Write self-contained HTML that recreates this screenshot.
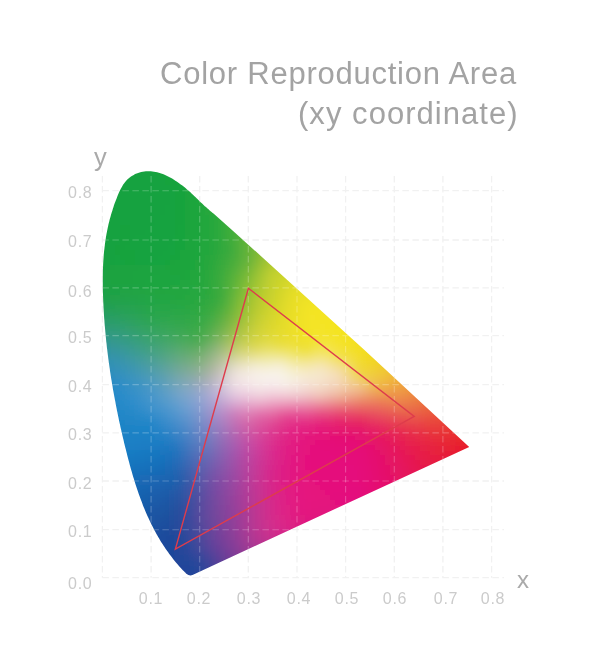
<!DOCTYPE html>
<html><head><meta charset="utf-8"><title>Color Reproduction Area</title>
<style>
html,body{margin:0;padding:0;background:#fff}
body{width:605px;height:657px;position:relative;overflow:hidden;font-family:"Liberation Sans",sans-serif}
svg{position:absolute;left:0;top:0}
.cells rect{height:5px}
.gridbg line{stroke:#f1f1f1;stroke-width:1.3;stroke-dasharray:6.5 3.5}
.gridfg line{stroke:#fff;stroke-opacity:.24;stroke-width:1.15;stroke-dasharray:6.5 3.5}
.title,.t,.ax{will-change:transform}
.title{position:absolute;right:89px;color:#a3a3a3;font-size:31px;white-space:nowrap;line-height:40px;transform-origin:100% 50%}
.t{position:absolute;color:#cbcbcb;font-size:16px;line-height:15px;white-space:nowrap;letter-spacing:.7px}
.yl{left:50px;width:42.4px;text-align:right}
.xl{top:591px;width:40px;text-align:center}
.ax{position:absolute;color:#aaa;font-size:24px;line-height:24px}
</style></head><body>
<div class="title" id="t1" style="top:54px;right:88px;letter-spacing:.76px">Color Reproduction Area</div>
<div class="title" id="t2" style="top:94px;right:86.7px;letter-spacing:1.04px">(xy coordinate)</div>
<svg width="605" height="657" viewBox="0 0 605 657">
<defs>
<clipPath id="locus"><path d="M186.3 573.7C185.9 573.3 184.7 572.1 184.0 571.3C183.2 570.5 182.4 569.7 181.7 568.9C180.9 568.1 180.2 567.3 179.4 566.5C178.7 565.6 178.0 564.8 177.3 564.0C176.5 563.2 175.8 562.3 175.1 561.5C174.4 560.6 173.8 559.8 173.1 558.9C172.4 558.1 171.7 557.2 171.1 556.3C170.4 555.5 169.8 554.6 169.1 553.7C168.5 552.9 167.9 552.0 167.2 551.1C166.6 550.2 166.0 549.3 165.4 548.4C164.8 547.5 164.2 546.6 163.6 545.7C163.0 544.8 162.4 543.9 161.8 543.0C161.3 542.1 160.7 541.2 160.1 540.2C159.6 539.3 159.0 538.4 158.5 537.5C157.9 536.5 157.4 535.6 156.9 534.7C156.3 533.7 155.8 532.8 155.3 531.8C154.8 530.9 154.3 529.9 153.8 529.0C153.3 528.0 152.8 527.1 152.3 526.1C151.8 525.1 151.3 524.2 150.9 523.2C150.4 522.2 149.9 521.2 149.5 520.3C149.0 519.3 148.6 518.3 148.1 517.3C147.7 516.3 147.2 515.4 146.8 514.4C146.4 513.4 145.9 512.4 145.5 511.4C145.1 510.4 144.7 509.4 144.3 508.4C143.8 507.4 143.4 506.4 143.0 505.4C142.6 504.4 142.2 503.4 141.9 502.3C141.5 501.3 141.1 500.3 140.7 499.3C140.3 498.3 140.0 497.3 139.6 496.2C139.2 495.2 138.9 494.2 138.5 493.2C138.1 492.1 137.8 491.1 137.4 490.1C137.1 489.0 136.7 488.0 136.4 487.0C136.1 485.9 135.7 484.9 135.4 483.9C135.1 482.8 134.7 481.8 134.4 480.7C134.1 479.7 133.8 478.6 133.4 477.6C133.1 476.6 132.8 475.5 132.5 474.5C132.2 473.4 131.9 472.4 131.6 471.3C131.3 470.3 131.0 469.2 130.7 468.2C130.4 467.1 130.1 466.0 129.8 465.0C129.5 463.9 129.2 462.9 129.0 461.8C128.7 460.8 128.4 459.7 128.1 458.6C127.8 457.6 127.6 456.5 127.3 455.5C127.0 454.4 126.8 453.3 126.5 452.3C126.2 451.2 126.0 450.2 125.7 449.1C125.4 448.0 125.2 447.0 124.9 445.9C124.6 444.8 124.4 443.8 124.1 442.7C123.9 441.6 123.6 440.6 123.4 439.5C123.1 438.5 122.9 437.4 122.6 436.3C122.4 435.3 122.1 434.2 121.9 433.1C121.6 432.1 121.4 431.0 121.2 429.9C120.9 428.9 120.7 427.8 120.4 426.7C120.2 425.7 120.0 424.6 119.7 423.6C119.5 422.5 119.3 421.4 119.0 420.4C118.8 419.3 118.6 418.2 118.4 417.2C118.1 416.1 117.9 415.0 117.7 414.0C117.5 412.9 117.3 411.8 117.0 410.8C116.8 409.7 116.6 408.6 116.4 407.6C116.2 406.5 116.0 405.4 115.8 404.4C115.6 403.3 115.4 402.2 115.2 401.1C115.0 400.1 114.8 399.0 114.6 397.9C114.4 396.9 114.2 395.8 114.0 394.7C113.8 393.7 113.6 392.6 113.4 391.5C113.2 390.5 113.0 389.4 112.8 388.3C112.7 387.2 112.5 386.2 112.3 385.1C112.1 384.0 111.9 383.0 111.8 381.9C111.6 380.8 111.4 379.7 111.2 378.7C111.1 377.6 110.9 376.5 110.7 375.4C110.6 374.4 110.4 373.3 110.2 372.2C110.1 371.2 109.9 370.1 109.8 369.0C109.6 367.9 109.4 366.9 109.3 365.8C109.1 364.7 109.0 363.6 108.8 362.6C108.7 361.5 108.6 360.4 108.4 359.3C108.3 358.3 108.1 357.2 108.0 356.1C107.9 355.0 107.7 353.9 107.6 352.9C107.5 351.8 107.3 350.7 107.2 349.6C107.1 348.6 106.9 347.5 106.8 346.4C106.7 345.3 106.6 344.2 106.5 343.2C106.3 342.1 106.2 341.0 106.1 339.9C106.0 338.8 105.9 337.8 105.8 336.7C105.7 335.6 105.6 334.5 105.5 333.4C105.4 332.4 105.3 331.3 105.2 330.2C105.1 329.1 105.0 328.0 104.9 327.0C104.8 325.9 104.7 324.8 104.6 323.7C104.5 322.6 104.5 321.5 104.4 320.4C104.3 319.4 104.2 318.3 104.1 317.2C104.1 316.1 104.0 315.0 103.9 313.9C103.9 312.9 103.8 311.8 103.7 310.7C103.7 309.6 103.6 308.5 103.5 307.4C103.5 306.3 103.4 305.2 103.4 304.2C103.3 303.1 103.3 302.0 103.2 300.9C103.2 299.8 103.1 298.7 103.1 297.6C103.1 296.5 103.0 295.4 103.0 294.3C102.9 293.3 102.9 292.2 102.9 291.1C102.9 290.0 102.8 288.9 102.8 287.8C102.8 286.7 102.8 285.6 102.8 284.5C102.8 283.4 102.8 282.3 102.8 281.2C102.8 280.2 102.8 279.1 102.8 278.0C102.8 276.9 102.8 275.8 102.8 274.7C102.8 273.6 102.8 272.5 102.9 271.4C102.9 270.3 102.9 269.3 103.0 268.2C103.0 267.1 103.1 266.0 103.1 264.9C103.2 263.8 103.2 262.7 103.3 261.6C103.3 260.6 103.4 259.5 103.5 258.4C103.6 257.3 103.7 256.2 103.7 255.1C103.8 254.1 103.9 253.0 104.0 251.9C104.1 250.8 104.3 249.7 104.4 248.7C104.5 247.6 104.6 246.5 104.8 245.4C104.9 244.3 105.0 243.3 105.2 242.2C105.3 241.1 105.5 240.0 105.7 239.0C105.8 237.9 106.0 236.8 106.2 235.8C106.4 234.7 106.6 233.6 106.8 232.6C107.0 231.5 107.2 230.4 107.4 229.4C107.6 228.3 107.9 227.2 108.1 226.2C108.3 225.1 108.6 224.1 108.8 223.0C109.1 222.0 109.4 220.9 109.6 219.8C109.9 218.8 110.2 217.7 110.5 216.7C110.8 215.6 111.1 214.6 111.4 213.5C111.7 212.5 112.0 211.4 112.4 210.4C112.7 209.3 113.0 208.3 113.4 207.3C113.7 206.2 114.1 205.2 114.4 204.1C114.8 203.1 115.2 202.0 115.6 201.0C116.0 200.0 116.4 198.9 116.8 197.9C117.2 196.9 117.6 195.8 118.0 194.8C118.4 193.8 118.9 192.7 119.3 191.7C119.8 190.7 120.3 189.7 120.8 188.8C121.3 187.8 121.8 186.8 122.4 185.9C122.9 185.0 123.5 184.1 124.2 183.2C124.8 182.4 125.5 181.5 126.2 180.8C126.9 180.0 127.7 179.2 128.5 178.5C129.3 177.8 130.1 177.2 131.0 176.6C131.8 176.0 132.8 175.4 133.7 174.9C134.6 174.4 135.6 174.0 136.6 173.6C137.6 173.1 138.6 172.8 139.6 172.5C140.6 172.2 141.7 171.9 142.7 171.7C143.8 171.5 144.9 171.4 145.9 171.3C147.0 171.2 148.1 171.2 149.2 171.2C150.2 171.2 151.3 171.3 152.4 171.4C153.5 171.5 154.5 171.7 155.6 171.9C156.7 172.1 157.7 172.4 158.8 172.7C159.9 173.0 160.9 173.4 162.0 173.7C163.0 174.1 164.0 174.5 165.1 175.0C166.1 175.4 167.1 175.9 168.1 176.4C169.1 176.9 170.1 177.4 171.1 178.0C172.1 178.5 173.0 179.1 174.0 179.7C174.9 180.3 175.8 180.9 176.7 181.5C177.7 182.1 178.5 182.7 179.4 183.4C180.3 184.0 181.2 184.6 182.0 185.3C182.9 186.0 183.7 186.7 184.6 187.3C185.4 188.0 186.2 188.7 187.0 189.4C187.9 190.1 188.7 190.9 189.5 191.6C190.3 192.3 191.1 193.0 191.8 193.8C192.6 194.5 193.4 195.2 194.2 196.0C195.0 196.7 195.8 197.4 196.6 198.2C197.3 198.9 198.1 199.7 198.9 200.4C199.7 201.2 200.5 201.9 201.2 202.7C202.0 203.4 202.8 204.2 203.6 204.9C204.4 205.7 205.2 206.4 206.0 207.1C206.8 207.9 207.6 208.6 208.5 209.3C209.3 210.1 210.1 210.8 210.9 211.5C211.8 212.2 213.1 213.2 213.5 213.6Q342.7 328.8 469.2 446.9L192.5 574.9Q189.6 576.3 186.3 573.7Z"/></clipPath>
<filter id="bl" x="-5%" y="-5%" width="110%" height="110%"><feGaussianBlur stdDeviation="4"/></filter>
</defs>
<g class="gridbg">
<line x1="102.4" y1="176" x2="102.4" y2="577.7"/>
<line x1="102.4" y1="577.7" x2="504" y2="577.7"/>
<line x1="151.1" y1="176" x2="151.1" y2="577.7"/>
<line x1="102.4" y1="529.7" x2="504" y2="529.7"/>
<line x1="199.7" y1="176" x2="199.7" y2="577.7"/>
<line x1="102.4" y1="481.0" x2="504" y2="481.0"/>
<line x1="248.3" y1="176" x2="248.3" y2="577.7"/>
<line x1="102.4" y1="432.8" x2="504" y2="432.8"/>
<line x1="297.0" y1="176" x2="297.0" y2="577.7"/>
<line x1="102.4" y1="384.6" x2="504" y2="384.6"/>
<line x1="345.6" y1="176" x2="345.6" y2="577.7"/>
<line x1="102.4" y1="335.6" x2="504" y2="335.6"/>
<line x1="394.3" y1="176" x2="394.3" y2="577.7"/>
<line x1="102.4" y1="287.9" x2="504" y2="287.9"/>
<line x1="442.9" y1="176" x2="442.9" y2="577.7"/>
<line x1="102.4" y1="240.0" x2="504" y2="240.0"/>
<line x1="491.6" y1="176" x2="491.6" y2="577.7"/>
<line x1="102.4" y1="190.7" x2="504" y2="190.7"/>
</g>
<g clip-path="url(#locus)">
<rect x="90" y="160" width="400" height="440" fill="#fff"/>
<g class="cells" filter="url(#bl)" shape-rendering="crispEdges">
<g transform="translate(0,160)"><rect x="90" width="5" fill="#13a240"/><rect x="95" width="5" fill="#14a240"/><rect x="100" width="5" fill="#15a240"/><rect x="105" width="5" fill="#15a23f"/><rect x="110" width="10" fill="#16a23f"/><rect x="120" width="5" fill="#16a33e"/><rect x="125" width="10" fill="#17a33e"/><rect x="135" width="15" fill="#18a33e"/><rect x="150" width="5" fill="#19a33e"/><rect x="155" width="5" fill="#1aa33d"/><rect x="160" width="5" fill="#1ba43d"/><rect x="165" width="5" fill="#1ca43c"/><rect x="170" width="5" fill="#1da43c"/><rect x="175" width="5" fill="#1ea53b"/><rect x="180" width="5" fill="#20a63a"/><rect x="185" width="5" fill="#23a639"/><rect x="190" width="5" fill="#25a739"/><rect x="195" width="5" fill="#28a838"/><rect x="200" width="5" fill="#2ba937"/><rect x="205" width="5" fill="#2eaa36"/><rect x="210" width="5" fill="#32aa35"/><rect x="215" width="5" fill="#36ab34"/><rect x="220" width="5" fill="#3aad33"/><rect x="225" width="5" fill="#3eae32"/><rect x="230" width="5" fill="#42af31"/><rect x="235" width="5" fill="#46b02f"/><rect x="240" width="5" fill="#4bb12e"/><rect x="245" width="5" fill="#4fb22d"/><rect x="250" width="5" fill="#54b32c"/><rect x="255" width="5" fill="#59b42a"/><rect x="260" width="5" fill="#5db529"/><rect x="265" width="5" fill="#62b628"/><rect x="270" width="5" fill="#66b826"/><rect x="275" width="5" fill="#6bb925"/><rect x="280" width="5" fill="#6fba24"/><rect x="285" width="5" fill="#74bb22"/><rect x="290" width="5" fill="#78bc21"/><rect x="295" width="5" fill="#7cbc20"/><rect x="300" width="5" fill="#80bd1e"/><rect x="305" width="5" fill="#84be1d"/><rect x="310" width="5" fill="#88bf1c"/><rect x="315" width="5" fill="#8bbf1b"/><rect x="320" width="5" fill="#8fc019"/><rect x="325" width="5" fill="#92c018"/><rect x="330" width="5" fill="#95c117"/><rect x="335" width="5" fill="#98c116"/><rect x="340" width="5" fill="#9bc114"/><rect x="345" width="5" fill="#9ec213"/><rect x="350" width="5" fill="#a0c212"/><rect x="355" width="5" fill="#a3c211"/><rect x="360" width="5" fill="#a5c210"/><rect x="365" width="5" fill="#a7c20f"/><rect x="370" width="5" fill="#a9c10e"/><rect x="375" width="5" fill="#abc10d"/><rect x="380" width="5" fill="#adc10c"/><rect x="385" width="5" fill="#afc10c"/><rect x="390" width="5" fill="#b1c00b"/><rect x="395" width="5" fill="#b3c00a"/><rect x="400" width="5" fill="#b4bf09"/><rect x="405" width="5" fill="#b6be08"/><rect x="410" width="5" fill="#b7be08"/><rect x="415" width="5" fill="#b9bd07"/><rect x="420" width="5" fill="#babc07"/><rect x="425" width="5" fill="#bbbb06"/><rect x="430" width="5" fill="#bcbb05"/><rect x="435" width="5" fill="#bdba05"/><rect x="440" width="5" fill="#bfb904"/><rect x="445" width="5" fill="#c0b804"/><rect x="450" width="5" fill="#c1b703"/><rect x="455" width="5" fill="#c2b603"/><rect x="460" width="5" fill="#c2b503"/><rect x="465" width="5" fill="#c3b402"/><rect x="470" width="5" fill="#c4b302"/><rect x="475" width="5" fill="#c5b102"/><rect x="480" width="5" fill="#c6b001"/></g>
<g transform="translate(0,165)"><rect x="90" width="5" fill="#13a241"/><rect x="95" width="10" fill="#14a240"/><rect x="105" width="5" fill="#15a23f"/><rect x="110" width="15" fill="#16a23f"/><rect x="125" width="20" fill="#17a23f"/><rect x="145" width="5" fill="#18a23e"/><rect x="150" width="5" fill="#18a33e"/><rect x="155" width="5" fill="#19a33e"/><rect x="160" width="5" fill="#19a33d"/><rect x="165" width="5" fill="#1aa43d"/><rect x="170" width="5" fill="#1ca43c"/><rect x="175" width="5" fill="#1da43c"/><rect x="180" width="5" fill="#1fa53b"/><rect x="185" width="5" fill="#21a63a"/><rect x="190" width="5" fill="#24a739"/><rect x="195" width="5" fill="#27a738"/><rect x="200" width="5" fill="#2aa838"/><rect x="205" width="5" fill="#2da937"/><rect x="210" width="5" fill="#31aa36"/><rect x="215" width="5" fill="#35ab35"/><rect x="220" width="5" fill="#39ac33"/><rect x="225" width="5" fill="#3dad32"/><rect x="230" width="5" fill="#42af31"/><rect x="235" width="5" fill="#46b030"/><rect x="240" width="5" fill="#4bb12f"/><rect x="245" width="5" fill="#50b22e"/><rect x="250" width="5" fill="#55b32c"/><rect x="255" width="5" fill="#59b42b"/><rect x="260" width="5" fill="#5eb62a"/><rect x="265" width="5" fill="#63b728"/><rect x="270" width="5" fill="#68b827"/><rect x="275" width="5" fill="#6cb926"/><rect x="280" width="5" fill="#71ba24"/><rect x="285" width="5" fill="#75bb23"/><rect x="290" width="5" fill="#7abc21"/><rect x="295" width="5" fill="#7ebd20"/><rect x="300" width="5" fill="#82be1f"/><rect x="305" width="5" fill="#86bf1d"/><rect x="310" width="5" fill="#8abf1c"/><rect x="315" width="5" fill="#8dc01b"/><rect x="320" width="5" fill="#91c119"/><rect x="325" width="5" fill="#94c118"/><rect x="330" width="5" fill="#97c217"/><rect x="335" width="5" fill="#9ac216"/><rect x="340" width="5" fill="#9dc214"/><rect x="345" width="5" fill="#a0c213"/><rect x="350" width="5" fill="#a2c212"/><rect x="355" width="5" fill="#a5c211"/><rect x="360" width="5" fill="#a7c210"/><rect x="365" width="5" fill="#aac20f"/><rect x="370" width="5" fill="#acc20e"/><rect x="375" width="5" fill="#aec20d"/><rect x="380" width="5" fill="#b0c20c"/><rect x="385" width="5" fill="#b1c10b"/><rect x="390" width="5" fill="#b3c10b"/><rect x="395" width="5" fill="#b5c00a"/><rect x="400" width="5" fill="#b6c009"/><rect x="405" width="5" fill="#b8bf08"/><rect x="410" width="5" fill="#b9be08"/><rect x="415" width="5" fill="#bbbd07"/><rect x="420" width="5" fill="#bcbd06"/><rect x="425" width="5" fill="#bdbc06"/><rect x="430" width="5" fill="#bebb05"/><rect x="435" width="5" fill="#bfba05"/><rect x="440" width="5" fill="#c0b904"/><rect x="445" width="5" fill="#c1b804"/><rect x="450" width="5" fill="#c2b703"/><rect x="455" width="5" fill="#c3b603"/><rect x="460" width="5" fill="#c4b503"/><rect x="465" width="5" fill="#c5b402"/><rect x="470" width="5" fill="#c6b302"/><rect x="475" width="5" fill="#c6b102"/><rect x="480" width="5" fill="#c7b001"/></g>
<g transform="translate(0,170)"><rect x="90" width="5" fill="#13a241"/><rect x="95" width="10" fill="#14a240"/><rect x="105" width="5" fill="#15a240"/><rect x="110" width="15" fill="#16a23f"/><rect x="125" width="30" fill="#17a23f"/><rect x="155" width="5" fill="#18a33e"/><rect x="160" width="5" fill="#19a33e"/><rect x="165" width="5" fill="#19a33d"/><rect x="170" width="5" fill="#1aa43d"/><rect x="175" width="5" fill="#1ca43c"/><rect x="180" width="5" fill="#1da53c"/><rect x="185" width="5" fill="#20a53b"/><rect x="190" width="5" fill="#22a63a"/><rect x="195" width="5" fill="#25a739"/><rect x="200" width="5" fill="#29a838"/><rect x="205" width="5" fill="#2ca937"/><rect x="210" width="5" fill="#30aa36"/><rect x="215" width="5" fill="#34ab35"/><rect x="220" width="5" fill="#38ac34"/><rect x="225" width="5" fill="#3dad33"/><rect x="230" width="5" fill="#41ae32"/><rect x="235" width="5" fill="#46b031"/><rect x="240" width="5" fill="#4bb12f"/><rect x="245" width="5" fill="#50b22e"/><rect x="250" width="5" fill="#55b32d"/><rect x="255" width="5" fill="#5ab52b"/><rect x="260" width="5" fill="#5fb62a"/><rect x="265" width="5" fill="#64b729"/><rect x="270" width="5" fill="#69b827"/><rect x="275" width="5" fill="#6eb926"/><rect x="280" width="5" fill="#73ba25"/><rect x="285" width="5" fill="#77bc23"/><rect x="290" width="5" fill="#7cbd22"/><rect x="295" width="5" fill="#80be20"/><rect x="300" width="5" fill="#84be1f"/><rect x="305" width="5" fill="#88bf1e"/><rect x="310" width="5" fill="#8cc01c"/><rect x="315" width="5" fill="#90c11b"/><rect x="320" width="5" fill="#93c11a"/><rect x="325" width="5" fill="#96c218"/><rect x="330" width="5" fill="#9ac217"/><rect x="335" width="5" fill="#9dc316"/><rect x="340" width="5" fill="#a0c315"/><rect x="345" width="5" fill="#a2c313"/><rect x="350" width="5" fill="#a5c312"/><rect x="355" width="5" fill="#a7c311"/><rect x="360" width="5" fill="#aac310"/><rect x="365" width="5" fill="#acc30f"/><rect x="370" width="5" fill="#aec30e"/><rect x="375" width="5" fill="#b0c30d"/><rect x="380" width="5" fill="#b2c20c"/><rect x="385" width="5" fill="#b4c20b"/><rect x="390" width="5" fill="#b5c10a"/><rect x="395" width="5" fill="#b7c10a"/><rect x="400" width="5" fill="#b8c009"/><rect x="405" width="5" fill="#babf08"/><rect x="410" width="5" fill="#bbbf08"/><rect x="415" width="5" fill="#bcbe07"/><rect x="420" width="5" fill="#bebd06"/><rect x="425" width="5" fill="#bfbc06"/><rect x="430" width="5" fill="#c0bb05"/><rect x="435" width="5" fill="#c1ba05"/><rect x="440" width="5" fill="#c2b904"/><rect x="445" width="5" fill="#c3b804"/><rect x="450" width="5" fill="#c4b703"/><rect x="455" width="5" fill="#c5b603"/><rect x="460" width="5" fill="#c6b503"/><rect x="465" width="5" fill="#c6b402"/><rect x="470" width="5" fill="#c7b302"/><rect x="475" width="5" fill="#c8b102"/><rect x="480" width="5" fill="#c9b001"/></g>
<g transform="translate(0,175)"><rect x="90" width="5" fill="#13a241"/><rect x="95" width="5" fill="#14a241"/><rect x="100" width="10" fill="#15a240"/><rect x="110" width="15" fill="#16a23f"/><rect x="125" width="35" fill="#17a23f"/><rect x="160" width="10" fill="#18a33e"/><rect x="170" width="5" fill="#19a33e"/><rect x="175" width="5" fill="#1aa43d"/><rect x="180" width="5" fill="#1ca43c"/><rect x="185" width="5" fill="#1ea53c"/><rect x="190" width="5" fill="#21a63b"/><rect x="195" width="5" fill="#24a73a"/><rect x="200" width="5" fill="#27a839"/><rect x="205" width="5" fill="#2ba938"/><rect x="210" width="5" fill="#2faa37"/><rect x="215" width="5" fill="#33ab36"/><rect x="220" width="5" fill="#38ac35"/><rect x="225" width="5" fill="#3cad34"/><rect x="230" width="5" fill="#41ae32"/><rect x="235" width="5" fill="#46b031"/><rect x="240" width="5" fill="#4bb130"/><rect x="245" width="5" fill="#51b22f"/><rect x="250" width="5" fill="#56b32d"/><rect x="255" width="5" fill="#5bb52c"/><rect x="260" width="5" fill="#60b62b"/><rect x="265" width="5" fill="#65b729"/><rect x="270" width="5" fill="#6bb928"/><rect x="275" width="5" fill="#70ba26"/><rect x="280" width="5" fill="#74bb25"/><rect x="285" width="5" fill="#79bc24"/><rect x="290" width="5" fill="#7ebd22"/><rect x="295" width="5" fill="#82be21"/><rect x="300" width="5" fill="#86bf1f"/><rect x="305" width="5" fill="#8bc01e"/><rect x="310" width="5" fill="#8ec11c"/><rect x="315" width="5" fill="#92c11b"/><rect x="320" width="5" fill="#96c21a"/><rect x="325" width="5" fill="#99c318"/><rect x="330" width="5" fill="#9cc317"/><rect x="335" width="5" fill="#9fc316"/><rect x="340" width="5" fill="#a2c415"/><rect x="345" width="5" fill="#a5c413"/><rect x="350" width="5" fill="#a7c412"/><rect x="355" width="5" fill="#aac411"/><rect x="360" width="5" fill="#acc410"/><rect x="365" width="5" fill="#aec40f"/><rect x="370" width="5" fill="#b0c40e"/><rect x="375" width="5" fill="#b2c30d"/><rect x="380" width="5" fill="#b4c30c"/><rect x="385" width="5" fill="#b6c20b"/><rect x="390" width="5" fill="#b7c20a"/><rect x="395" width="5" fill="#b9c10a"/><rect x="400" width="5" fill="#bac109"/><rect x="405" width="5" fill="#bcc008"/><rect x="410" width="5" fill="#bdbf07"/><rect x="415" width="5" fill="#bebe07"/><rect x="420" width="5" fill="#c0bd06"/><rect x="425" width="5" fill="#c1bd06"/><rect x="430" width="5" fill="#c2bc05"/><rect x="435" width="5" fill="#c3bb05"/><rect x="440" width="5" fill="#c4ba04"/><rect x="445" width="5" fill="#c5b804"/><rect x="450" width="5" fill="#c6b703"/><rect x="455" width="5" fill="#c6b603"/><rect x="460" width="5" fill="#c7b503"/><rect x="465" width="5" fill="#c8b402"/><rect x="470" width="5" fill="#c9b302"/><rect x="475" width="5" fill="#c9b102"/><rect x="480" width="5" fill="#cab001"/></g>
<g transform="translate(0,180)"><rect x="90" width="5" fill="#13a241"/><rect x="95" width="5" fill="#14a241"/><rect x="100" width="10" fill="#15a240"/><rect x="110" width="10" fill="#16a23f"/><rect x="120" width="45" fill="#17a23f"/><rect x="165" width="5" fill="#17a33e"/><rect x="170" width="5" fill="#18a33e"/><rect x="175" width="5" fill="#19a33e"/><rect x="180" width="5" fill="#1aa43d"/><rect x="185" width="5" fill="#1da43c"/><rect x="190" width="5" fill="#20a53b"/><rect x="195" width="5" fill="#23a63a"/><rect x="200" width="5" fill="#26a73a"/><rect x="205" width="5" fill="#2aa839"/><rect x="210" width="5" fill="#2ea938"/><rect x="215" width="5" fill="#32ab37"/><rect x="220" width="5" fill="#37ac35"/><rect x="225" width="5" fill="#3cad34"/><rect x="230" width="5" fill="#41ae33"/><rect x="235" width="5" fill="#46b032"/><rect x="240" width="5" fill="#4cb131"/><rect x="245" width="5" fill="#51b22f"/><rect x="250" width="5" fill="#57b42e"/><rect x="255" width="5" fill="#5cb52d"/><rect x="260" width="5" fill="#62b62b"/><rect x="265" width="5" fill="#67b82a"/><rect x="270" width="5" fill="#6cb928"/><rect x="275" width="5" fill="#71ba27"/><rect x="280" width="5" fill="#76bc25"/><rect x="285" width="5" fill="#7bbd24"/><rect x="290" width="5" fill="#80be22"/><rect x="295" width="5" fill="#85bf21"/><rect x="300" width="5" fill="#89c01f"/><rect x="305" width="5" fill="#8dc11e"/><rect x="310" width="5" fill="#91c21d"/><rect x="315" width="5" fill="#95c21b"/><rect x="320" width="5" fill="#98c31a"/><rect x="325" width="5" fill="#9cc418"/><rect x="330" width="5" fill="#9fc417"/><rect x="335" width="5" fill="#a2c416"/><rect x="340" width="5" fill="#a5c515"/><rect x="345" width="5" fill="#a7c513"/><rect x="350" width="5" fill="#aac512"/><rect x="355" width="5" fill="#acc511"/><rect x="360" width="5" fill="#afc510"/><rect x="365" width="5" fill="#b1c50f"/><rect x="370" width="5" fill="#b3c40e"/><rect x="375" width="5" fill="#b5c40d"/><rect x="380" width="5" fill="#b6c40c"/><rect x="385" width="5" fill="#b8c30b"/><rect x="390" width="5" fill="#bac30a"/><rect x="395" width="5" fill="#bbc209"/><rect x="400" width="5" fill="#bdc109"/><rect x="405" width="5" fill="#bec108"/><rect x="410" width="5" fill="#bfc007"/><rect x="415" width="5" fill="#c0bf07"/><rect x="420" width="5" fill="#c2be06"/><rect x="425" width="5" fill="#c3bd06"/><rect x="430" width="5" fill="#c4bc05"/><rect x="435" width="5" fill="#c5bb05"/><rect x="440" width="5" fill="#c6ba04"/><rect x="445" width="5" fill="#c6b904"/><rect x="450" width="5" fill="#c7b703"/><rect x="455" width="5" fill="#c8b603"/><rect x="460" width="5" fill="#c9b502"/><rect x="465" width="5" fill="#cab402"/><rect x="470" width="5" fill="#cab302"/><rect x="475" width="5" fill="#cbb102"/><rect x="480" width="5" fill="#cbb001"/></g>
<g transform="translate(0,185)"><rect x="90" width="5" fill="#14a141"/><rect x="95" width="5" fill="#14a241"/><rect x="100" width="10" fill="#15a240"/><rect x="110" width="10" fill="#16a23f"/><rect x="120" width="50" fill="#17a23f"/><rect x="170" width="5" fill="#17a33e"/><rect x="175" width="5" fill="#18a33e"/><rect x="180" width="5" fill="#19a33e"/><rect x="185" width="5" fill="#1ca43d"/><rect x="190" width="5" fill="#1fa53c"/><rect x="195" width="5" fill="#22a63b"/><rect x="200" width="5" fill="#25a73a"/><rect x="205" width="5" fill="#29a839"/><rect x="210" width="5" fill="#2da938"/><rect x="215" width="5" fill="#32aa37"/><rect x="220" width="5" fill="#37ac36"/><rect x="225" width="5" fill="#3cad35"/><rect x="230" width="5" fill="#41ae34"/><rect x="235" width="5" fill="#46af33"/><rect x="240" width="5" fill="#4cb131"/><rect x="245" width="5" fill="#52b230"/><rect x="250" width="5" fill="#57b42f"/><rect x="255" width="5" fill="#5db52d"/><rect x="260" width="5" fill="#63b72c"/><rect x="265" width="5" fill="#68b82a"/><rect x="270" width="5" fill="#6eb929"/><rect x="275" width="5" fill="#73bb27"/><rect x="280" width="5" fill="#79bc26"/><rect x="285" width="5" fill="#7ebd24"/><rect x="290" width="5" fill="#82be23"/><rect x="295" width="5" fill="#87c021"/><rect x="300" width="5" fill="#8cc120"/><rect x="305" width="5" fill="#90c21e"/><rect x="310" width="5" fill="#94c21d"/><rect x="315" width="5" fill="#97c31b"/><rect x="320" width="5" fill="#9bc41a"/><rect x="325" width="5" fill="#9ec418"/><rect x="330" width="5" fill="#a2c517"/><rect x="335" width="5" fill="#a5c516"/><rect x="340" width="5" fill="#a7c615"/><rect x="345" width="5" fill="#aac613"/><rect x="350" width="5" fill="#adc612"/><rect x="355" width="5" fill="#afc611"/><rect x="360" width="5" fill="#b1c610"/><rect x="365" width="5" fill="#b3c50f"/><rect x="370" width="5" fill="#b5c50e"/><rect x="375" width="5" fill="#b7c50d"/><rect x="380" width="5" fill="#b9c40c"/><rect x="385" width="5" fill="#bac40b"/><rect x="390" width="5" fill="#bcc30a"/><rect x="395" width="5" fill="#bdc309"/><rect x="400" width="5" fill="#bfc209"/><rect x="405" width="5" fill="#c0c108"/><rect x="410" width="5" fill="#c1c007"/><rect x="415" width="5" fill="#c2bf07"/><rect x="420" width="5" fill="#c4be06"/><rect x="425" width="5" fill="#c5bd05"/><rect x="430" width="5" fill="#c6bc05"/><rect x="435" width="5" fill="#c6bb04"/><rect x="440" width="5" fill="#c7ba04"/><rect x="445" width="5" fill="#c8b904"/><rect x="450" width="5" fill="#c9b803"/><rect x="455" width="5" fill="#cab603"/><rect x="460" width="5" fill="#cab502"/><rect x="465" width="5" fill="#cbb402"/><rect x="470" width="5" fill="#ccb202"/><rect x="475" width="5" fill="#ccb102"/><rect x="480" width="5" fill="#cdb001"/></g>
<g transform="translate(0,190)"><rect x="90" width="5" fill="#14a141"/><rect x="95" width="5" fill="#14a241"/><rect x="100" width="5" fill="#15a240"/><rect x="105" width="5" fill="#16a240"/><rect x="110" width="10" fill="#16a23f"/><rect x="120" width="40" fill="#17a23f"/><rect x="160" width="5" fill="#16a23f"/><rect x="165" width="5" fill="#17a23f"/><rect x="170" width="5" fill="#17a33f"/><rect x="175" width="5" fill="#17a33e"/><rect x="180" width="5" fill="#19a33e"/><rect x="185" width="5" fill="#1ba43d"/><rect x="190" width="5" fill="#1ea53c"/><rect x="195" width="5" fill="#21a63b"/><rect x="200" width="5" fill="#24a73b"/><rect x="205" width="5" fill="#28a83a"/><rect x="210" width="5" fill="#2ca939"/><rect x="215" width="5" fill="#31aa38"/><rect x="220" width="5" fill="#36ab37"/><rect x="225" width="5" fill="#3bad36"/><rect x="230" width="5" fill="#41ae34"/><rect x="235" width="5" fill="#47af33"/><rect x="240" width="5" fill="#4cb132"/><rect x="245" width="5" fill="#52b231"/><rect x="250" width="5" fill="#58b42f"/><rect x="255" width="5" fill="#5eb52e"/><rect x="260" width="5" fill="#64b72c"/><rect x="265" width="5" fill="#6ab82b"/><rect x="270" width="5" fill="#70ba29"/><rect x="275" width="5" fill="#76bb28"/><rect x="280" width="5" fill="#7bbd26"/><rect x="285" width="5" fill="#80be25"/><rect x="290" width="5" fill="#85bf23"/><rect x="295" width="5" fill="#8ac021"/><rect x="300" width="5" fill="#8ec120"/><rect x="305" width="5" fill="#93c21e"/><rect x="310" width="5" fill="#97c31d"/><rect x="315" width="5" fill="#9ac41b"/><rect x="320" width="5" fill="#9ec51a"/><rect x="325" width="5" fill="#a1c519"/><rect x="330" width="5" fill="#a5c617"/><rect x="335" width="5" fill="#a8c616"/><rect x="340" width="5" fill="#aac614"/><rect x="345" width="5" fill="#adc713"/><rect x="350" width="5" fill="#afc712"/><rect x="355" width="5" fill="#b2c711"/><rect x="360" width="5" fill="#b4c710"/><rect x="365" width="5" fill="#b6c60f"/><rect x="370" width="5" fill="#b8c60e"/><rect x="375" width="5" fill="#bac60d"/><rect x="380" width="5" fill="#bbc50c"/><rect x="385" width="5" fill="#bdc50b"/><rect x="390" width="5" fill="#bec40a"/><rect x="395" width="5" fill="#c0c309"/><rect x="400" width="5" fill="#c1c208"/><rect x="405" width="5" fill="#c2c208"/><rect x="410" width="5" fill="#c3c107"/><rect x="415" width="5" fill="#c4c007"/><rect x="420" width="5" fill="#c5bf06"/><rect x="425" width="5" fill="#c6be05"/><rect x="430" width="5" fill="#c7bd05"/><rect x="435" width="5" fill="#c8bb04"/><rect x="440" width="5" fill="#c9ba04"/><rect x="445" width="5" fill="#cab904"/><rect x="450" width="5" fill="#cbb803"/><rect x="455" width="5" fill="#cbb603"/><rect x="460" width="5" fill="#ccb502"/><rect x="465" width="5" fill="#cdb402"/><rect x="470" width="5" fill="#cdb202"/><rect x="475" width="5" fill="#ceb102"/><rect x="480" width="5" fill="#ceb001"/></g>
<g transform="translate(0,195)"><rect x="90" width="5" fill="#14a141"/><rect x="95" width="5" fill="#15a141"/><rect x="100" width="5" fill="#15a240"/><rect x="105" width="5" fill="#16a240"/><rect x="110" width="10" fill="#16a23f"/><rect x="120" width="35" fill="#17a23f"/><rect x="155" width="15" fill="#16a23f"/><rect x="170" width="5" fill="#17a33f"/><rect x="175" width="5" fill="#17a33e"/><rect x="180" width="5" fill="#19a33e"/><rect x="185" width="5" fill="#1ba43d"/><rect x="190" width="5" fill="#1da53d"/><rect x="195" width="5" fill="#20a63c"/><rect x="200" width="5" fill="#23a73b"/><rect x="205" width="5" fill="#27a83a"/><rect x="210" width="5" fill="#2ba939"/><rect x="215" width="5" fill="#30aa38"/><rect x="220" width="5" fill="#35ab37"/><rect x="225" width="5" fill="#3bac36"/><rect x="230" width="5" fill="#41ae35"/><rect x="235" width="5" fill="#47af34"/><rect x="240" width="5" fill="#4db133"/><rect x="245" width="5" fill="#53b231"/><rect x="250" width="5" fill="#5ab430"/><rect x="255" width="5" fill="#60b62e"/><rect x="260" width="5" fill="#66b72d"/><rect x="265" width="5" fill="#6cb92b"/><rect x="270" width="5" fill="#72ba2a"/><rect x="275" width="5" fill="#78bc28"/><rect x="280" width="5" fill="#7dbd27"/><rect x="285" width="5" fill="#83bf25"/><rect x="290" width="5" fill="#88c023"/><rect x="295" width="5" fill="#8dc122"/><rect x="300" width="5" fill="#91c220"/><rect x="305" width="5" fill="#96c31f"/><rect x="310" width="5" fill="#9ac41d"/><rect x="315" width="5" fill="#9ec51c"/><rect x="320" width="5" fill="#a1c61a"/><rect x="325" width="5" fill="#a4c619"/><rect x="330" width="5" fill="#a8c717"/><rect x="335" width="5" fill="#abc716"/><rect x="340" width="5" fill="#adc714"/><rect x="345" width="5" fill="#b0c813"/><rect x="350" width="5" fill="#b2c812"/><rect x="355" width="5" fill="#b4c811"/><rect x="360" width="5" fill="#b7c710"/><rect x="365" width="5" fill="#b9c70f"/><rect x="370" width="5" fill="#bac70e"/><rect x="375" width="5" fill="#bcc60d"/><rect x="380" width="5" fill="#bec60c"/><rect x="385" width="5" fill="#bfc50b"/><rect x="390" width="5" fill="#c1c50a"/><rect x="395" width="5" fill="#c2c409"/><rect x="400" width="5" fill="#c3c308"/><rect x="405" width="5" fill="#c4c208"/><rect x="410" width="5" fill="#c5c107"/><rect x="415" width="5" fill="#c6c006"/><rect x="420" width="5" fill="#c7bf06"/><rect x="425" width="5" fill="#c8be05"/><rect x="430" width="5" fill="#c9bd05"/><rect x="435" width="5" fill="#cabc04"/><rect x="440" width="5" fill="#cbba04"/><rect x="445" width="5" fill="#ccb904"/><rect x="450" width="5" fill="#ccb803"/><rect x="455" width="5" fill="#cdb603"/><rect x="460" width="5" fill="#ceb502"/><rect x="465" width="5" fill="#ceb402"/><rect x="470" width="5" fill="#cfb202"/><rect x="475" width="5" fill="#cfb102"/><rect x="480" width="5" fill="#d0af01"/></g>
<g transform="translate(0,200)"><rect x="90" width="5" fill="#14a141"/><rect x="95" width="5" fill="#15a141"/><rect x="100" width="5" fill="#15a240"/><rect x="105" width="5" fill="#16a240"/><rect x="110" width="5" fill="#16a23f"/><rect x="115" width="40" fill="#17a23f"/><rect x="155" width="15" fill="#16a23f"/><rect x="170" width="5" fill="#17a33f"/><rect x="175" width="5" fill="#17a33e"/><rect x="180" width="5" fill="#19a43e"/><rect x="185" width="5" fill="#1aa43d"/><rect x="190" width="5" fill="#1ca53d"/><rect x="195" width="5" fill="#1fa63c"/><rect x="200" width="5" fill="#22a63b"/><rect x="205" width="5" fill="#26a73b"/><rect x="210" width="5" fill="#2ba83a"/><rect x="215" width="5" fill="#30aa39"/><rect x="220" width="5" fill="#35ab38"/><rect x="225" width="5" fill="#3bac37"/><rect x="230" width="5" fill="#41ae36"/><rect x="235" width="5" fill="#47af35"/><rect x="240" width="5" fill="#4eb133"/><rect x="245" width="5" fill="#54b332"/><rect x="250" width="5" fill="#5bb431"/><rect x="255" width="5" fill="#61b62f"/><rect x="260" width="5" fill="#68b82d"/><rect x="265" width="5" fill="#6eb92c"/><rect x="270" width="5" fill="#75bb2a"/><rect x="275" width="5" fill="#7bbc29"/><rect x="280" width="5" fill="#80be27"/><rect x="285" width="5" fill="#86bf25"/><rect x="290" width="5" fill="#8bc124"/><rect x="295" width="5" fill="#90c222"/><rect x="300" width="5" fill="#95c320"/><rect x="305" width="5" fill="#99c41f"/><rect x="310" width="5" fill="#9dc51d"/><rect x="315" width="5" fill="#a1c61c"/><rect x="320" width="5" fill="#a4c71a"/><rect x="325" width="5" fill="#a8c719"/><rect x="330" width="5" fill="#abc817"/><rect x="335" width="5" fill="#aec816"/><rect x="340" width="5" fill="#b0c814"/><rect x="345" width="5" fill="#b3c913"/><rect x="350" width="5" fill="#b5c912"/><rect x="355" width="5" fill="#b7c911"/><rect x="360" width="5" fill="#b9c810"/><rect x="365" width="5" fill="#bbc80e"/><rect x="370" width="5" fill="#bdc80d"/><rect x="375" width="5" fill="#bfc70c"/><rect x="380" width="5" fill="#c0c70b"/><rect x="385" width="5" fill="#c2c60b"/><rect x="390" width="5" fill="#c3c50a"/><rect x="395" width="5" fill="#c4c509"/><rect x="400" width="5" fill="#c5c408"/><rect x="405" width="5" fill="#c7c308"/><rect x="410" width="5" fill="#c8c207"/><rect x="415" width="5" fill="#c9c106"/><rect x="420" width="5" fill="#c9c006"/><rect x="425" width="5" fill="#cabe05"/><rect x="430" width="5" fill="#cbbd05"/><rect x="435" width="5" fill="#ccbc04"/><rect x="440" width="5" fill="#cdbb04"/><rect x="445" width="5" fill="#cdb903"/><rect x="450" width="5" fill="#ceb803"/><rect x="455" width="5" fill="#cfb603"/><rect x="460" width="5" fill="#cfb502"/><rect x="465" width="5" fill="#d0b402"/><rect x="470" width="5" fill="#d0b202"/><rect x="475" width="5" fill="#d1b102"/><rect x="480" width="5" fill="#d1af01"/></g>
<g transform="translate(0,205)"><rect x="90" width="5" fill="#14a142"/><rect x="95" width="5" fill="#15a141"/><rect x="100" width="10" fill="#16a240"/><rect x="110" width="40" fill="#17a23f"/><rect x="150" width="15" fill="#16a23f"/><rect x="165" width="5" fill="#16a33f"/><rect x="170" width="5" fill="#17a33f"/><rect x="175" width="5" fill="#17a33e"/><rect x="180" width="5" fill="#18a43e"/><rect x="185" width="5" fill="#1aa43e"/><rect x="190" width="5" fill="#1ca53d"/><rect x="195" width="5" fill="#1ea63d"/><rect x="200" width="5" fill="#22a63c"/><rect x="205" width="5" fill="#25a73b"/><rect x="210" width="5" fill="#2aa83b"/><rect x="215" width="5" fill="#2fa93a"/><rect x="220" width="5" fill="#34ab39"/><rect x="225" width="5" fill="#3aac38"/><rect x="230" width="5" fill="#41ae37"/><rect x="235" width="5" fill="#47af35"/><rect x="240" width="5" fill="#4eb134"/><rect x="245" width="5" fill="#55b333"/><rect x="250" width="5" fill="#5cb431"/><rect x="255" width="5" fill="#63b630"/><rect x="260" width="5" fill="#6ab82e"/><rect x="265" width="5" fill="#71ba2c"/><rect x="270" width="5" fill="#77bb2b"/><rect x="275" width="5" fill="#7dbd29"/><rect x="280" width="5" fill="#83bf27"/><rect x="285" width="5" fill="#89c026"/><rect x="290" width="5" fill="#8ec224"/><rect x="295" width="5" fill="#93c322"/><rect x="300" width="5" fill="#98c421"/><rect x="305" width="5" fill="#9cc51f"/><rect x="310" width="5" fill="#a0c61d"/><rect x="315" width="5" fill="#a4c71c"/><rect x="320" width="5" fill="#a8c81a"/><rect x="325" width="5" fill="#abc919"/><rect x="330" width="5" fill="#aec917"/><rect x="335" width="5" fill="#b1c916"/><rect x="340" width="5" fill="#b4ca14"/><rect x="345" width="5" fill="#b6ca13"/><rect x="350" width="5" fill="#b8ca12"/><rect x="355" width="5" fill="#baca11"/><rect x="360" width="5" fill="#bcc90f"/><rect x="365" width="5" fill="#bec90e"/><rect x="370" width="5" fill="#c0c90d"/><rect x="375" width="5" fill="#c1c80c"/><rect x="380" width="5" fill="#c3c80b"/><rect x="385" width="5" fill="#c4c70a"/><rect x="390" width="5" fill="#c5c60a"/><rect x="395" width="5" fill="#c7c509"/><rect x="400" width="5" fill="#c8c408"/><rect x="405" width="5" fill="#c9c307"/><rect x="410" width="5" fill="#cac207"/><rect x="415" width="5" fill="#cbc106"/><rect x="420" width="5" fill="#cbc006"/><rect x="425" width="5" fill="#ccbf05"/><rect x="430" width="5" fill="#cdbd05"/><rect x="435" width="5" fill="#cebc04"/><rect x="440" width="5" fill="#cebb04"/><rect x="445" width="5" fill="#cfb903"/><rect x="450" width="5" fill="#d0b803"/><rect x="455" width="5" fill="#d0b603"/><rect x="460" width="5" fill="#d1b502"/><rect x="465" width="5" fill="#d1b302"/><rect x="470" width="5" fill="#d2b202"/><rect x="475" width="5" fill="#d2b002"/><rect x="480" width="5" fill="#d3af01"/></g>
<g transform="translate(0,210)"><rect x="90" width="5" fill="#14a142"/><rect x="95" width="5" fill="#15a141"/><rect x="100" width="5" fill="#16a240"/><rect x="105" width="35" fill="#17a23f"/><rect x="140" width="25" fill="#16a23f"/><rect x="165" width="5" fill="#16a33f"/><rect x="170" width="5" fill="#17a33f"/><rect x="175" width="5" fill="#17a33e"/><rect x="180" width="5" fill="#18a43e"/><rect x="185" width="5" fill="#1aa43e"/><rect x="190" width="5" fill="#1ca53d"/><rect x="195" width="5" fill="#1ea53d"/><rect x="200" width="5" fill="#21a63c"/><rect x="205" width="5" fill="#25a73c"/><rect x="210" width="5" fill="#29a83b"/><rect x="215" width="5" fill="#2ea93b"/><rect x="220" width="5" fill="#34ab3a"/><rect x="225" width="5" fill="#3aac38"/><rect x="230" width="5" fill="#41ae37"/><rect x="235" width="5" fill="#48af36"/><rect x="240" width="5" fill="#4fb135"/><rect x="245" width="5" fill="#56b333"/><rect x="250" width="5" fill="#5eb532"/><rect x="255" width="5" fill="#65b730"/><rect x="260" width="5" fill="#6cb82f"/><rect x="265" width="5" fill="#73ba2d"/><rect x="270" width="5" fill="#7abc2b"/><rect x="275" width="5" fill="#81be2a"/><rect x="280" width="5" fill="#87c028"/><rect x="285" width="5" fill="#8cc126"/><rect x="290" width="5" fill="#92c324"/><rect x="295" width="5" fill="#97c423"/><rect x="300" width="5" fill="#9cc521"/><rect x="305" width="5" fill="#a0c61f"/><rect x="310" width="5" fill="#a4c71e"/><rect x="315" width="5" fill="#a8c81c"/><rect x="320" width="5" fill="#abc91a"/><rect x="325" width="5" fill="#afca19"/><rect x="330" width="5" fill="#b1ca17"/><rect x="335" width="5" fill="#b4ca16"/><rect x="340" width="5" fill="#b7cb14"/><rect x="345" width="5" fill="#b9cb13"/><rect x="350" width="5" fill="#bbcb12"/><rect x="355" width="5" fill="#bdcb10"/><rect x="360" width="5" fill="#bfca0f"/><rect x="365" width="5" fill="#c1ca0e"/><rect x="370" width="5" fill="#c2ca0d"/><rect x="375" width="5" fill="#c4c90c"/><rect x="380" width="5" fill="#c5c80b"/><rect x="385" width="5" fill="#c7c80a"/><rect x="390" width="5" fill="#c8c709"/><rect x="395" width="5" fill="#c9c609"/><rect x="400" width="5" fill="#cac508"/><rect x="405" width="5" fill="#cbc407"/><rect x="410" width="5" fill="#ccc307"/><rect x="415" width="5" fill="#cdc206"/><rect x="420" width="5" fill="#cdc006"/><rect x="425" width="5" fill="#cebf05"/><rect x="430" width="5" fill="#cfbe05"/><rect x="435" width="5" fill="#d0bc04"/><rect x="440" width="5" fill="#d0bb04"/><rect x="445" width="5" fill="#d1b903"/><rect x="450" width="5" fill="#d1b803"/><rect x="455" width="5" fill="#d2b603"/><rect x="460" width="5" fill="#d2b503"/><rect x="465" width="5" fill="#d3b302"/><rect x="470" width="5" fill="#d3b202"/><rect x="475" width="5" fill="#d4b002"/><rect x="480" width="5" fill="#d4af02"/></g>
<g transform="translate(0,215)"><rect x="90" width="5" fill="#15a142"/><rect x="95" width="5" fill="#15a141"/><rect x="100" width="5" fill="#16a240"/><rect x="105" width="30" fill="#17a23f"/><rect x="135" width="25" fill="#16a23f"/><rect x="160" width="10" fill="#16a33f"/><rect x="170" width="5" fill="#17a33f"/><rect x="175" width="5" fill="#17a33e"/><rect x="180" width="5" fill="#18a43e"/><rect x="185" width="5" fill="#1aa43e"/><rect x="190" width="5" fill="#1ca53e"/><rect x="195" width="5" fill="#1ea53d"/><rect x="200" width="5" fill="#21a63d"/><rect x="205" width="5" fill="#24a73c"/><rect x="210" width="5" fill="#28a83c"/><rect x="215" width="5" fill="#2da93b"/><rect x="220" width="5" fill="#33aa3a"/><rect x="225" width="5" fill="#3aac39"/><rect x="230" width="5" fill="#41ae38"/><rect x="235" width="5" fill="#48af37"/><rect x="240" width="5" fill="#50b135"/><rect x="245" width="5" fill="#58b334"/><rect x="250" width="5" fill="#60b533"/><rect x="255" width="5" fill="#67b731"/><rect x="260" width="5" fill="#6fb92f"/><rect x="265" width="5" fill="#76bb2e"/><rect x="270" width="5" fill="#7dbd2c"/><rect x="275" width="5" fill="#84bf2a"/><rect x="280" width="5" fill="#8ac028"/><rect x="285" width="5" fill="#90c226"/><rect x="290" width="5" fill="#96c425"/><rect x="295" width="5" fill="#9bc523"/><rect x="300" width="5" fill="#9fc621"/><rect x="305" width="5" fill="#a4c81f"/><rect x="310" width="5" fill="#a8c91e"/><rect x="315" width="5" fill="#acca1c"/><rect x="320" width="5" fill="#afca1a"/><rect x="325" width="5" fill="#b2cb19"/><rect x="330" width="5" fill="#b5cb17"/><rect x="335" width="5" fill="#b8cc16"/><rect x="340" width="5" fill="#bacc14"/><rect x="345" width="5" fill="#bccc13"/><rect x="350" width="5" fill="#becc12"/><rect x="355" width="5" fill="#c0cc10"/><rect x="360" width="5" fill="#c2cb0f"/><rect x="365" width="5" fill="#c4cb0e"/><rect x="370" width="5" fill="#c5cb0d"/><rect x="375" width="5" fill="#c7ca0c"/><rect x="380" width="5" fill="#c8c90b"/><rect x="385" width="5" fill="#c9c80a"/><rect x="390" width="5" fill="#cac809"/><rect x="395" width="5" fill="#cbc709"/><rect x="400" width="5" fill="#ccc608"/><rect x="405" width="5" fill="#cdc407"/><rect x="410" width="5" fill="#cec307"/><rect x="415" width="5" fill="#cfc206"/><rect x="420" width="5" fill="#cfc106"/><rect x="425" width="5" fill="#d0bf05"/><rect x="430" width="5" fill="#d1be05"/><rect x="435" width="5" fill="#d1bc04"/><rect x="440" width="5" fill="#d2bb04"/><rect x="445" width="5" fill="#d2b903"/><rect x="450" width="5" fill="#d3b803"/><rect x="455" width="5" fill="#d3b603"/><rect x="460" width="5" fill="#d4b503"/><rect x="465" width="5" fill="#d4b302"/><rect x="470" width="5" fill="#d5b102"/><rect x="475" width="5" fill="#d5b002"/><rect x="480" width="5" fill="#d5ae02"/></g>
<g transform="translate(0,220)"><rect x="90" width="5" fill="#15a142"/><rect x="95" width="5" fill="#15a141"/><rect x="100" width="5" fill="#16a240"/><rect x="105" width="5" fill="#16a23f"/><rect x="110" width="25" fill="#17a23f"/><rect x="135" width="20" fill="#16a23f"/><rect x="155" width="15" fill="#16a33f"/><rect x="170" width="5" fill="#17a33f"/><rect x="175" width="5" fill="#17a33e"/><rect x="180" width="5" fill="#18a43e"/><rect x="185" width="5" fill="#1aa43e"/><rect x="190" width="5" fill="#1ba53e"/><rect x="195" width="5" fill="#1ea53d"/><rect x="200" width="5" fill="#20a63d"/><rect x="205" width="5" fill="#24a73d"/><rect x="210" width="5" fill="#28a83c"/><rect x="215" width="5" fill="#2ca93c"/><rect x="220" width="5" fill="#33aa3b"/><rect x="225" width="5" fill="#3aac3a"/><rect x="230" width="5" fill="#41ae39"/><rect x="235" width="5" fill="#49af37"/><rect x="240" width="5" fill="#51b136"/><rect x="245" width="5" fill="#5ab335"/><rect x="250" width="5" fill="#62b533"/><rect x="255" width="5" fill="#6ab732"/><rect x="260" width="5" fill="#72b930"/><rect x="265" width="5" fill="#79bb2e"/><rect x="270" width="5" fill="#81be2c"/><rect x="275" width="5" fill="#88c02b"/><rect x="280" width="5" fill="#8ec129"/><rect x="285" width="5" fill="#94c327"/><rect x="290" width="5" fill="#9ac525"/><rect x="295" width="5" fill="#9fc623"/><rect x="300" width="5" fill="#a4c821"/><rect x="305" width="5" fill="#a8c920"/><rect x="310" width="5" fill="#acca1e"/><rect x="315" width="5" fill="#b0cb1c"/><rect x="320" width="5" fill="#b3cc1a"/><rect x="325" width="5" fill="#b6cc19"/><rect x="330" width="5" fill="#b9cd17"/><rect x="335" width="5" fill="#bbcd16"/><rect x="340" width="5" fill="#becd14"/><rect x="345" width="5" fill="#c0cd13"/><rect x="350" width="5" fill="#c2cd11"/><rect x="355" width="5" fill="#c3cd10"/><rect x="360" width="5" fill="#c5cc0f"/><rect x="365" width="5" fill="#c7cc0e"/><rect x="370" width="5" fill="#c8cb0d"/><rect x="375" width="5" fill="#c9cb0c"/><rect x="380" width="5" fill="#caca0b"/><rect x="385" width="5" fill="#ccc90a"/><rect x="390" width="5" fill="#cdc809"/><rect x="395" width="5" fill="#cec708"/><rect x="400" width="5" fill="#cec608"/><rect x="405" width="5" fill="#cfc507"/><rect x="410" width="5" fill="#d0c407"/><rect x="415" width="5" fill="#d1c206"/><rect x="420" width="5" fill="#d1c105"/><rect x="425" width="5" fill="#d2c005"/><rect x="430" width="5" fill="#d3be05"/><rect x="435" width="5" fill="#d3bd04"/><rect x="440" width="5" fill="#d4bb04"/><rect x="445" width="5" fill="#d4b904"/><rect x="450" width="5" fill="#d5b803"/><rect x="455" width="5" fill="#d5b603"/><rect x="460" width="5" fill="#d5b403"/><rect x="465" width="5" fill="#d6b302"/><rect x="470" width="5" fill="#d6b102"/><rect x="475" width="5" fill="#d6af02"/><rect x="480" width="5" fill="#d7ae02"/></g>
<g transform="translate(0,225)"><rect x="90" width="5" fill="#15a142"/><rect x="95" width="5" fill="#15a141"/><rect x="100" width="5" fill="#16a240"/><rect x="105" width="5" fill="#16a23f"/><rect x="110" width="10" fill="#17a23f"/><rect x="120" width="10" fill="#17a23e"/><rect x="130" width="5" fill="#17a23f"/><rect x="135" width="15" fill="#16a23f"/><rect x="150" width="20" fill="#16a33f"/><rect x="170" width="5" fill="#17a33f"/><rect x="175" width="5" fill="#17a43e"/><rect x="180" width="5" fill="#18a43e"/><rect x="185" width="5" fill="#1aa43e"/><rect x="190" width="5" fill="#1ba53e"/><rect x="195" width="5" fill="#1da53e"/><rect x="200" width="5" fill="#20a63d"/><rect x="205" width="5" fill="#23a73d"/><rect x="210" width="5" fill="#27a83d"/><rect x="215" width="5" fill="#2ca93c"/><rect x="220" width="5" fill="#32aa3b"/><rect x="225" width="5" fill="#39ac3a"/><rect x="230" width="5" fill="#41ad39"/><rect x="235" width="5" fill="#4aaf38"/><rect x="240" width="5" fill="#53b137"/><rect x="245" width="5" fill="#5bb335"/><rect x="250" width="5" fill="#64b534"/><rect x="255" width="5" fill="#6db832"/><rect x="260" width="5" fill="#75ba31"/><rect x="265" width="5" fill="#7dbc2f"/><rect x="270" width="5" fill="#85be2d"/><rect x="275" width="5" fill="#8cc02b"/><rect x="280" width="5" fill="#92c229"/><rect x="285" width="5" fill="#99c427"/><rect x="290" width="5" fill="#9ec625"/><rect x="295" width="5" fill="#a3c823"/><rect x="300" width="5" fill="#a8c922"/><rect x="305" width="5" fill="#acca20"/><rect x="310" width="5" fill="#b0cb1e"/><rect x="315" width="5" fill="#b4cc1c"/><rect x="320" width="5" fill="#b7cd1a"/><rect x="325" width="5" fill="#bacd19"/><rect x="330" width="5" fill="#bcce17"/><rect x="335" width="5" fill="#bfce16"/><rect x="340" width="5" fill="#c1ce14"/><rect x="345" width="5" fill="#c3ce13"/><rect x="350" width="5" fill="#c5ce11"/><rect x="355" width="5" fill="#c7ce10"/><rect x="360" width="5" fill="#c8ce0f"/><rect x="365" width="5" fill="#cacd0e"/><rect x="370" width="5" fill="#cbcc0d"/><rect x="375" width="5" fill="#cccc0c"/><rect x="380" width="5" fill="#cdcb0b"/><rect x="385" width="5" fill="#ceca0a"/><rect x="390" width="5" fill="#cfc909"/><rect x="395" width="5" fill="#d0c808"/><rect x="400" width="5" fill="#d1c708"/><rect x="405" width="5" fill="#d1c507"/><rect x="410" width="5" fill="#d2c406"/><rect x="415" width="5" fill="#d3c306"/><rect x="420" width="5" fill="#d3c105"/><rect x="425" width="5" fill="#d4c005"/><rect x="430" width="5" fill="#d4be05"/><rect x="435" width="5" fill="#d5bd04"/><rect x="440" width="5" fill="#d5bb04"/><rect x="445" width="5" fill="#d6b904"/><rect x="450" width="5" fill="#d6b803"/><rect x="455" width="5" fill="#d7b603"/><rect x="460" width="5" fill="#d7b403"/><rect x="465" width="5" fill="#d7b303"/><rect x="470" width="5" fill="#d8b102"/><rect x="475" width="5" fill="#d8af02"/><rect x="480" width="5" fill="#d8ad02"/></g>
<g transform="translate(0,230)"><rect x="90" width="5" fill="#15a142"/><rect x="95" width="5" fill="#15a141"/><rect x="100" width="5" fill="#16a240"/><rect x="105" width="10" fill="#16a23f"/><rect x="115" width="5" fill="#17a23f"/><rect x="120" width="10" fill="#17a23e"/><rect x="130" width="15" fill="#17a23f"/><rect x="145" width="20" fill="#16a33f"/><rect x="165" width="10" fill="#17a33f"/><rect x="175" width="5" fill="#17a43e"/><rect x="180" width="5" fill="#18a43e"/><rect x="185" width="5" fill="#1aa43e"/><rect x="190" width="5" fill="#1ba53e"/><rect x="195" width="5" fill="#1da53e"/><rect x="200" width="5" fill="#20a63e"/><rect x="205" width="5" fill="#23a73d"/><rect x="210" width="5" fill="#27a83d"/><rect x="215" width="5" fill="#2ba93c"/><rect x="220" width="5" fill="#31aa3c"/><rect x="225" width="5" fill="#39ac3b"/><rect x="230" width="5" fill="#42ad3a"/><rect x="235" width="5" fill="#4baf39"/><rect x="240" width="5" fill="#54b138"/><rect x="245" width="5" fill="#5eb336"/><rect x="250" width="5" fill="#67b635"/><rect x="255" width="5" fill="#70b833"/><rect x="260" width="5" fill="#78ba31"/><rect x="265" width="5" fill="#81bd2f"/><rect x="270" width="5" fill="#89bf2d"/><rect x="275" width="5" fill="#90c22b"/><rect x="280" width="5" fill="#97c42a"/><rect x="285" width="5" fill="#9dc628"/><rect x="290" width="5" fill="#a3c726"/><rect x="295" width="5" fill="#a8c924"/><rect x="300" width="5" fill="#adca22"/><rect x="305" width="5" fill="#b1cc20"/><rect x="310" width="5" fill="#b5cd1e"/><rect x="315" width="5" fill="#b8ce1c"/><rect x="320" width="5" fill="#bbce1a"/><rect x="325" width="5" fill="#becf19"/><rect x="330" width="5" fill="#c0cf17"/><rect x="335" width="5" fill="#c3d016"/><rect x="340" width="5" fill="#c5d014"/><rect x="345" width="5" fill="#c7d013"/><rect x="350" width="5" fill="#c8cf11"/><rect x="355" width="5" fill="#cacf10"/><rect x="360" width="5" fill="#cbcf0f"/><rect x="365" width="5" fill="#ccce0e"/><rect x="370" width="5" fill="#cecd0d"/><rect x="375" width="5" fill="#cfcd0c"/><rect x="380" width="5" fill="#d0cc0b"/><rect x="385" width="5" fill="#d1cb0a"/><rect x="390" width="5" fill="#d1ca09"/><rect x="395" width="5" fill="#d2c908"/><rect x="400" width="5" fill="#d3c708"/><rect x="405" width="5" fill="#d4c607"/><rect x="410" width="5" fill="#d4c506"/><rect x="415" width="5" fill="#d5c306"/><rect x="420" width="5" fill="#d5c205"/><rect x="425" width="5" fill="#d6c005"/><rect x="430" width="5" fill="#d6be05"/><rect x="435" width="5" fill="#d7bd04"/><rect x="440" width="5" fill="#d7bb04"/><rect x="445" width="5" fill="#d7b904"/><rect x="450" width="5" fill="#d8b803"/><rect x="455" width="5" fill="#d8b603"/><rect x="460" width="5" fill="#d8b403"/><rect x="465" width="5" fill="#d9b203"/><rect x="470" width="5" fill="#d9b003"/><rect x="475" width="5" fill="#d9af02"/><rect x="480" width="5" fill="#d9ad02"/></g>
<g transform="translate(0,235)"><rect x="90" width="5" fill="#15a142"/><rect x="95" width="5" fill="#16a141"/><rect x="100" width="5" fill="#16a240"/><rect x="105" width="5" fill="#16a23f"/><rect x="110" width="10" fill="#17a23f"/><rect x="120" width="10" fill="#17a23e"/><rect x="130" width="5" fill="#17a23f"/><rect x="135" width="35" fill="#17a33f"/><rect x="170" width="5" fill="#17a43f"/><rect x="175" width="5" fill="#18a43f"/><rect x="180" width="5" fill="#18a43e"/><rect x="185" width="5" fill="#1aa53e"/><rect x="190" width="5" fill="#1ba53e"/><rect x="195" width="5" fill="#1da63e"/><rect x="200" width="5" fill="#20a63e"/><rect x="205" width="5" fill="#23a73d"/><rect x="210" width="5" fill="#27a83d"/><rect x="215" width="5" fill="#2ba93d"/><rect x="220" width="5" fill="#31aa3c"/><rect x="225" width="5" fill="#39ab3b"/><rect x="230" width="5" fill="#42ad3a"/><rect x="235" width="5" fill="#4caf3a"/><rect x="240" width="5" fill="#56b138"/><rect x="245" width="5" fill="#60b337"/><rect x="250" width="5" fill="#69b635"/><rect x="255" width="5" fill="#73b834"/><rect x="260" width="5" fill="#7cbb32"/><rect x="265" width="5" fill="#85be30"/><rect x="270" width="5" fill="#8ec02e"/><rect x="275" width="5" fill="#95c32c"/><rect x="280" width="5" fill="#9cc52a"/><rect x="285" width="5" fill="#a2c728"/><rect x="290" width="5" fill="#a8c926"/><rect x="295" width="5" fill="#adcb24"/><rect x="300" width="5" fill="#b1cc22"/><rect x="305" width="5" fill="#b6cd20"/><rect x="310" width="5" fill="#b9ce1e"/><rect x="315" width="5" fill="#bccf1c"/><rect x="320" width="5" fill="#bfd01b"/><rect x="325" width="5" fill="#c2d019"/><rect x="330" width="5" fill="#c4d117"/><rect x="335" width="5" fill="#c6d116"/><rect x="340" width="5" fill="#c8d114"/><rect x="345" width="5" fill="#cad113"/><rect x="350" width="5" fill="#ccd111"/><rect x="355" width="5" fill="#cdd010"/><rect x="360" width="5" fill="#ced00f"/><rect x="365" width="5" fill="#cfcf0d"/><rect x="370" width="5" fill="#d0ce0c"/><rect x="375" width="5" fill="#d1ce0b"/><rect x="380" width="5" fill="#d2cd0a"/><rect x="385" width="5" fill="#d3cc0a"/><rect x="390" width="5" fill="#d4ca09"/><rect x="395" width="5" fill="#d4c908"/><rect x="400" width="5" fill="#d5c808"/><rect x="405" width="5" fill="#d6c607"/><rect x="410" width="5" fill="#d6c506"/><rect x="415" width="5" fill="#d7c306"/><rect x="420" width="5" fill="#d7c205"/><rect x="425" width="5" fill="#d8c005"/><rect x="430" width="5" fill="#d8bf05"/><rect x="435" width="5" fill="#d8bd04"/><rect x="440" width="5" fill="#d9bb04"/><rect x="445" width="5" fill="#d9b904"/><rect x="450" width="5" fill="#d9b704"/><rect x="455" width="5" fill="#dab603"/><rect x="460" width="5" fill="#dab403"/><rect x="465" width="5" fill="#dab203"/><rect x="470" width="5" fill="#dab003"/><rect x="475" width="5" fill="#daae03"/><rect x="480" width="5" fill="#dbac02"/></g>
<g transform="translate(0,240)"><rect x="90" width="5" fill="#15a143"/><rect x="95" width="5" fill="#16a141"/><rect x="100" width="5" fill="#16a240"/><rect x="105" width="5" fill="#16a23f"/><rect x="110" width="10" fill="#17a23f"/><rect x="120" width="10" fill="#17a23e"/><rect x="130" width="40" fill="#17a33f"/><rect x="170" width="5" fill="#17a43f"/><rect x="175" width="5" fill="#18a43e"/><rect x="180" width="5" fill="#19a43e"/><rect x="185" width="5" fill="#1aa53e"/><rect x="190" width="5" fill="#1ba53e"/><rect x="195" width="5" fill="#1da63e"/><rect x="200" width="5" fill="#20a63e"/><rect x="205" width="5" fill="#23a73d"/><rect x="210" width="5" fill="#27a83d"/><rect x="215" width="5" fill="#2ba83d"/><rect x="220" width="5" fill="#31a93c"/><rect x="225" width="5" fill="#38ab3c"/><rect x="230" width="5" fill="#42ac3b"/><rect x="235" width="5" fill="#4eaf3a"/><rect x="240" width="5" fill="#59b139"/><rect x="245" width="5" fill="#62b338"/><rect x="250" width="5" fill="#6cb636"/><rect x="255" width="5" fill="#76b934"/><rect x="260" width="5" fill="#80bc33"/><rect x="265" width="5" fill="#8abf31"/><rect x="270" width="5" fill="#93c12e"/><rect x="275" width="5" fill="#9bc42c"/><rect x="280" width="5" fill="#a2c62a"/><rect x="285" width="5" fill="#a8c928"/><rect x="290" width="5" fill="#adca26"/><rect x="295" width="5" fill="#b2cc24"/><rect x="300" width="5" fill="#b7ce22"/><rect x="305" width="5" fill="#bacf20"/><rect x="310" width="5" fill="#bed01e"/><rect x="315" width="5" fill="#c1d11c"/><rect x="320" width="5" fill="#c4d11b"/><rect x="325" width="5" fill="#c6d219"/><rect x="330" width="5" fill="#c8d217"/><rect x="335" width="5" fill="#cad215"/><rect x="340" width="5" fill="#ccd214"/><rect x="345" width="5" fill="#cdd212"/><rect x="350" width="5" fill="#cfd211"/><rect x="355" width="5" fill="#d0d110"/><rect x="360" width="5" fill="#d1d10e"/><rect x="365" width="5" fill="#d2d00d"/><rect x="370" width="5" fill="#d3cf0c"/><rect x="375" width="5" fill="#d4cf0b"/><rect x="380" width="5" fill="#d5ce0a"/><rect x="385" width="5" fill="#d5cc0a"/><rect x="390" width="5" fill="#d6cb09"/><rect x="395" width="5" fill="#d7ca08"/><rect x="400" width="5" fill="#d7c807"/><rect x="405" width="5" fill="#d8c707"/><rect x="410" width="5" fill="#d8c506"/><rect x="415" width="5" fill="#d9c406"/><rect x="420" width="5" fill="#d9c206"/><rect x="425" width="5" fill="#d9c005"/><rect x="430" width="5" fill="#dabf05"/><rect x="435" width="5" fill="#dabd04"/><rect x="440" width="5" fill="#dabb04"/><rect x="445" width="5" fill="#dbb904"/><rect x="450" width="5" fill="#dbb704"/><rect x="455" width="5" fill="#dbb504"/><rect x="460" width="5" fill="#dbb303"/><rect x="465" width="5" fill="#dbb103"/><rect x="470" width="5" fill="#dcaf03"/><rect x="475" width="5" fill="#dcae03"/><rect x="480" width="5" fill="#dcac03"/></g>
<g transform="translate(0,245)"><rect x="90" width="5" fill="#16a143"/><rect x="95" width="5" fill="#16a142"/><rect x="100" width="5" fill="#16a240"/><rect x="105" width="10" fill="#17a23f"/><rect x="115" width="10" fill="#17a23e"/><rect x="125" width="5" fill="#17a33e"/><rect x="130" width="5" fill="#17a33f"/><rect x="135" width="10" fill="#18a33f"/><rect x="145" width="10" fill="#18a340"/><rect x="155" width="10" fill="#17a33f"/><rect x="165" width="10" fill="#18a43f"/><rect x="175" width="5" fill="#18a43e"/><rect x="180" width="5" fill="#19a43e"/><rect x="185" width="5" fill="#1aa53e"/><rect x="190" width="5" fill="#1ca53e"/><rect x="195" width="5" fill="#1ea63e"/><rect x="200" width="5" fill="#20a63e"/><rect x="205" width="5" fill="#23a73e"/><rect x="210" width="5" fill="#27a73d"/><rect x="215" width="5" fill="#2ca83d"/><rect x="220" width="5" fill="#31a93c"/><rect x="225" width="5" fill="#37aa3c"/><rect x="230" width="5" fill="#41ac3b"/><rect x="235" width="5" fill="#4eae3b"/><rect x="240" width="5" fill="#59b13a"/><rect x="245" width="5" fill="#63b339"/><rect x="250" width="5" fill="#6eb637"/><rect x="255" width="5" fill="#7ab935"/><rect x="260" width="5" fill="#85bc33"/><rect x="265" width="5" fill="#8fc031"/><rect x="270" width="5" fill="#99c32f"/><rect x="275" width="5" fill="#a1c62d"/><rect x="280" width="5" fill="#a8c82b"/><rect x="285" width="5" fill="#aeca28"/><rect x="290" width="5" fill="#b3cc26"/><rect x="295" width="5" fill="#b8ce24"/><rect x="300" width="5" fill="#bccf22"/><rect x="305" width="5" fill="#bfd020"/><rect x="310" width="5" fill="#c3d11e"/><rect x="315" width="5" fill="#c6d21c"/><rect x="320" width="5" fill="#c8d31b"/><rect x="325" width="5" fill="#cad319"/><rect x="330" width="5" fill="#ccd417"/><rect x="335" width="5" fill="#ced415"/><rect x="340" width="5" fill="#d0d414"/><rect x="345" width="5" fill="#d1d312"/><rect x="350" width="5" fill="#d2d311"/><rect x="355" width="5" fill="#d3d310"/><rect x="360" width="5" fill="#d4d20e"/><rect x="365" width="5" fill="#d5d10d"/><rect x="370" width="5" fill="#d6d00c"/><rect x="375" width="5" fill="#d7cf0b"/><rect x="380" width="5" fill="#d7ce0a"/><rect x="385" width="5" fill="#d8cd09"/><rect x="390" width="5" fill="#d8cc09"/><rect x="395" width="5" fill="#d9ca08"/><rect x="400" width="5" fill="#d9c907"/><rect x="405" width="5" fill="#dac707"/><rect x="410" width="5" fill="#dac606"/><rect x="415" width="5" fill="#dac406"/><rect x="420" width="5" fill="#dbc206"/><rect x="425" width="5" fill="#dbc105"/><rect x="430" width="5" fill="#dbbf05"/><rect x="435" width="5" fill="#dcbd05"/><rect x="440" width="5" fill="#dcbb04"/><rect x="445" width="5" fill="#dcb904"/><rect x="450" width="5" fill="#dcb704"/><rect x="455" width="5" fill="#dcb504"/><rect x="460" width="5" fill="#ddb304"/><rect x="465" width="5" fill="#ddb103"/><rect x="470" width="5" fill="#ddaf03"/><rect x="475" width="5" fill="#ddad03"/><rect x="480" width="5" fill="#ddab03"/></g>
<g transform="translate(0,250)"><rect x="90" width="5" fill="#16a143"/><rect x="95" width="5" fill="#16a142"/><rect x="100" width="5" fill="#17a241"/><rect x="105" width="5" fill="#17a240"/><rect x="110" width="5" fill="#17a23f"/><rect x="115" width="5" fill="#18a23e"/><rect x="120" width="15" fill="#18a33e"/><rect x="135" width="10" fill="#18a33f"/><rect x="145" width="10" fill="#18a340"/><rect x="155" width="5" fill="#18a33f"/><rect x="160" width="15" fill="#18a43f"/><rect x="175" width="5" fill="#19a43e"/><rect x="180" width="5" fill="#1aa53e"/><rect x="185" width="5" fill="#1ba53e"/><rect x="190" width="5" fill="#1ca53e"/><rect x="195" width="5" fill="#1ea63e"/><rect x="200" width="5" fill="#21a63e"/><rect x="205" width="5" fill="#24a73e"/><rect x="210" width="5" fill="#28a73d"/><rect x="215" width="5" fill="#2da83d"/><rect x="220" width="5" fill="#32a93d"/><rect x="225" width="5" fill="#38aa3c"/><rect x="230" width="5" fill="#41ab3c"/><rect x="235" width="5" fill="#4dae3b"/><rect x="240" width="5" fill="#59b03a"/><rect x="245" width="5" fill="#64b339"/><rect x="250" width="5" fill="#70b638"/><rect x="255" width="5" fill="#7dba36"/><rect x="260" width="5" fill="#8bbd34"/><rect x="265" width="5" fill="#96c131"/><rect x="270" width="5" fill="#9fc42f"/><rect x="275" width="5" fill="#a7c72d"/><rect x="280" width="5" fill="#aeca2b"/><rect x="285" width="5" fill="#b4cc29"/><rect x="290" width="5" fill="#b9ce27"/><rect x="295" width="5" fill="#bdd024"/><rect x="300" width="5" fill="#c1d122"/><rect x="305" width="5" fill="#c5d220"/><rect x="310" width="5" fill="#c8d31e"/><rect x="315" width="5" fill="#cad41d"/><rect x="320" width="5" fill="#ccd41b"/><rect x="325" width="5" fill="#ced519"/><rect x="330" width="5" fill="#d0d517"/><rect x="335" width="5" fill="#d2d515"/><rect x="340" width="5" fill="#d3d514"/><rect x="345" width="5" fill="#d4d512"/><rect x="350" width="5" fill="#d5d411"/><rect x="355" width="5" fill="#d6d40f"/><rect x="360" width="5" fill="#d7d30e"/><rect x="365" width="5" fill="#d8d20d"/><rect x="370" width="5" fill="#d9d10c"/><rect x="375" width="5" fill="#d9d00b"/><rect x="380" width="5" fill="#dacf0a"/><rect x="385" width="5" fill="#dace09"/><rect x="390" width="5" fill="#dbcd09"/><rect x="395" width="5" fill="#dbcb08"/><rect x="400" width="5" fill="#dbc907"/><rect x="405" width="5" fill="#dcc807"/><rect x="410" width="5" fill="#dcc606"/><rect x="415" width="5" fill="#dcc406"/><rect x="420" width="5" fill="#ddc206"/><rect x="425" width="5" fill="#ddc105"/><rect x="430" width="5" fill="#ddbf05"/><rect x="435" width="5" fill="#ddbd05"/><rect x="440" width="5" fill="#ddbb05"/><rect x="445" width="5" fill="#ddb904"/><rect x="450" width="5" fill="#deb704"/><rect x="455" width="5" fill="#deb404"/><rect x="460" width="5" fill="#deb204"/><rect x="465" width="5" fill="#deb004"/><rect x="470" width="5" fill="#deae04"/><rect x="475" width="5" fill="#deac03"/><rect x="480" width="5" fill="#deaa03"/></g>
<g transform="translate(0,255)"><rect x="90" width="5" fill="#17a144"/><rect x="95" width="5" fill="#17a142"/><rect x="100" width="5" fill="#17a241"/><rect x="105" width="5" fill="#18a240"/><rect x="110" width="5" fill="#18a23f"/><rect x="115" width="5" fill="#18a33f"/><rect x="120" width="15" fill="#18a33e"/><rect x="135" width="20" fill="#19a33f"/><rect x="155" width="10" fill="#18a43f"/><rect x="165" width="5" fill="#19a43f"/><rect x="170" width="10" fill="#19a43e"/><rect x="180" width="5" fill="#1aa53e"/><rect x="185" width="5" fill="#1ba53e"/><rect x="190" width="5" fill="#1da53e"/><rect x="195" width="5" fill="#1fa63e"/><rect x="200" width="5" fill="#22a63e"/><rect x="205" width="5" fill="#25a73d"/><rect x="210" width="5" fill="#29a83d"/><rect x="215" width="5" fill="#2ea83d"/><rect x="220" width="5" fill="#34a93c"/><rect x="225" width="5" fill="#3bab3c"/><rect x="230" width="5" fill="#45ac3c"/><rect x="235" width="5" fill="#4fae3b"/><rect x="240" width="5" fill="#5ab13b"/><rect x="245" width="5" fill="#64b33a"/><rect x="250" width="5" fill="#72b639"/><rect x="255" width="5" fill="#82ba36"/><rect x="260" width="5" fill="#91bf34"/><rect x="265" width="5" fill="#9dc332"/><rect x="270" width="5" fill="#a7c62f"/><rect x="275" width="5" fill="#aec92d"/><rect x="280" width="5" fill="#b5cc2b"/><rect x="285" width="5" fill="#bace29"/><rect x="290" width="5" fill="#bfd027"/><rect x="295" width="5" fill="#c3d125"/><rect x="300" width="5" fill="#c7d323"/><rect x="305" width="5" fill="#cad421"/><rect x="310" width="5" fill="#ccd51f"/><rect x="315" width="5" fill="#cfd61d"/><rect x="320" width="5" fill="#d1d61b"/><rect x="325" width="5" fill="#d3d619"/><rect x="330" width="5" fill="#d4d717"/><rect x="335" width="5" fill="#d6d715"/><rect x="340" width="5" fill="#d7d614"/><rect x="345" width="5" fill="#d8d612"/><rect x="350" width="5" fill="#d9d611"/><rect x="355" width="5" fill="#d9d50f"/><rect x="360" width="5" fill="#dad40e"/><rect x="365" width="5" fill="#dbd30d"/><rect x="370" width="5" fill="#dbd20c"/><rect x="375" width="5" fill="#dcd10b"/><rect x="380" width="5" fill="#dcd00a"/><rect x="385" width="5" fill="#ddcf09"/><rect x="390" width="5" fill="#ddcd09"/><rect x="395" width="5" fill="#ddcc08"/><rect x="400" width="5" fill="#ddca07"/><rect x="405" width="5" fill="#dec807"/><rect x="410" width="5" fill="#dec607"/><rect x="415" width="5" fill="#dec506"/><rect x="420" width="5" fill="#dec306"/><rect x="425" width="5" fill="#dec106"/><rect x="430" width="5" fill="#dfbf05"/><rect x="435" width="5" fill="#dfbc05"/><rect x="440" width="5" fill="#dfba05"/><rect x="445" width="5" fill="#dfb805"/><rect x="450" width="5" fill="#dfb604"/><rect x="455" width="5" fill="#dfb404"/><rect x="460" width="5" fill="#dfb204"/><rect x="465" width="5" fill="#dfb004"/><rect x="470" width="5" fill="#dfae04"/><rect x="475" width="5" fill="#dfab04"/><rect x="480" width="5" fill="#dfa904"/></g>
<g transform="translate(0,260)"><rect x="90" width="5" fill="#17a144"/><rect x="95" width="5" fill="#18a143"/><rect x="100" width="5" fill="#18a241"/><rect x="105" width="5" fill="#19a240"/><rect x="110" width="5" fill="#19a23f"/><rect x="115" width="10" fill="#19a33f"/><rect x="125" width="10" fill="#19a33e"/><rect x="135" width="10" fill="#19a33f"/><rect x="145" width="20" fill="#19a43f"/><rect x="165" width="5" fill="#19a43e"/><rect x="170" width="5" fill="#1aa43e"/><rect x="175" width="5" fill="#1aa53e"/><rect x="180" width="5" fill="#1ba53e"/><rect x="185" width="5" fill="#1ca53e"/><rect x="190" width="5" fill="#1ea63e"/><rect x="195" width="5" fill="#20a63e"/><rect x="200" width="5" fill="#23a63e"/><rect x="205" width="5" fill="#27a73d"/><rect x="210" width="5" fill="#2ba83d"/><rect x="215" width="5" fill="#31a93d"/><rect x="220" width="5" fill="#37aa3c"/><rect x="225" width="5" fill="#3fab3c"/><rect x="230" width="5" fill="#48ad3b"/><rect x="235" width="5" fill="#53af3b"/><rect x="240" width="5" fill="#5db23a"/><rect x="245" width="5" fill="#68b43a"/><rect x="250" width="5" fill="#77b838"/><rect x="255" width="5" fill="#89bc36"/><rect x="260" width="5" fill="#9ac134"/><rect x="265" width="5" fill="#a5c532"/><rect x="270" width="5" fill="#aec92f"/><rect x="275" width="5" fill="#b6cc2d"/><rect x="280" width="5" fill="#bbce2b"/><rect x="285" width="5" fill="#c0d029"/><rect x="290" width="5" fill="#c5d227"/><rect x="295" width="5" fill="#c9d325"/><rect x="300" width="5" fill="#ccd523"/><rect x="305" width="5" fill="#cfd621"/><rect x="310" width="5" fill="#d1d71f"/><rect x="315" width="5" fill="#d3d71d"/><rect x="320" width="5" fill="#d5d81b"/><rect x="325" width="5" fill="#d7d819"/><rect x="330" width="5" fill="#d8d817"/><rect x="335" width="5" fill="#d9d815"/><rect x="340" width="5" fill="#dad814"/><rect x="345" width="5" fill="#dbd712"/><rect x="350" width="5" fill="#dcd711"/><rect x="355" width="5" fill="#dcd60f"/><rect x="360" width="5" fill="#ddd50e"/><rect x="365" width="5" fill="#ddd40d"/><rect x="370" width="5" fill="#ded30c"/><rect x="375" width="5" fill="#ded20b"/><rect x="380" width="5" fill="#ded10a"/><rect x="385" width="5" fill="#dfcf09"/><rect x="390" width="5" fill="#dfce09"/><rect x="395" width="5" fill="#dfcc08"/><rect x="400" width="5" fill="#dfca08"/><rect x="405" width="5" fill="#e0c907"/><rect x="410" width="5" fill="#e0c707"/><rect x="415" width="5" fill="#e0c506"/><rect x="420" width="5" fill="#e0c306"/><rect x="425" width="5" fill="#e0c106"/><rect x="430" width="5" fill="#e0be06"/><rect x="435" width="5" fill="#e0bc05"/><rect x="440" width="5" fill="#e0ba05"/><rect x="445" width="5" fill="#e0b805"/><rect x="450" width="5" fill="#e0b605"/><rect x="455" width="5" fill="#e0b305"/><rect x="460" width="5" fill="#e0b105"/><rect x="465" width="5" fill="#e0af04"/><rect x="470" width="5" fill="#e1ad04"/><rect x="475" width="5" fill="#e1ab04"/><rect x="480" width="5" fill="#e1a804"/></g>
<g transform="translate(0,265)"><rect x="90" width="5" fill="#18a145"/><rect x="95" width="5" fill="#19a143"/><rect x="100" width="5" fill="#19a242"/><rect x="105" width="5" fill="#19a241"/><rect x="110" width="5" fill="#1aa240"/><rect x="115" width="20" fill="#1aa33f"/><rect x="135" width="30" fill="#1aa43f"/><rect x="165" width="5" fill="#1aa43e"/><rect x="170" width="10" fill="#1ba53e"/><rect x="180" width="5" fill="#1ca53e"/><rect x="185" width="5" fill="#1da53e"/><rect x="190" width="5" fill="#1fa63e"/><rect x="195" width="5" fill="#21a63e"/><rect x="200" width="5" fill="#24a73d"/><rect x="205" width="5" fill="#28a73d"/><rect x="210" width="5" fill="#2da83d"/><rect x="215" width="5" fill="#33a93c"/><rect x="220" width="5" fill="#3aab3c"/><rect x="225" width="5" fill="#43ac3c"/><rect x="230" width="5" fill="#4cae3b"/><rect x="235" width="5" fill="#57b13a"/><rect x="240" width="5" fill="#63b33a"/><rect x="245" width="5" fill="#70b639"/><rect x="250" width="5" fill="#7fba37"/><rect x="255" width="5" fill="#90bf35"/><rect x="260" width="5" fill="#a0c433"/><rect x="265" width="5" fill="#adc831"/><rect x="270" width="5" fill="#b7cc2f"/><rect x="275" width="5" fill="#bdcf2d"/><rect x="280" width="5" fill="#c2d02b"/><rect x="285" width="5" fill="#c6d229"/><rect x="290" width="5" fill="#cad427"/><rect x="295" width="5" fill="#ced525"/><rect x="300" width="5" fill="#d1d723"/><rect x="305" width="5" fill="#d4d821"/><rect x="310" width="5" fill="#d6d81f"/><rect x="315" width="5" fill="#d8d91d"/><rect x="320" width="5" fill="#dad91b"/><rect x="325" width="5" fill="#dbda19"/><rect x="330" width="5" fill="#dcda17"/><rect x="335" width="5" fill="#ddd915"/><rect x="340" width="5" fill="#ded914"/><rect x="345" width="5" fill="#ded912"/><rect x="350" width="5" fill="#dfd811"/><rect x="355" width="5" fill="#dfd70f"/><rect x="360" width="5" fill="#e0d60e"/><rect x="365" width="5" fill="#e0d50d"/><rect x="370" width="5" fill="#e0d40c"/><rect x="375" width="5" fill="#e0d30b"/><rect x="380" width="5" fill="#e1d20a"/><rect x="385" width="5" fill="#e1d009"/><rect x="390" width="5" fill="#e1ce09"/><rect x="395" width="5" fill="#e1cd08"/><rect x="400" width="5" fill="#e1cb08"/><rect x="405" width="5" fill="#e1c907"/><rect x="410" width="5" fill="#e1c707"/><rect x="415" width="5" fill="#e1c507"/><rect x="420" width="5" fill="#e1c306"/><rect x="425" width="5" fill="#e2c006"/><rect x="430" width="5" fill="#e2be06"/><rect x="435" width="5" fill="#e2bc06"/><rect x="440" width="5" fill="#e2ba05"/><rect x="445" width="5" fill="#e2b705"/><rect x="450" width="5" fill="#e2b505"/><rect x="455" width="5" fill="#e2b305"/><rect x="460" width="5" fill="#e2b005"/><rect x="465" width="5" fill="#e2ae05"/><rect x="470" width="5" fill="#e2ac05"/><rect x="475" width="5" fill="#e2aa05"/><rect x="480" width="5" fill="#e2a705"/></g>
<g transform="translate(0,270)"><rect x="90" width="5" fill="#19a146"/><rect x="95" width="5" fill="#19a144"/><rect x="100" width="5" fill="#1aa242"/><rect x="105" width="5" fill="#1aa241"/><rect x="110" width="5" fill="#1ba340"/><rect x="115" width="15" fill="#1ba33f"/><rect x="130" width="30" fill="#1ba43f"/><rect x="160" width="10" fill="#1ba53f"/><rect x="170" width="10" fill="#1ca53e"/><rect x="180" width="5" fill="#1da53e"/><rect x="185" width="5" fill="#1ea63e"/><rect x="190" width="5" fill="#20a63e"/><rect x="195" width="5" fill="#22a63e"/><rect x="200" width="5" fill="#25a73d"/><rect x="205" width="5" fill="#29a83d"/><rect x="210" width="5" fill="#2ea83d"/><rect x="215" width="5" fill="#35aa3c"/><rect x="220" width="5" fill="#3dab3c"/><rect x="225" width="5" fill="#46ad3b"/><rect x="230" width="5" fill="#51b03b"/><rect x="235" width="5" fill="#5db23a"/><rect x="240" width="5" fill="#6ab539"/><rect x="245" width="5" fill="#78b938"/><rect x="250" width="5" fill="#87bd36"/><rect x="255" width="5" fill="#97c235"/><rect x="260" width="5" fill="#a7c733"/><rect x="265" width="5" fill="#b5cc31"/><rect x="270" width="5" fill="#bfcf2f"/><rect x="275" width="5" fill="#c3d12d"/><rect x="280" width="5" fill="#c8d22b"/><rect x="285" width="5" fill="#ccd429"/><rect x="290" width="5" fill="#d0d627"/><rect x="295" width="5" fill="#d3d725"/><rect x="300" width="5" fill="#d6d823"/><rect x="305" width="5" fill="#d9d921"/><rect x="310" width="5" fill="#dbda1f"/><rect x="315" width="5" fill="#dcdb1d"/><rect x="320" width="5" fill="#dedb1b"/><rect x="325" width="5" fill="#dfdb19"/><rect x="330" width="5" fill="#e0db17"/><rect x="335" width="5" fill="#e0db15"/><rect x="340" width="5" fill="#e1da14"/><rect x="345" width="5" fill="#e1da12"/><rect x="350" width="5" fill="#e2d911"/><rect x="355" width="5" fill="#e2d80f"/><rect x="360" width="5" fill="#e2d80e"/><rect x="365" width="5" fill="#e2d60d"/><rect x="370" width="5" fill="#e3d50c"/><rect x="375" width="5" fill="#e3d40b"/><rect x="380" width="5" fill="#e3d20a"/><rect x="385" width="5" fill="#e3d109"/><rect x="390" width="5" fill="#e3cf09"/><rect x="395" width="5" fill="#e3cd08"/><rect x="400" width="5" fill="#e3cb08"/><rect x="405" width="5" fill="#e3c907"/><rect x="410" width="5" fill="#e3c707"/><rect x="415" width="5" fill="#e3c507"/><rect x="420" width="5" fill="#e3c307"/><rect x="425" width="5" fill="#e3c006"/><rect x="430" width="5" fill="#e3be06"/><rect x="435" width="5" fill="#e3bc06"/><rect x="440" width="5" fill="#e3b906"/><rect x="445" width="5" fill="#e3b706"/><rect x="450" width="5" fill="#e3b406"/><rect x="455" width="5" fill="#e3b206"/><rect x="460" width="5" fill="#e3b005"/><rect x="465" width="5" fill="#e3ad05"/><rect x="470" width="5" fill="#e3ab05"/><rect x="475" width="5" fill="#e3a905"/><rect x="480" width="5" fill="#e3a605"/></g>
<g transform="translate(0,275)"><rect x="90" width="5" fill="#1aa047"/><rect x="95" width="5" fill="#1aa145"/><rect x="100" width="5" fill="#1ba243"/><rect x="105" width="5" fill="#1ba241"/><rect x="110" width="5" fill="#1ca341"/><rect x="115" width="15" fill="#1ca340"/><rect x="130" width="5" fill="#1ca440"/><rect x="135" width="15" fill="#1ca43f"/><rect x="150" width="20" fill="#1ca53f"/><rect x="170" width="10" fill="#1da53f"/><rect x="180" width="5" fill="#1ea53e"/><rect x="185" width="5" fill="#1fa63e"/><rect x="190" width="5" fill="#21a63e"/><rect x="195" width="5" fill="#23a63e"/><rect x="200" width="5" fill="#26a73d"/><rect x="205" width="5" fill="#2aa83d"/><rect x="210" width="5" fill="#2fa93d"/><rect x="215" width="5" fill="#36aa3c"/><rect x="220" width="5" fill="#3fac3c"/><rect x="225" width="5" fill="#49ae3b"/><rect x="230" width="5" fill="#55b13a"/><rect x="235" width="5" fill="#62b439"/><rect x="240" width="5" fill="#70b738"/><rect x="245" width="5" fill="#7ebb37"/><rect x="250" width="5" fill="#8ebf35"/><rect x="255" width="5" fill="#9dc434"/><rect x="260" width="5" fill="#acc932"/><rect x="265" width="5" fill="#bace30"/><rect x="270" width="5" fill="#c4d12f"/><rect x="275" width="5" fill="#c8d32d"/><rect x="280" width="5" fill="#ccd42b"/><rect x="285" width="5" fill="#d0d629"/><rect x="290" width="5" fill="#d5d827"/><rect x="295" width="5" fill="#d9d925"/><rect x="300" width="5" fill="#dbda23"/><rect x="305" width="5" fill="#dedb22"/><rect x="310" width="5" fill="#dfdc20"/><rect x="315" width="5" fill="#e1dc1d"/><rect x="320" width="5" fill="#e2dc1b"/><rect x="325" width="5" fill="#e2dd19"/><rect x="330" width="5" fill="#e3dc17"/><rect x="335" width="5" fill="#e4dc16"/><rect x="340" width="5" fill="#e4dc14"/><rect x="345" width="5" fill="#e4db12"/><rect x="350" width="5" fill="#e4da11"/><rect x="355" width="5" fill="#e5da0f"/><rect x="360" width="5" fill="#e5d90e"/><rect x="365" width="5" fill="#e5d70d"/><rect x="370" width="5" fill="#e5d60c"/><rect x="375" width="5" fill="#e5d50b"/><rect x="380" width="5" fill="#e5d30a"/><rect x="385" width="5" fill="#e5d109"/><rect x="390" width="5" fill="#e5cf09"/><rect x="395" width="5" fill="#e5cd08"/><rect x="400" width="5" fill="#e5cb08"/><rect x="405" width="5" fill="#e5c908"/><rect x="410" width="5" fill="#e5c707"/><rect x="415" width="5" fill="#e4c507"/><rect x="420" width="5" fill="#e4c207"/><rect x="425" width="5" fill="#e4c007"/><rect x="430" width="5" fill="#e4be07"/><rect x="435" width="5" fill="#e4bb07"/><rect x="440" width="5" fill="#e4b906"/><rect x="445" width="5" fill="#e4b606"/><rect x="450" width="5" fill="#e4b406"/><rect x="455" width="5" fill="#e4b106"/><rect x="460" width="5" fill="#e4af06"/><rect x="465" width="5" fill="#e4ac06"/><rect x="470" width="5" fill="#e4aa06"/><rect x="475" width="5" fill="#e4a706"/><rect x="480" width="5" fill="#e4a506"/></g>
<g transform="translate(0,280)"><rect x="90" width="5" fill="#1ba049"/><rect x="95" width="5" fill="#1ca146"/><rect x="100" width="5" fill="#1ca244"/><rect x="105" width="5" fill="#1da242"/><rect x="110" width="20" fill="#1da341"/><rect x="130" width="5" fill="#1da441"/><rect x="135" width="10" fill="#1da440"/><rect x="145" width="5" fill="#1da540"/><rect x="150" width="15" fill="#1da53f"/><rect x="165" width="10" fill="#1ea53f"/><rect x="175" width="5" fill="#1fa63f"/><rect x="180" width="5" fill="#20a63f"/><rect x="185" width="5" fill="#21a63f"/><rect x="190" width="5" fill="#22a63e"/><rect x="195" width="5" fill="#24a73e"/><rect x="200" width="5" fill="#27a73e"/><rect x="205" width="5" fill="#2ba83d"/><rect x="210" width="5" fill="#30a93d"/><rect x="215" width="5" fill="#37aa3c"/><rect x="220" width="5" fill="#40ac3c"/><rect x="225" width="5" fill="#4caf3b"/><rect x="230" width="5" fill="#58b23a"/><rect x="235" width="5" fill="#66b539"/><rect x="240" width="5" fill="#75b937"/><rect x="245" width="5" fill="#84bd36"/><rect x="250" width="5" fill="#94c134"/><rect x="255" width="5" fill="#a2c633"/><rect x="260" width="5" fill="#b0ca31"/><rect x="265" width="5" fill="#bcce30"/><rect x="270" width="5" fill="#c5d12e"/><rect x="275" width="5" fill="#cad32c"/><rect x="280" width="5" fill="#cfd52b"/><rect x="285" width="5" fill="#d4d729"/><rect x="290" width="5" fill="#dad927"/><rect x="295" width="5" fill="#dedb26"/><rect x="300" width="5" fill="#e0dc24"/><rect x="305" width="5" fill="#e2dd22"/><rect x="310" width="5" fill="#e4dd20"/><rect x="315" width="5" fill="#e5de1e"/><rect x="320" width="5" fill="#e5de1c"/><rect x="325" width="5" fill="#e6de1a"/><rect x="330" width="5" fill="#e6de18"/><rect x="335" width="5" fill="#e7dd16"/><rect x="340" width="5" fill="#e7dd14"/><rect x="345" width="5" fill="#e7dc12"/><rect x="350" width="5" fill="#e7dc11"/><rect x="355" width="5" fill="#e7db0f"/><rect x="360" width="5" fill="#e7d90e"/><rect x="365" width="5" fill="#e7d80d"/><rect x="370" width="5" fill="#e7d70c"/><rect x="375" width="5" fill="#e7d50b"/><rect x="380" width="5" fill="#e7d40a"/><rect x="385" width="5" fill="#e7d20a"/><rect x="390" width="5" fill="#e6d009"/><rect x="395" width="5" fill="#e6ce09"/><rect x="400" width="5" fill="#e6cc08"/><rect x="405" width="5" fill="#e6c908"/><rect x="410" width="5" fill="#e6c708"/><rect x="415" width="5" fill="#e6c508"/><rect x="420" width="5" fill="#e6c207"/><rect x="425" width="5" fill="#e6c007"/><rect x="430" width="5" fill="#e6bd07"/><rect x="435" width="5" fill="#e5bb07"/><rect x="440" width="5" fill="#e5b807"/><rect x="445" width="5" fill="#e5b507"/><rect x="450" width="5" fill="#e5b307"/><rect x="455" width="5" fill="#e5b007"/><rect x="460" width="5" fill="#e5ae07"/><rect x="465" width="5" fill="#e5ab06"/><rect x="470" width="5" fill="#e5a906"/><rect x="475" width="5" fill="#e5a606"/><rect x="480" width="5" fill="#e5a406"/></g>
<g transform="translate(0,285)"><rect x="90" width="5" fill="#1ca04b"/><rect x="95" width="5" fill="#1da148"/><rect x="100" width="5" fill="#1ea245"/><rect x="105" width="10" fill="#1ea243"/><rect x="115" width="10" fill="#1ea343"/><rect x="125" width="5" fill="#1ea342"/><rect x="130" width="10" fill="#1ea442"/><rect x="140" width="5" fill="#1ea441"/><rect x="145" width="5" fill="#1ea541"/><rect x="150" width="10" fill="#1ea540"/><rect x="160" width="10" fill="#1fa540"/><rect x="170" width="5" fill="#20a640"/><rect x="175" width="5" fill="#21a640"/><rect x="180" width="5" fill="#21a63f"/><rect x="185" width="5" fill="#22a63f"/><rect x="190" width="5" fill="#23a73f"/><rect x="195" width="5" fill="#25a73e"/><rect x="200" width="5" fill="#28a73e"/><rect x="205" width="5" fill="#2ba83e"/><rect x="210" width="5" fill="#30a93d"/><rect x="215" width="5" fill="#38aa3d"/><rect x="220" width="5" fill="#41ac3c"/><rect x="225" width="5" fill="#4eaf3b"/><rect x="230" width="5" fill="#5cb33a"/><rect x="235" width="5" fill="#6bb738"/><rect x="240" width="5" fill="#7bbb37"/><rect x="245" width="5" fill="#8abf35"/><rect x="250" width="5" fill="#99c333"/><rect x="255" width="5" fill="#a7c732"/><rect x="260" width="5" fill="#b4cb30"/><rect x="265" width="5" fill="#becf2f"/><rect x="270" width="5" fill="#c7d22d"/><rect x="275" width="5" fill="#cdd42c"/><rect x="280" width="5" fill="#d3d62b"/><rect x="285" width="5" fill="#dad929"/><rect x="290" width="5" fill="#e0dc27"/><rect x="295" width="5" fill="#e3dd26"/><rect x="300" width="5" fill="#e5de24"/><rect x="305" width="5" fill="#e6de23"/><rect x="310" width="5" fill="#e7df20"/><rect x="315" width="5" fill="#e8df1e"/><rect x="320" width="5" fill="#e9df1c"/><rect x="325" width="5" fill="#e9df1a"/><rect x="330" width="5" fill="#e9df18"/><rect x="335" width="5" fill="#e9df16"/><rect x="340" width="5" fill="#e9de14"/><rect x="345" width="5" fill="#e9dd12"/><rect x="350" width="5" fill="#e9dd11"/><rect x="355" width="5" fill="#e9dc0f"/><rect x="360" width="5" fill="#e9da0e"/><rect x="365" width="5" fill="#e9d90d"/><rect x="370" width="5" fill="#e9d80c"/><rect x="375" width="5" fill="#e9d60b"/><rect x="380" width="5" fill="#e8d40a"/><rect x="385" width="5" fill="#e8d20a"/><rect x="390" width="5" fill="#e8d009"/><rect x="395" width="5" fill="#e8ce09"/><rect x="400" width="5" fill="#e8cc09"/><rect x="405" width="5" fill="#e8c908"/><rect x="410" width="5" fill="#e7c708"/><rect x="415" width="5" fill="#e7c408"/><rect x="420" width="5" fill="#e7c208"/><rect x="425" width="5" fill="#e7bf08"/><rect x="430" width="5" fill="#e7bd08"/><rect x="435" width="5" fill="#e7ba08"/><rect x="440" width="5" fill="#e6b708"/><rect x="445" width="5" fill="#e6b408"/><rect x="450" width="5" fill="#e6b207"/><rect x="455" width="5" fill="#e6af07"/><rect x="460" width="5" fill="#e6ac07"/><rect x="465" width="5" fill="#e6aa07"/><rect x="470" width="5" fill="#e6a707"/><rect x="475" width="5" fill="#e6a507"/><rect x="480" width="5" fill="#e5a207"/></g>
<g transform="translate(0,290)"><rect x="90" width="5" fill="#1d9f4d"/><rect x="95" width="5" fill="#1da04a"/><rect x="100" width="5" fill="#1ea147"/><rect x="105" width="15" fill="#1fa245"/><rect x="120" width="10" fill="#20a345"/><rect x="130" width="10" fill="#20a444"/><rect x="140" width="5" fill="#20a443"/><rect x="145" width="10" fill="#20a542"/><rect x="155" width="10" fill="#20a541"/><rect x="165" width="10" fill="#21a641"/><rect x="175" width="5" fill="#22a640"/><rect x="180" width="10" fill="#23a640"/><rect x="190" width="5" fill="#25a73f"/><rect x="195" width="5" fill="#26a73f"/><rect x="200" width="5" fill="#29a83f"/><rect x="205" width="5" fill="#2ca83e"/><rect x="210" width="5" fill="#31a93e"/><rect x="215" width="5" fill="#37aa3d"/><rect x="220" width="5" fill="#42ac3c"/><rect x="225" width="5" fill="#50b03b"/><rect x="230" width="5" fill="#5fb43a"/><rect x="235" width="5" fill="#70b838"/><rect x="240" width="5" fill="#80bc36"/><rect x="245" width="5" fill="#90c034"/><rect x="250" width="5" fill="#9fc432"/><rect x="255" width="5" fill="#adc831"/><rect x="260" width="5" fill="#b8cc2f"/><rect x="265" width="5" fill="#c1cf2e"/><rect x="270" width="5" fill="#c9d22d"/><rect x="275" width="5" fill="#d0d52c"/><rect x="280" width="5" fill="#d7d82a"/><rect x="285" width="5" fill="#dfdb29"/><rect x="290" width="5" fill="#e4dd28"/><rect x="295" width="5" fill="#e7de27"/><rect x="300" width="5" fill="#e8df25"/><rect x="305" width="5" fill="#eae023"/><rect x="310" width="5" fill="#ebe021"/><rect x="315" width="5" fill="#ece11f"/><rect x="320" width="5" fill="#ece11d"/><rect x="325" width="5" fill="#ece11b"/><rect x="330" width="5" fill="#ece018"/><rect x="335" width="5" fill="#ece016"/><rect x="340" width="5" fill="#ecdf14"/><rect x="345" width="5" fill="#ecde13"/><rect x="350" width="5" fill="#ebde11"/><rect x="355" width="5" fill="#ebdc0f"/><rect x="360" width="5" fill="#ebdb0e"/><rect x="365" width="5" fill="#ebda0d"/><rect x="370" width="5" fill="#ead80c"/><rect x="375" width="5" fill="#ead70b"/><rect x="380" width="5" fill="#ead50b"/><rect x="385" width="5" fill="#ead30a"/><rect x="390" width="5" fill="#e9d10a"/><rect x="395" width="5" fill="#e9ce09"/><rect x="400" width="5" fill="#e9cc09"/><rect x="405" width="5" fill="#e9c909"/><rect x="410" width="5" fill="#e9c709"/><rect x="415" width="5" fill="#e8c409"/><rect x="420" width="5" fill="#e8c109"/><rect x="425" width="5" fill="#e8bf09"/><rect x="430" width="5" fill="#e8bc08"/><rect x="435" width="5" fill="#e8b908"/><rect x="440" width="5" fill="#e7b608"/><rect x="445" width="5" fill="#e7b308"/><rect x="450" width="5" fill="#e7b108"/><rect x="455" width="5" fill="#e7ae08"/><rect x="460" width="5" fill="#e7ab08"/><rect x="465" width="5" fill="#e7a908"/><rect x="470" width="5" fill="#e7a608"/><rect x="475" width="5" fill="#e6a308"/><rect x="480" width="5" fill="#e6a108"/></g>
<g transform="translate(0,295)"><rect x="90" width="5" fill="#1d9f51"/><rect x="95" width="5" fill="#1e9f4e"/><rect x="100" width="5" fill="#1fa04a"/><rect x="105" width="5" fill="#1fa148"/><rect x="110" width="5" fill="#20a148"/><rect x="115" width="10" fill="#21a248"/><rect x="125" width="5" fill="#21a348"/><rect x="130" width="5" fill="#21a347"/><rect x="135" width="5" fill="#21a446"/><rect x="140" width="5" fill="#21a445"/><rect x="145" width="10" fill="#21a544"/><rect x="155" width="5" fill="#22a543"/><rect x="160" width="5" fill="#22a643"/><rect x="165" width="5" fill="#22a642"/><rect x="170" width="5" fill="#23a642"/><rect x="175" width="5" fill="#23a641"/><rect x="180" width="5" fill="#24a641"/><rect x="185" width="5" fill="#25a741"/><rect x="190" width="5" fill="#26a740"/><rect x="195" width="5" fill="#28a840"/><rect x="200" width="5" fill="#2aa83f"/><rect x="205" width="5" fill="#2da83f"/><rect x="210" width="5" fill="#31a93e"/><rect x="215" width="5" fill="#37aa3e"/><rect x="220" width="5" fill="#42ac3d"/><rect x="225" width="5" fill="#52b03c"/><rect x="230" width="5" fill="#63b43a"/><rect x="235" width="5" fill="#75b939"/><rect x="240" width="5" fill="#86bd37"/><rect x="245" width="5" fill="#96c134"/><rect x="250" width="5" fill="#a6c532"/><rect x="255" width="5" fill="#b2c930"/><rect x="260" width="5" fill="#bccd2f"/><rect x="265" width="5" fill="#c4d02d"/><rect x="270" width="5" fill="#cbd22d"/><rect x="275" width="5" fill="#d2d52b"/><rect x="280" width="5" fill="#d9d82a"/><rect x="285" width="5" fill="#e0db29"/><rect x="290" width="5" fill="#e6dd28"/><rect x="295" width="5" fill="#e9df28"/><rect x="300" width="5" fill="#ebe026"/><rect x="305" width="5" fill="#ede124"/><rect x="310" width="5" fill="#eee222"/><rect x="315" width="5" fill="#eee220"/><rect x="320" width="5" fill="#efe21d"/><rect x="325" width="5" fill="#eee21b"/><rect x="330" width="5" fill="#eee119"/><rect x="335" width="5" fill="#eee117"/><rect x="340" width="5" fill="#eee015"/><rect x="345" width="5" fill="#eddf13"/><rect x="350" width="5" fill="#edde11"/><rect x="355" width="5" fill="#eddd10"/><rect x="360" width="5" fill="#eddc0e"/><rect x="365" width="5" fill="#ecdb0d"/><rect x="370" width="5" fill="#ecd90c"/><rect x="375" width="5" fill="#ecd70c"/><rect x="380" width="5" fill="#ebd50b"/><rect x="385" width="5" fill="#ebd30a"/><rect x="390" width="5" fill="#ebd10a"/><rect x="395" width="5" fill="#ebce0a"/><rect x="400" width="5" fill="#eacc0a"/><rect x="405" width="5" fill="#eac90a"/><rect x="410" width="5" fill="#eac709"/><rect x="415" width="5" fill="#eac409"/><rect x="420" width="5" fill="#e9c109"/><rect x="425" width="5" fill="#e9be09"/><rect x="430" width="5" fill="#e9bb09"/><rect x="435" width="5" fill="#e9b809"/><rect x="440" width="5" fill="#e8b509"/><rect x="445" width="5" fill="#e8b209"/><rect x="450" width="5" fill="#e8af09"/><rect x="455" width="5" fill="#e8ad09"/><rect x="460" width="5" fill="#e8aa09"/><rect x="465" width="5" fill="#e8a709"/><rect x="470" width="5" fill="#e7a409"/><rect x="475" width="5" fill="#e7a208"/><rect x="480" width="5" fill="#e79f08"/></g>
<g transform="translate(0,300)"><rect x="90" width="5" fill="#1f9e56"/><rect x="95" width="5" fill="#1f9f53"/><rect x="100" width="5" fill="#209f4f"/><rect x="105" width="5" fill="#21a04d"/><rect x="110" width="5" fill="#22a14d"/><rect x="115" width="5" fill="#23a14d"/><rect x="120" width="10" fill="#23a24c"/><rect x="130" width="5" fill="#23a34b"/><rect x="135" width="5" fill="#23a44a"/><rect x="140" width="5" fill="#23a448"/><rect x="145" width="5" fill="#23a547"/><rect x="150" width="5" fill="#23a546"/><rect x="155" width="5" fill="#23a545"/><rect x="160" width="10" fill="#24a644"/><rect x="170" width="10" fill="#25a643"/><rect x="180" width="5" fill="#26a742"/><rect x="185" width="5" fill="#27a742"/><rect x="190" width="5" fill="#28a741"/><rect x="195" width="5" fill="#2aa841"/><rect x="200" width="5" fill="#2da840"/><rect x="205" width="5" fill="#30a940"/><rect x="210" width="5" fill="#35a93f"/><rect x="215" width="5" fill="#3aaa3f"/><rect x="220" width="5" fill="#46ad3e"/><rect x="225" width="5" fill="#56b13c"/><rect x="230" width="5" fill="#68b53b"/><rect x="235" width="5" fill="#7aba39"/><rect x="240" width="5" fill="#8bbe37"/><rect x="245" width="5" fill="#9bc234"/><rect x="250" width="5" fill="#aac631"/><rect x="255" width="5" fill="#b6ca30"/><rect x="260" width="5" fill="#bfcd2e"/><rect x="265" width="5" fill="#c7d02d"/><rect x="270" width="5" fill="#ced32c"/><rect x="275" width="5" fill="#d4d62b"/><rect x="280" width="5" fill="#dcd92a"/><rect x="285" width="5" fill="#e2dc29"/><rect x="290" width="5" fill="#e7de28"/><rect x="295" width="5" fill="#ebe028"/><rect x="300" width="5" fill="#ede127"/><rect x="305" width="5" fill="#f0e225"/><rect x="310" width="5" fill="#f1e322"/><rect x="315" width="5" fill="#f1e320"/><rect x="320" width="5" fill="#f1e31e"/><rect x="325" width="5" fill="#f1e31c"/><rect x="330" width="5" fill="#f0e21a"/><rect x="335" width="5" fill="#f0e217"/><rect x="340" width="5" fill="#f0e115"/><rect x="345" width="5" fill="#efe013"/><rect x="350" width="5" fill="#efdf12"/><rect x="355" width="5" fill="#eede10"/><rect x="360" width="5" fill="#eedd0f"/><rect x="365" width="5" fill="#eedb0e"/><rect x="370" width="5" fill="#edd90d"/><rect x="375" width="5" fill="#edd80c"/><rect x="380" width="5" fill="#edd60b"/><rect x="385" width="5" fill="#ecd30b"/><rect x="390" width="5" fill="#ecd10b"/><rect x="395" width="5" fill="#ecce0b"/><rect x="400" width="5" fill="#ebcc0a"/><rect x="405" width="5" fill="#ebc90a"/><rect x="410" width="5" fill="#ebc60a"/><rect x="415" width="5" fill="#ebc30a"/><rect x="420" width="5" fill="#eac00a"/><rect x="425" width="5" fill="#eabd0a"/><rect x="430" width="5" fill="#eaba0a"/><rect x="435" width="5" fill="#eab70a"/><rect x="440" width="5" fill="#e9b40a"/><rect x="445" width="5" fill="#e9b10a"/><rect x="450" width="5" fill="#e9ae0a"/><rect x="455" width="5" fill="#e9ab0a"/><rect x="460" width="5" fill="#e8a80a"/><rect x="465" width="5" fill="#e8a50a"/><rect x="470" width="5" fill="#e8a309"/><rect x="475" width="5" fill="#e8a009"/><rect x="480" width="5" fill="#e89d09"/></g>
<g transform="translate(0,305)"><rect x="90" width="5" fill="#209d5c"/><rect x="95" width="5" fill="#219e59"/><rect x="100" width="5" fill="#229e56"/><rect x="105" width="5" fill="#239f54"/><rect x="110" width="5" fill="#24a053"/><rect x="115" width="5" fill="#25a153"/><rect x="120" width="5" fill="#25a152"/><rect x="125" width="5" fill="#26a251"/><rect x="130" width="5" fill="#26a34f"/><rect x="135" width="5" fill="#26a34d"/><rect x="140" width="5" fill="#26a44c"/><rect x="145" width="5" fill="#25a54a"/><rect x="150" width="5" fill="#25a549"/><rect x="155" width="5" fill="#26a648"/><rect x="160" width="5" fill="#26a647"/><rect x="165" width="5" fill="#26a646"/><rect x="170" width="5" fill="#27a645"/><rect x="175" width="5" fill="#27a644"/><rect x="180" width="5" fill="#28a744"/><rect x="185" width="5" fill="#29a743"/><rect x="190" width="5" fill="#2aa842"/><rect x="195" width="5" fill="#2ca842"/><rect x="200" width="5" fill="#30a941"/><rect x="205" width="5" fill="#34a941"/><rect x="210" width="5" fill="#3aaa40"/><rect x="215" width="5" fill="#42ab3f"/><rect x="220" width="5" fill="#4eae3e"/><rect x="225" width="5" fill="#5db23d"/><rect x="230" width="5" fill="#6eb63b"/><rect x="235" width="5" fill="#7fbb39"/><rect x="240" width="5" fill="#90bf37"/><rect x="245" width="5" fill="#9fc335"/><rect x="250" width="5" fill="#adc732"/><rect x="255" width="5" fill="#b9cb30"/><rect x="260" width="5" fill="#c2ce2f"/><rect x="265" width="5" fill="#cad12d"/><rect x="270" width="5" fill="#d1d42c"/><rect x="275" width="5" fill="#d7d72b"/><rect x="280" width="5" fill="#deda2a"/><rect x="285" width="5" fill="#e3dc29"/><rect x="290" width="5" fill="#e8de28"/><rect x="295" width="5" fill="#ece027"/><rect x="300" width="5" fill="#efe226"/><rect x="305" width="5" fill="#f2e325"/><rect x="310" width="5" fill="#f3e423"/><rect x="315" width="5" fill="#f3e421"/><rect x="320" width="5" fill="#f3e31f"/><rect x="325" width="5" fill="#f2e31d"/><rect x="330" width="5" fill="#f2e31b"/><rect x="335" width="5" fill="#f1e218"/><rect x="340" width="5" fill="#f1e216"/><rect x="345" width="5" fill="#f1e114"/><rect x="350" width="5" fill="#f0e012"/><rect x="355" width="5" fill="#f0df10"/><rect x="360" width="5" fill="#efdd0f"/><rect x="365" width="5" fill="#efdc0e"/><rect x="370" width="5" fill="#efda0d"/><rect x="375" width="5" fill="#eed80d"/><rect x="380" width="5" fill="#eed60c"/><rect x="385" width="5" fill="#edd30c"/><rect x="390" width="5" fill="#edd10b"/><rect x="395" width="5" fill="#edce0b"/><rect x="400" width="5" fill="#eccc0b"/><rect x="405" width="5" fill="#ecc90b"/><rect x="410" width="5" fill="#ecc60b"/><rect x="415" width="5" fill="#ebc30b"/><rect x="420" width="5" fill="#ebbf0b"/><rect x="425" width="5" fill="#ebbc0b"/><rect x="430" width="5" fill="#ebb90b"/><rect x="435" width="5" fill="#eab60b"/><rect x="440" width="5" fill="#eab30b"/><rect x="445" width="5" fill="#eab00b"/><rect x="450" width="5" fill="#eaad0b"/><rect x="455" width="5" fill="#e9aa0b"/><rect x="460" width="5" fill="#e9a70b"/><rect x="465" width="5" fill="#e9a40b"/><rect x="470" width="5" fill="#e9a10a"/><rect x="475" width="5" fill="#e99e0a"/><rect x="480" width="5" fill="#e89b0a"/></g>
<g transform="translate(0,310)"><rect x="90" width="5" fill="#229c63"/><rect x="95" width="5" fill="#239d60"/><rect x="100" width="5" fill="#259e5e"/><rect x="105" width="5" fill="#269e5c"/><rect x="110" width="5" fill="#279f5b"/><rect x="115" width="5" fill="#27a059"/><rect x="120" width="5" fill="#28a158"/><rect x="125" width="5" fill="#28a156"/><rect x="130" width="5" fill="#28a254"/><rect x="135" width="5" fill="#28a352"/><rect x="140" width="5" fill="#28a450"/><rect x="145" width="5" fill="#28a54e"/><rect x="150" width="5" fill="#28a54c"/><rect x="155" width="5" fill="#29a64b"/><rect x="160" width="5" fill="#29a64a"/><rect x="165" width="5" fill="#29a649"/><rect x="170" width="5" fill="#29a648"/><rect x="175" width="5" fill="#2aa747"/><rect x="180" width="5" fill="#2aa745"/><rect x="185" width="5" fill="#2ba744"/><rect x="190" width="5" fill="#2da844"/><rect x="195" width="5" fill="#2fa843"/><rect x="200" width="5" fill="#33a942"/><rect x="205" width="5" fill="#39aa42"/><rect x="210" width="5" fill="#40ab41"/><rect x="215" width="5" fill="#4aad41"/><rect x="220" width="5" fill="#56af40"/><rect x="225" width="5" fill="#65b33e"/><rect x="230" width="5" fill="#75b73d"/><rect x="235" width="5" fill="#85bb3b"/><rect x="240" width="5" fill="#95c038"/><rect x="245" width="5" fill="#a4c436"/><rect x="250" width="5" fill="#b1c833"/><rect x="255" width="5" fill="#bdcc31"/><rect x="260" width="5" fill="#c6d02f"/><rect x="265" width="5" fill="#ced32e"/><rect x="270" width="5" fill="#d4d52c"/><rect x="275" width="5" fill="#dad82b"/><rect x="280" width="5" fill="#e0da2a"/><rect x="285" width="5" fill="#e5dc29"/><rect x="290" width="5" fill="#e9df28"/><rect x="295" width="5" fill="#ede027"/><rect x="300" width="5" fill="#f0e226"/><rect x="305" width="5" fill="#f3e325"/><rect x="310" width="5" fill="#f4e424"/><rect x="315" width="5" fill="#f4e422"/><rect x="320" width="5" fill="#f4e421"/><rect x="325" width="5" fill="#f3e41e"/><rect x="330" width="5" fill="#f3e31c"/><rect x="335" width="5" fill="#f2e319"/><rect x="340" width="5" fill="#f2e217"/><rect x="345" width="5" fill="#f2e115"/><rect x="350" width="5" fill="#f1e013"/><rect x="355" width="5" fill="#f1df11"/><rect x="360" width="5" fill="#f0de10"/><rect x="365" width="5" fill="#f0dc0f"/><rect x="370" width="5" fill="#f0da0e"/><rect x="375" width="5" fill="#efd80d"/><rect x="380" width="5" fill="#efd60d"/><rect x="385" width="5" fill="#eed30d"/><rect x="390" width="5" fill="#eed10c"/><rect x="395" width="5" fill="#eece0c"/><rect x="400" width="5" fill="#edcb0c"/><rect x="405" width="5" fill="#edc80c"/><rect x="410" width="5" fill="#edc50c"/><rect x="415" width="5" fill="#ecc20c"/><rect x="420" width="5" fill="#ecbf0c"/><rect x="425" width="5" fill="#ecbb0c"/><rect x="430" width="5" fill="#ebb80c"/><rect x="435" width="5" fill="#ebb50c"/><rect x="440" width="5" fill="#ebb10c"/><rect x="445" width="5" fill="#ebae0c"/><rect x="450" width="5" fill="#eaab0c"/><rect x="455" width="5" fill="#eaa80c"/><rect x="460" width="5" fill="#eaa50c"/><rect x="465" width="5" fill="#eaa20c"/><rect x="470" width="5" fill="#e99f0b"/><rect x="475" width="5" fill="#e99c0b"/><rect x="480" width="5" fill="#e9990b"/></g>
<g transform="translate(0,315)"><rect x="90" width="5" fill="#249b6a"/><rect x="95" width="5" fill="#259c68"/><rect x="100" width="5" fill="#279d66"/><rect x="105" width="5" fill="#289d64"/><rect x="110" width="5" fill="#299e62"/><rect x="115" width="5" fill="#2a9f61"/><rect x="120" width="5" fill="#2aa05f"/><rect x="125" width="5" fill="#2aa15d"/><rect x="130" width="5" fill="#2ba25a"/><rect x="135" width="5" fill="#2ba358"/><rect x="140" width="5" fill="#2ba455"/><rect x="145" width="5" fill="#2ba551"/><rect x="150" width="5" fill="#2ca54f"/><rect x="155" width="5" fill="#2ca64e"/><rect x="160" width="5" fill="#2ca64d"/><rect x="165" width="5" fill="#2ca64c"/><rect x="170" width="5" fill="#2da74b"/><rect x="175" width="5" fill="#2da749"/><rect x="180" width="5" fill="#2da748"/><rect x="185" width="5" fill="#2ea847"/><rect x="190" width="5" fill="#30a845"/><rect x="195" width="5" fill="#33a945"/><rect x="200" width="5" fill="#37aa44"/><rect x="205" width="5" fill="#3eaa44"/><rect x="210" width="5" fill="#46ac44"/><rect x="215" width="5" fill="#51ae43"/><rect x="220" width="5" fill="#5eb042"/><rect x="225" width="5" fill="#6db441"/><rect x="230" width="5" fill="#7db83f"/><rect x="235" width="5" fill="#8dbc3d"/><rect x="240" width="5" fill="#9cc13a"/><rect x="245" width="5" fill="#aac537"/><rect x="250" width="5" fill="#b6ca35"/><rect x="255" width="5" fill="#c1ce33"/><rect x="260" width="5" fill="#cad130"/><rect x="265" width="5" fill="#d1d42e"/><rect x="270" width="5" fill="#d7d62d"/><rect x="275" width="5" fill="#ddd82b"/><rect x="280" width="5" fill="#e2db2a"/><rect x="285" width="5" fill="#e6dd29"/><rect x="290" width="5" fill="#eadf28"/><rect x="295" width="5" fill="#eee127"/><rect x="300" width="5" fill="#f1e226"/><rect x="305" width="5" fill="#f3e325"/><rect x="310" width="5" fill="#f4e425"/><rect x="315" width="5" fill="#f4e424"/><rect x="320" width="5" fill="#f4e423"/><rect x="325" width="5" fill="#f4e420"/><rect x="330" width="5" fill="#f4e41d"/><rect x="335" width="5" fill="#f3e31a"/><rect x="340" width="5" fill="#f3e318"/><rect x="345" width="5" fill="#f3e216"/><rect x="350" width="5" fill="#f2e114"/><rect x="355" width="5" fill="#f2e012"/><rect x="360" width="5" fill="#f1de11"/><rect x="365" width="5" fill="#f1dc0f"/><rect x="370" width="5" fill="#f0db0f"/><rect x="375" width="5" fill="#f0d80e"/><rect x="380" width="5" fill="#f0d60e"/><rect x="385" width="5" fill="#efd30e"/><rect x="390" width="5" fill="#efd10d"/><rect x="395" width="5" fill="#eece0d"/><rect x="400" width="5" fill="#eecb0d"/><rect x="405" width="5" fill="#eec70e"/><rect x="410" width="5" fill="#edc40e"/><rect x="415" width="5" fill="#edc10e"/><rect x="420" width="5" fill="#edbd0e"/><rect x="425" width="5" fill="#ecba0e"/><rect x="430" width="5" fill="#ecb60e"/><rect x="435" width="5" fill="#ecb30e"/><rect x="440" width="5" fill="#ebb00e"/><rect x="445" width="5" fill="#ebac0d"/><rect x="450" width="5" fill="#eba90d"/><rect x="455" width="5" fill="#eba60d"/><rect x="460" width="5" fill="#eaa30d"/><rect x="465" width="5" fill="#eaa00d"/><rect x="470" width="5" fill="#ea9d0d"/><rect x="475" width="5" fill="#ea9a0c"/><rect x="480" width="5" fill="#ea970c"/></g>
<g transform="translate(0,320)"><rect x="90" width="5" fill="#259a71"/><rect x="95" width="5" fill="#279b70"/><rect x="100" width="5" fill="#299b6e"/><rect x="105" width="5" fill="#2b9c6c"/><rect x="110" width="5" fill="#2c9d6b"/><rect x="115" width="5" fill="#2c9e69"/><rect x="120" width="5" fill="#2d9f67"/><rect x="125" width="5" fill="#2da064"/><rect x="130" width="5" fill="#2da161"/><rect x="135" width="5" fill="#2ea25e"/><rect x="140" width="5" fill="#2ea35a"/><rect x="145" width="5" fill="#2ea457"/><rect x="150" width="5" fill="#2fa555"/><rect x="155" width="5" fill="#2fa653"/><rect x="160" width="5" fill="#30a652"/><rect x="165" width="5" fill="#30a650"/><rect x="170" width="5" fill="#31a74f"/><rect x="175" width="5" fill="#31a74d"/><rect x="180" width="5" fill="#31a74b"/><rect x="185" width="5" fill="#32a849"/><rect x="190" width="5" fill="#34a848"/><rect x="195" width="5" fill="#36a947"/><rect x="200" width="5" fill="#3baa47"/><rect x="205" width="5" fill="#43ab47"/><rect x="210" width="5" fill="#4dad47"/><rect x="215" width="5" fill="#58ae46"/><rect x="220" width="5" fill="#66b145"/><rect x="225" width="5" fill="#75b544"/><rect x="230" width="5" fill="#85b942"/><rect x="235" width="5" fill="#94bd40"/><rect x="240" width="5" fill="#a3c23d"/><rect x="245" width="5" fill="#b0c73a"/><rect x="250" width="5" fill="#bbcb37"/><rect x="255" width="5" fill="#c6cf35"/><rect x="260" width="5" fill="#ced232"/><rect x="265" width="5" fill="#d5d530"/><rect x="270" width="5" fill="#dad72e"/><rect x="275" width="5" fill="#dfd92c"/><rect x="280" width="5" fill="#e3db2b"/><rect x="285" width="5" fill="#e7dd2a"/><rect x="290" width="5" fill="#ebdf28"/><rect x="295" width="5" fill="#efe127"/><rect x="300" width="5" fill="#f1e226"/><rect x="305" width="5" fill="#f3e326"/><rect x="310" width="10" fill="#f4e426"/><rect x="320" width="5" fill="#f4e424"/><rect x="325" width="5" fill="#f4e422"/><rect x="330" width="5" fill="#f4e41f"/><rect x="335" width="5" fill="#f4e41c"/><rect x="340" width="5" fill="#f3e319"/><rect x="345" width="5" fill="#f3e217"/><rect x="350" width="5" fill="#f3e115"/><rect x="355" width="5" fill="#f2e013"/><rect x="360" width="5" fill="#f2de12"/><rect x="365" width="5" fill="#f2dd11"/><rect x="370" width="5" fill="#f1db10"/><rect x="375" width="5" fill="#f1d80f"/><rect x="380" width="5" fill="#f0d60f"/><rect x="385" width="5" fill="#f0d30f"/><rect x="390" width="5" fill="#f0d00f"/><rect x="395" width="5" fill="#efcd0f"/><rect x="400" width="5" fill="#efca0f"/><rect x="405" width="5" fill="#eec70f"/><rect x="410" width="5" fill="#eec30f"/><rect x="415" width="5" fill="#eec00f"/><rect x="420" width="5" fill="#edbc0f"/><rect x="425" width="5" fill="#edb80f"/><rect x="430" width="5" fill="#edb50f"/><rect x="435" width="5" fill="#ecb10f"/><rect x="440" width="5" fill="#ecae0f"/><rect x="445" width="5" fill="#ecaa0f"/><rect x="450" width="5" fill="#eba70f"/><rect x="455" width="5" fill="#eba40e"/><rect x="460" width="5" fill="#eba00e"/><rect x="465" width="5" fill="#eb9d0e"/><rect x="470" width="5" fill="#eb9a0e"/><rect x="475" width="5" fill="#ea970d"/><rect x="480" width="5" fill="#ea940d"/></g>
<g transform="translate(0,325)"><rect x="90" width="5" fill="#279979"/><rect x="95" width="5" fill="#299978"/><rect x="100" width="5" fill="#2b9a77"/><rect x="105" width="5" fill="#2d9b75"/><rect x="110" width="5" fill="#2e9c73"/><rect x="115" width="5" fill="#2f9d71"/><rect x="120" width="5" fill="#2f9e6f"/><rect x="125" width="5" fill="#309f6c"/><rect x="130" width="5" fill="#30a069"/><rect x="135" width="5" fill="#31a165"/><rect x="140" width="5" fill="#31a362"/><rect x="145" width="5" fill="#32a45e"/><rect x="150" width="5" fill="#32a55b"/><rect x="155" width="5" fill="#33a559"/><rect x="160" width="5" fill="#34a657"/><rect x="165" width="5" fill="#35a656"/><rect x="170" width="5" fill="#36a753"/><rect x="175" width="5" fill="#36a751"/><rect x="180" width="5" fill="#36a84f"/><rect x="185" width="5" fill="#37a84c"/><rect x="190" width="5" fill="#38a94a"/><rect x="195" width="5" fill="#3baa49"/><rect x="200" width="5" fill="#41ab49"/><rect x="205" width="5" fill="#4aac4a"/><rect x="210" width="5" fill="#55ad4b"/><rect x="215" width="5" fill="#61b04b"/><rect x="220" width="5" fill="#6fb34a"/><rect x="225" width="5" fill="#7eb749"/><rect x="230" width="5" fill="#8ebb47"/><rect x="235" width="5" fill="#9dbf44"/><rect x="240" width="5" fill="#aac440"/><rect x="245" width="5" fill="#b6c83d"/><rect x="250" width="5" fill="#c1cd3a"/><rect x="255" width="5" fill="#cbd137"/><rect x="260" width="5" fill="#d2d435"/><rect x="265" width="5" fill="#d8d632"/><rect x="270" width="5" fill="#ddd82f"/><rect x="275" width="5" fill="#e1da2d"/><rect x="280" width="5" fill="#e5dc2c"/><rect x="285" width="5" fill="#e8dd2b"/><rect x="290" width="5" fill="#ecdf29"/><rect x="295" width="5" fill="#efe127"/><rect x="300" width="5" fill="#f2e227"/><rect x="305" width="5" fill="#f3e327"/><rect x="310" width="10" fill="#f4e427"/><rect x="320" width="5" fill="#f4e426"/><rect x="325" width="5" fill="#f4e424"/><rect x="330" width="5" fill="#f4e421"/><rect x="335" width="5" fill="#f4e41e"/><rect x="340" width="5" fill="#f4e31b"/><rect x="345" width="5" fill="#f4e219"/><rect x="350" width="5" fill="#f3e116"/><rect x="355" width="5" fill="#f3e015"/><rect x="360" width="5" fill="#f2df13"/><rect x="365" width="5" fill="#f2dd12"/><rect x="370" width="5" fill="#f2db11"/><rect x="375" width="5" fill="#f1d811"/><rect x="380" width="5" fill="#f1d610"/><rect x="385" width="5" fill="#f0d310"/><rect x="390" width="5" fill="#f0d010"/><rect x="395" width="5" fill="#f0cd10"/><rect x="400" width="5" fill="#efc911"/><rect x="405" width="5" fill="#efc611"/><rect x="410" width="5" fill="#efc211"/><rect x="415" width="5" fill="#eebe11"/><rect x="420" width="5" fill="#eebb11"/><rect x="425" width="5" fill="#edb711"/><rect x="430" width="5" fill="#edb311"/><rect x="435" width="5" fill="#edaf11"/><rect x="440" width="5" fill="#edac11"/><rect x="445" width="5" fill="#eca810"/><rect x="450" width="5" fill="#eca510"/><rect x="455" width="5" fill="#eca110"/><rect x="460" width="5" fill="#eb9e10"/><rect x="465" width="5" fill="#eb9b0f"/><rect x="470" width="5" fill="#eb980f"/><rect x="475" width="5" fill="#eb950f"/><rect x="480" width="5" fill="#eb920e"/></g>
<g transform="translate(0,330)"><rect x="90" width="5" fill="#289781"/><rect x="95" width="5" fill="#2a9880"/><rect x="100" width="5" fill="#2d997f"/><rect x="105" width="5" fill="#2f9a7e"/><rect x="110" width="5" fill="#309b7d"/><rect x="115" width="5" fill="#319c7a"/><rect x="120" width="5" fill="#329d78"/><rect x="125" width="5" fill="#329e74"/><rect x="130" width="5" fill="#339f71"/><rect x="135" width="5" fill="#33a16d"/><rect x="140" width="5" fill="#34a269"/><rect x="145" width="5" fill="#35a366"/><rect x="150" width="5" fill="#36a463"/><rect x="155" width="5" fill="#37a560"/><rect x="160" width="5" fill="#39a65e"/><rect x="165" width="5" fill="#3aa65c"/><rect x="170" width="5" fill="#3ba759"/><rect x="175" width="5" fill="#3ca856"/><rect x="180" width="5" fill="#3ca853"/><rect x="185" width="5" fill="#3da950"/><rect x="190" width="5" fill="#3ea94d"/><rect x="195" width="5" fill="#40aa4c"/><rect x="200" width="5" fill="#47ab4c"/><rect x="205" width="5" fill="#51ac4e"/><rect x="210" width="5" fill="#5eaf51"/><rect x="215" width="5" fill="#6cb152"/><rect x="220" width="5" fill="#7ab552"/><rect x="225" width="5" fill="#89b950"/><rect x="230" width="5" fill="#98be4d"/><rect x="235" width="5" fill="#a6c249"/><rect x="240" width="5" fill="#b2c645"/><rect x="245" width="5" fill="#bdcb41"/><rect x="250" width="5" fill="#c7cf3d"/><rect x="255" width="5" fill="#cfd23a"/><rect x="260" width="5" fill="#d6d538"/><rect x="265" width="5" fill="#dbd835"/><rect x="270" width="5" fill="#dfd932"/><rect x="275" width="5" fill="#e3db2f"/><rect x="280" width="5" fill="#e6dc2d"/><rect x="285" width="5" fill="#e9de2b"/><rect x="290" width="5" fill="#ecdf2a"/><rect x="295" width="5" fill="#efe128"/><rect x="300" width="5" fill="#f1e228"/><rect x="305" width="5" fill="#f3e328"/><rect x="310" width="5" fill="#f4e329"/><rect x="315" width="10" fill="#f4e42a"/><rect x="325" width="5" fill="#f4e428"/><rect x="330" width="5" fill="#f4e425"/><rect x="335" width="5" fill="#f4e421"/><rect x="340" width="5" fill="#f4e31e"/><rect x="345" width="5" fill="#f4e21b"/><rect x="350" width="5" fill="#f3e119"/><rect x="355" width="5" fill="#f3e017"/><rect x="360" width="5" fill="#f3de15"/><rect x="365" width="5" fill="#f2dd14"/><rect x="370" width="5" fill="#f2db13"/><rect x="375" width="5" fill="#f2d812"/><rect x="380" width="5" fill="#f1d512"/><rect x="385" width="5" fill="#f1d212"/><rect x="390" width="5" fill="#f0cf12"/><rect x="395" width="5" fill="#f0cc12"/><rect x="400" width="5" fill="#f0c813"/><rect x="405" width="5" fill="#efc413"/><rect x="410" width="5" fill="#efc113"/><rect x="415" width="5" fill="#efbd13"/><rect x="420" width="5" fill="#eeb913"/><rect x="425" width="5" fill="#eeb513"/><rect x="430" width="5" fill="#eeb113"/><rect x="435" width="5" fill="#edad13"/><rect x="440" width="5" fill="#eda912"/><rect x="445" width="5" fill="#eda612"/><rect x="450" width="5" fill="#eca212"/><rect x="455" width="5" fill="#ec9f11"/><rect x="460" width="5" fill="#ec9b11"/><rect x="465" width="5" fill="#ec9811"/><rect x="470" width="5" fill="#eb9510"/><rect x="475" width="5" fill="#eb9210"/><rect x="480" width="5" fill="#eb8f0f"/></g>
<g transform="translate(0,335)"><rect x="90" width="5" fill="#299689"/><rect x="95" width="5" fill="#2b9789"/><rect x="100" width="5" fill="#2e9788"/><rect x="105" width="5" fill="#319888"/><rect x="110" width="5" fill="#329986"/><rect x="115" width="5" fill="#339a84"/><rect x="120" width="5" fill="#349c81"/><rect x="125" width="5" fill="#349d7d"/><rect x="130" width="5" fill="#359e7a"/><rect x="135" width="5" fill="#36a076"/><rect x="140" width="5" fill="#37a172"/><rect x="145" width="5" fill="#38a26e"/><rect x="150" width="5" fill="#3aa46a"/><rect x="155" width="5" fill="#3ca568"/><rect x="160" width="5" fill="#3ea665"/><rect x="165" width="5" fill="#40a663"/><rect x="170" width="5" fill="#41a760"/><rect x="175" width="5" fill="#43a85d"/><rect x="180" width="5" fill="#44a959"/><rect x="185" width="5" fill="#44a956"/><rect x="190" width="5" fill="#45a952"/><rect x="195" width="5" fill="#46aa4e"/><rect x="200" width="5" fill="#4dab50"/><rect x="205" width="5" fill="#5aad55"/><rect x="210" width="5" fill="#69b05a"/><rect x="215" width="5" fill="#77b35c"/><rect x="220" width="5" fill="#86b75b"/><rect x="225" width="5" fill="#94bc59"/><rect x="230" width="5" fill="#a2c055"/><rect x="235" width="5" fill="#afc551"/><rect x="240" width="5" fill="#bac94c"/><rect x="245" width="5" fill="#c4cd47"/><rect x="250" width="5" fill="#cdd142"/><rect x="255" width="5" fill="#d4d43f"/><rect x="260" width="5" fill="#dad73e"/><rect x="265" width="5" fill="#ded93c"/><rect x="270" width="5" fill="#e2db38"/><rect x="275" width="5" fill="#e5dc33"/><rect x="280" width="5" fill="#e7dd30"/><rect x="285" width="5" fill="#eade2f"/><rect x="290" width="5" fill="#eddf2d"/><rect x="295" width="5" fill="#efe02b"/><rect x="300" width="5" fill="#f0e129"/><rect x="305" width="5" fill="#f2e22a"/><rect x="310" width="5" fill="#f3e32c"/><rect x="315" width="5" fill="#f3e32f"/><rect x="320" width="5" fill="#f4e430"/><rect x="325" width="5" fill="#f4e42f"/><rect x="330" width="5" fill="#f4e42b"/><rect x="335" width="5" fill="#f4e326"/><rect x="340" width="5" fill="#f4e322"/><rect x="345" width="5" fill="#f4e21f"/><rect x="350" width="5" fill="#f4e11c"/><rect x="355" width="5" fill="#f3e019"/><rect x="360" width="5" fill="#f3de17"/><rect x="365" width="5" fill="#f3dc16"/><rect x="370" width="5" fill="#f2da15"/><rect x="375" width="5" fill="#f2d814"/><rect x="380" width="5" fill="#f2d514"/><rect x="385" width="5" fill="#f1d214"/><rect x="390" width="5" fill="#f1ce15"/><rect x="395" width="5" fill="#f0cb15"/><rect x="400" width="5" fill="#f0c715"/><rect x="405" width="5" fill="#f0c315"/><rect x="410" width="5" fill="#efbf15"/><rect x="415" width="5" fill="#efbb15"/><rect x="420" width="5" fill="#efb715"/><rect x="425" width="5" fill="#eeb315"/><rect x="430" width="5" fill="#eeaf15"/><rect x="435" width="5" fill="#eeab15"/><rect x="440" width="5" fill="#eda714"/><rect x="445" width="5" fill="#eda314"/><rect x="450" width="5" fill="#ed9f13"/><rect x="455" width="5" fill="#ec9c13"/><rect x="460" width="5" fill="#ec9813"/><rect x="465" width="5" fill="#ec9512"/><rect x="470" width="5" fill="#ec9212"/><rect x="475" width="5" fill="#eb8f11"/><rect x="480" width="5" fill="#eb8c11"/></g>
<g transform="translate(0,340)"><rect x="90" width="5" fill="#299590"/><rect x="95" width="5" fill="#2c9591"/><rect x="100" width="5" fill="#2f9691"/><rect x="105" width="5" fill="#329791"/><rect x="110" width="5" fill="#34988f"/><rect x="115" width="5" fill="#35998d"/><rect x="120" width="5" fill="#369a8a"/><rect x="125" width="5" fill="#369c86"/><rect x="130" width="5" fill="#379d83"/><rect x="135" width="5" fill="#399f7e"/><rect x="140" width="5" fill="#3aa07a"/><rect x="145" width="5" fill="#3ba276"/><rect x="150" width="5" fill="#3ea372"/><rect x="155" width="5" fill="#40a470"/><rect x="160" width="5" fill="#43a56d"/><rect x="165" width="5" fill="#46a66a"/><rect x="170" width="5" fill="#48a868"/><rect x="175" width="5" fill="#4ba964"/><rect x="180" width="5" fill="#4ca961"/><rect x="185" width="5" fill="#4daa5d"/><rect x="190" width="5" fill="#4eaa59"/><rect x="195" width="5" fill="#50ab56"/><rect x="200" width="5" fill="#58ac58"/><rect x="205" width="5" fill="#66ae5f"/><rect x="210" width="5" fill="#75b165"/><rect x="215" width="5" fill="#83b568"/><rect x="220" width="5" fill="#92b967"/><rect x="225" width="5" fill="#a0bf64"/><rect x="230" width="5" fill="#aec45f"/><rect x="235" width="5" fill="#b9c95b"/><rect x="240" width="5" fill="#c3cd57"/><rect x="245" width="5" fill="#ccd151"/><rect x="250" width="5" fill="#d3d44a"/><rect x="255" width="5" fill="#d9d747"/><rect x="260" width="5" fill="#deda49"/><rect x="265" width="5" fill="#e2dc48"/><rect x="270" width="5" fill="#e5dd44"/><rect x="275" width="5" fill="#e6dd3b"/><rect x="280" width="5" fill="#e9de37"/><rect x="285" width="5" fill="#ebdf39"/><rect x="290" width="5" fill="#ede036"/><rect x="295" width="5" fill="#eee031"/><rect x="300" width="5" fill="#efe02c"/><rect x="305" width="5" fill="#f0e12d"/><rect x="310" width="5" fill="#f2e233"/><rect x="315" width="5" fill="#f3e339"/><rect x="320" width="5" fill="#f3e43b"/><rect x="325" width="5" fill="#f4e439"/><rect x="330" width="5" fill="#f4e333"/><rect x="335" width="5" fill="#f4e32d"/><rect x="340" width="5" fill="#f4e227"/><rect x="345" width="5" fill="#f4e224"/><rect x="350" width="5" fill="#f4e120"/><rect x="355" width="5" fill="#f3df1d"/><rect x="360" width="5" fill="#f3de1a"/><rect x="365" width="5" fill="#f3dc18"/><rect x="370" width="5" fill="#f2da17"/><rect x="375" width="5" fill="#f2d717"/><rect x="380" width="5" fill="#f2d417"/><rect x="385" width="5" fill="#f1d117"/><rect x="390" width="5" fill="#f1cd17"/><rect x="395" width="5" fill="#f1c917"/><rect x="400" width="5" fill="#f0c518"/><rect x="405" width="5" fill="#f0c118"/><rect x="410" width="5" fill="#f0bd18"/><rect x="415" width="5" fill="#efb918"/><rect x="420" width="5" fill="#efb418"/><rect x="425" width="5" fill="#eeb017"/><rect x="430" width="5" fill="#eeac17"/><rect x="435" width="5" fill="#eea817"/><rect x="440" width="5" fill="#eea416"/><rect x="445" width="5" fill="#eda016"/><rect x="450" width="5" fill="#ed9c15"/><rect x="455" width="5" fill="#ed9915"/><rect x="460" width="5" fill="#ec9514"/><rect x="465" width="5" fill="#ec9214"/><rect x="470" width="5" fill="#ec8f13"/><rect x="475" width="5" fill="#ec8c13"/><rect x="480" width="5" fill="#ec8912"/></g>
<g transform="translate(0,345)"><rect x="90" width="5" fill="#299398"/><rect x="95" width="5" fill="#2c9499"/><rect x="100" width="5" fill="#2f9599"/><rect x="105" width="5" fill="#329599"/><rect x="110" width="5" fill="#349699"/><rect x="115" width="5" fill="#369896"/><rect x="120" width="5" fill="#379993"/><rect x="125" width="5" fill="#389a90"/><rect x="130" width="5" fill="#399c8c"/><rect x="135" width="5" fill="#3b9e88"/><rect x="140" width="5" fill="#3d9f83"/><rect x="145" width="5" fill="#3fa17f"/><rect x="150" width="5" fill="#42a27b"/><rect x="155" width="5" fill="#45a479"/><rect x="160" width="5" fill="#48a576"/><rect x="165" width="5" fill="#4ca673"/><rect x="170" width="5" fill="#50a870"/><rect x="175" width="5" fill="#53a96d"/><rect x="180" width="5" fill="#56aa69"/><rect x="185" width="5" fill="#58ab65"/><rect x="190" width="5" fill="#5aab62"/><rect x="195" width="5" fill="#5fac61"/><rect x="200" width="5" fill="#67ae64"/><rect x="205" width="5" fill="#74b06c"/><rect x="210" width="5" fill="#82b274"/><rect x="215" width="5" fill="#90b677"/><rect x="220" width="5" fill="#9ebc75"/><rect x="225" width="5" fill="#acc271"/><rect x="230" width="5" fill="#b9c76c"/><rect x="235" width="5" fill="#c4cc68"/><rect x="240" width="5" fill="#cdd166"/><rect x="245" width="5" fill="#d4d561"/><rect x="250" width="5" fill="#dad758"/><rect x="255" width="5" fill="#dfda57"/><rect x="260" width="5" fill="#e3dd5c"/><rect x="265" width="5" fill="#e6df5d"/><rect x="270" width="5" fill="#e8e059"/><rect x="275" width="5" fill="#e9e051"/><rect x="280" width="5" fill="#ebe04c"/><rect x="285" width="5" fill="#ede14c"/><rect x="290" width="5" fill="#eee147"/><rect x="295" width="5" fill="#eee13e"/><rect x="300" width="5" fill="#eee032"/><rect x="305" width="5" fill="#efe032"/><rect x="310" width="5" fill="#f1e240"/><rect x="315" width="5" fill="#f2e349"/><rect x="320" width="5" fill="#f3e44c"/><rect x="325" width="5" fill="#f4e447"/><rect x="330" width="5" fill="#f4e33f"/><rect x="335" width="5" fill="#f4e236"/><rect x="340" width="5" fill="#f4e230"/><rect x="345" width="5" fill="#f4e12b"/><rect x="350" width="5" fill="#f3e026"/><rect x="355" width="5" fill="#f3df21"/><rect x="360" width="5" fill="#f3dd1e"/><rect x="365" width="5" fill="#f3db1c"/><rect x="370" width="5" fill="#f2d91b"/><rect x="375" width="5" fill="#f2d61a"/><rect x="380" width="5" fill="#f2d31a"/><rect x="385" width="5" fill="#f1d01a"/><rect x="390" width="5" fill="#f1cc1a"/><rect x="395" width="5" fill="#f1c81b"/><rect x="400" width="5" fill="#f0c41b"/><rect x="405" width="5" fill="#f0bf1b"/><rect x="410" width="5" fill="#f0bb1b"/><rect x="415" width="5" fill="#efb61b"/><rect x="420" width="5" fill="#efb21a"/><rect x="425" width="5" fill="#efad1a"/><rect x="430" width="5" fill="#eea919"/><rect x="435" width="5" fill="#eea519"/><rect x="440" width="5" fill="#eea118"/><rect x="445" width="5" fill="#ed9d18"/><rect x="450" width="5" fill="#ed9917"/><rect x="455" width="5" fill="#ed9516"/><rect x="460" width="5" fill="#ed9216"/><rect x="465" width="5" fill="#ec8e15"/><rect x="470" width="5" fill="#ec8b15"/><rect x="475" width="5" fill="#ec8814"/><rect x="480" width="5" fill="#ec8513"/></g>
<g transform="translate(0,350)"><rect x="90" width="5" fill="#29929f"/><rect x="95" width="5" fill="#2c92a0"/><rect x="100" width="5" fill="#2f93a1"/><rect x="105" width="5" fill="#3294a2"/><rect x="110" width="5" fill="#3495a2"/><rect x="115" width="5" fill="#3696a0"/><rect x="120" width="5" fill="#38979d"/><rect x="125" width="5" fill="#399999"/><rect x="130" width="5" fill="#3b9b95"/><rect x="135" width="5" fill="#3d9c91"/><rect x="140" width="5" fill="#409e8d"/><rect x="145" width="5" fill="#43a089"/><rect x="150" width="5" fill="#46a185"/><rect x="155" width="5" fill="#4aa382"/><rect x="160" width="5" fill="#4ea57f"/><rect x="165" width="5" fill="#52a67c"/><rect x="170" width="5" fill="#57a879"/><rect x="175" width="5" fill="#5ba976"/><rect x="180" width="5" fill="#5faa73"/><rect x="185" width="5" fill="#62ab6f"/><rect x="190" width="5" fill="#66ac6c"/><rect x="195" width="5" fill="#6cae6c"/><rect x="200" width="5" fill="#75af70"/><rect x="205" width="5" fill="#81b177"/><rect x="210" width="5" fill="#8eb480"/><rect x="215" width="5" fill="#9cb885"/><rect x="220" width="5" fill="#aabf84"/><rect x="225" width="5" fill="#b7c582"/><rect x="230" width="5" fill="#c4cb7e"/><rect x="235" width="5" fill="#ced17c"/><rect x="240" width="5" fill="#d5d67c"/><rect x="245" width="5" fill="#dcd97a"/><rect x="250" width="5" fill="#e1dc76"/><rect x="255" width="5" fill="#e5df76"/><rect x="260" width="5" fill="#e8e178"/><rect x="265" width="5" fill="#eae379"/><rect x="270" width="5" fill="#ece478"/><rect x="275" width="5" fill="#ede474"/><rect x="280" width="5" fill="#eee46f"/><rect x="285" width="5" fill="#efe469"/><rect x="290" width="5" fill="#efe461"/><rect x="295" width="5" fill="#efe356"/><rect x="300" width="5" fill="#efe149"/><rect x="305" width="5" fill="#f0e149"/><rect x="310" width="5" fill="#f1e357"/><rect x="315" width="5" fill="#f3e461"/><rect x="320" width="5" fill="#f3e462"/><rect x="325" width="5" fill="#f4e45b"/><rect x="330" width="5" fill="#f4e24f"/><rect x="335" width="5" fill="#f3e141"/><rect x="340" width="5" fill="#f3e03a"/><rect x="345" width="5" fill="#f3e035"/><rect x="350" width="5" fill="#f3df2e"/><rect x="355" width="5" fill="#f3de27"/><rect x="360" width="5" fill="#f3dd22"/><rect x="365" width="5" fill="#f3db1f"/><rect x="370" width="5" fill="#f2d81e"/><rect x="375" width="5" fill="#f2d51e"/><rect x="380" width="5" fill="#f2d21e"/><rect x="385" width="5" fill="#f1ce1e"/><rect x="390" width="5" fill="#f1ca1e"/><rect x="395" width="5" fill="#f1c61e"/><rect x="400" width="5" fill="#f0c11e"/><rect x="405" width="5" fill="#f0bd1e"/><rect x="410" width="5" fill="#f0b81e"/><rect x="415" width="5" fill="#efb31e"/><rect x="420" width="5" fill="#efaf1d"/><rect x="425" width="5" fill="#efaa1d"/><rect x="430" width="5" fill="#eea61c"/><rect x="435" width="5" fill="#eea11b"/><rect x="440" width="5" fill="#ee9d1b"/><rect x="445" width="5" fill="#ee991a"/><rect x="450" width="5" fill="#ed9519"/><rect x="455" width="5" fill="#ed9218"/><rect x="460" width="5" fill="#ed8e18"/><rect x="465" width="5" fill="#ed8b17"/><rect x="470" width="5" fill="#ec8816"/><rect x="475" width="5" fill="#ec8515"/><rect x="480" width="5" fill="#ec8215"/></g>
<g transform="translate(0,355)"><rect x="90" width="5" fill="#2991a5"/><rect x="95" width="5" fill="#2b91a7"/><rect x="100" width="5" fill="#2e92a9"/><rect x="105" width="5" fill="#3292ab"/><rect x="110" width="5" fill="#3493ab"/><rect x="115" width="5" fill="#3694a9"/><rect x="120" width="5" fill="#3896a5"/><rect x="125" width="5" fill="#3a98a2"/><rect x="130" width="5" fill="#3c999e"/><rect x="135" width="5" fill="#3f9b9a"/><rect x="140" width="5" fill="#429d97"/><rect x="145" width="5" fill="#469f93"/><rect x="150" width="5" fill="#4aa090"/><rect x="155" width="5" fill="#4ea28c"/><rect x="160" width="5" fill="#53a489"/><rect x="165" width="5" fill="#57a686"/><rect x="170" width="5" fill="#5da783"/><rect x="175" width="5" fill="#62a980"/><rect x="180" width="5" fill="#66aa7c"/><rect x="185" width="5" fill="#6bac79"/><rect x="190" width="5" fill="#70ad77"/><rect x="195" width="5" fill="#77af75"/><rect x="200" width="5" fill="#80b079"/><rect x="205" width="5" fill="#8cb381"/><rect x="210" width="5" fill="#99b689"/><rect x="215" width="5" fill="#a7bb90"/><rect x="220" width="5" fill="#b4c293"/><rect x="225" width="5" fill="#c1c995"/><rect x="230" width="5" fill="#cdd096"/><rect x="235" width="5" fill="#d6d697"/><rect x="240" width="5" fill="#dedb97"/><rect x="245" width="5" fill="#e3df98"/><rect x="250" width="5" fill="#e7e298"/><rect x="255" width="5" fill="#ebe498"/><rect x="260" width="5" fill="#ede699"/><rect x="265" width="5" fill="#eee89a"/><rect x="270" width="5" fill="#f0e89b"/><rect x="275" width="5" fill="#f0e89a"/><rect x="280" width="5" fill="#f1e895"/><rect x="285" width="5" fill="#f1e88c"/><rect x="290" width="5" fill="#f1e782"/><rect x="295" width="5" fill="#f1e578"/><rect x="300" width="5" fill="#f1e470"/><rect x="305" width="5" fill="#f2e470"/><rect x="310" width="5" fill="#f2e477"/><rect x="315" width="5" fill="#f3e57e"/><rect x="320" width="5" fill="#f4e57e"/><rect x="325" width="5" fill="#f4e475"/><rect x="330" width="5" fill="#f4e266"/><rect x="335" width="5" fill="#f3e054"/><rect x="340" width="5" fill="#f3df4d"/><rect x="345" width="5" fill="#f3df44"/><rect x="350" width="5" fill="#f3de3a"/><rect x="355" width="5" fill="#f3dd2e"/><rect x="360" width="5" fill="#f3db27"/><rect x="365" width="5" fill="#f2d924"/><rect x="370" width="5" fill="#f2d723"/><rect x="375" width="5" fill="#f2d422"/><rect x="380" width="5" fill="#f1d022"/><rect x="385" width="5" fill="#f1cc22"/><rect x="390" width="5" fill="#f1c822"/><rect x="395" width="5" fill="#f1c322"/><rect x="400" width="5" fill="#f0bf22"/><rect x="405" width="5" fill="#f0ba22"/><rect x="410" width="5" fill="#f0b521"/><rect x="415" width="5" fill="#efb021"/><rect x="420" width="5" fill="#efab20"/><rect x="425" width="5" fill="#efa720"/><rect x="430" width="5" fill="#eea21f"/><rect x="435" width="5" fill="#ee9e1e"/><rect x="440" width="5" fill="#ee991d"/><rect x="445" width="5" fill="#ee951c"/><rect x="450" width="5" fill="#ed911b"/><rect x="455" width="5" fill="#ed8e1a"/><rect x="460" width="5" fill="#ed8a19"/><rect x="465" width="5" fill="#ed8718"/><rect x="470" width="5" fill="#ec8418"/><rect x="475" width="5" fill="#ec8117"/><rect x="480" width="5" fill="#ec7e16"/></g>
<g transform="translate(0,360)"><rect x="90" width="5" fill="#288fab"/><rect x="95" width="5" fill="#2a90ad"/><rect x="100" width="5" fill="#2d90af"/><rect x="105" width="5" fill="#3091b1"/><rect x="110" width="5" fill="#3392b2"/><rect x="115" width="5" fill="#3593b0"/><rect x="120" width="5" fill="#3895ad"/><rect x="125" width="5" fill="#3a96aa"/><rect x="130" width="5" fill="#3d98a7"/><rect x="135" width="5" fill="#409aa3"/><rect x="140" width="5" fill="#449ca0"/><rect x="145" width="5" fill="#489e9d"/><rect x="150" width="5" fill="#4d9f9a"/><rect x="155" width="5" fill="#51a196"/><rect x="160" width="5" fill="#57a393"/><rect x="165" width="5" fill="#5ca590"/><rect x="170" width="5" fill="#62a78d"/><rect x="175" width="5" fill="#68a88a"/><rect x="180" width="5" fill="#6eaa87"/><rect x="185" width="5" fill="#73ab84"/><rect x="190" width="5" fill="#79ad82"/><rect x="195" width="5" fill="#80af81"/><rect x="200" width="5" fill="#8ab184"/><rect x="205" width="5" fill="#95b38b"/><rect x="210" width="5" fill="#a3b793"/><rect x="215" width="5" fill="#b0bc9b"/><rect x="220" width="5" fill="#bdc4a2"/><rect x="225" width="5" fill="#cacda9"/><rect x="230" width="5" fill="#d6d5ae"/><rect x="235" width="5" fill="#dfdbb1"/><rect x="240" width="5" fill="#e5e0b3"/><rect x="245" width="5" fill="#eae4b5"/><rect x="250" width="5" fill="#ede7b9"/><rect x="255" width="5" fill="#f0e9ba"/><rect x="260" width="5" fill="#f1ebb9"/><rect x="265" width="5" fill="#f2ecba"/><rect x="270" width="5" fill="#f3ecbc"/><rect x="275" width="5" fill="#f3ecc0"/><rect x="280" width="5" fill="#f4ecbb"/><rect x="285" width="5" fill="#f4ebae"/><rect x="290" width="5" fill="#f3eaa3"/><rect x="295" width="5" fill="#f3e89a"/><rect x="300" width="5" fill="#f3e795"/><rect x="305" width="5" fill="#f3e694"/><rect x="310" width="5" fill="#f4e699"/><rect x="315" width="5" fill="#f4e69f"/><rect x="320" width="5" fill="#f4e59e"/><rect x="325" width="5" fill="#f4e492"/><rect x="330" width="5" fill="#f4e284"/><rect x="335" width="5" fill="#f4e076"/><rect x="340" width="5" fill="#f3de68"/><rect x="345" width="5" fill="#f3dd59"/><rect x="350" width="5" fill="#f3dc48"/><rect x="355" width="5" fill="#f2db39"/><rect x="360" width="5" fill="#f2d92e"/><rect x="365" width="5" fill="#f2d72a"/><rect x="370" width="5" fill="#f2d528"/><rect x="375" width="5" fill="#f1d228"/><rect x="380" width="5" fill="#f1ce28"/><rect x="385" width="5" fill="#f1ca27"/><rect x="390" width="5" fill="#f1c527"/><rect x="395" width="5" fill="#f0c027"/><rect x="400" width="5" fill="#f0bb27"/><rect x="405" width="5" fill="#f0b626"/><rect x="410" width="5" fill="#f0b125"/><rect x="415" width="5" fill="#efac25"/><rect x="420" width="5" fill="#efa724"/><rect x="425" width="5" fill="#efa323"/><rect x="430" width="5" fill="#ee9e22"/><rect x="435" width="5" fill="#ee9921"/><rect x="440" width="5" fill="#ee951f"/><rect x="445" width="5" fill="#ee911e"/><rect x="450" width="5" fill="#ed8d1d"/><rect x="455" width="5" fill="#ed891c"/><rect x="460" width="5" fill="#ed861b"/><rect x="465" width="5" fill="#ed831a"/><rect x="470" width="5" fill="#ec7f19"/><rect x="475" width="5" fill="#ec7c18"/><rect x="480" width="5" fill="#ec7a17"/></g>
<g transform="translate(0,365)"><rect x="90" width="5" fill="#268eb0"/><rect x="95" width="5" fill="#298eb2"/><rect x="100" width="5" fill="#2c8fb5"/><rect x="105" width="5" fill="#2f90b7"/><rect x="110" width="5" fill="#3190b7"/><rect x="115" width="5" fill="#3492b6"/><rect x="120" width="5" fill="#3793b4"/><rect x="125" width="5" fill="#3995b2"/><rect x="130" width="5" fill="#3d97af"/><rect x="135" width="5" fill="#4198ac"/><rect x="140" width="5" fill="#459aa9"/><rect x="145" width="5" fill="#4a9ca6"/><rect x="150" width="5" fill="#4f9ea3"/><rect x="155" width="5" fill="#54a0a1"/><rect x="160" width="5" fill="#5aa29d"/><rect x="165" width="5" fill="#60a49a"/><rect x="170" width="5" fill="#67a697"/><rect x="175" width="5" fill="#6ea894"/><rect x="180" width="5" fill="#74a992"/><rect x="185" width="5" fill="#7aab90"/><rect x="190" width="5" fill="#80ad8e"/><rect x="195" width="5" fill="#88af8e"/><rect x="200" width="5" fill="#91b191"/><rect x="205" width="5" fill="#9eb397"/><rect x="210" width="5" fill="#abb69e"/><rect x="215" width="5" fill="#b8bda7"/><rect x="220" width="5" fill="#c5c6b1"/><rect x="225" width="5" fill="#d3d0bb"/><rect x="230" width="5" fill="#dfd9c5"/><rect x="235" width="5" fill="#e7e0ca"/><rect x="240" width="5" fill="#ece4cb"/><rect x="245" width="5" fill="#efe8ce"/><rect x="250" width="5" fill="#f2ead5"/><rect x="255" width="5" fill="#f4edd7"/><rect x="260" width="5" fill="#f5eed3"/><rect x="265" width="5" fill="#f5efd3"/><rect x="270" width="5" fill="#f6f0d6"/><rect x="275" width="5" fill="#f6f0da"/><rect x="280" width="5" fill="#f6efd5"/><rect x="285" width="5" fill="#f5eec8"/><rect x="290" width="5" fill="#f5edbe"/><rect x="295" width="5" fill="#f5ebb7"/><rect x="300" width="5" fill="#f5e9b3"/><rect x="305" width="5" fill="#f5e8b1"/><rect x="310" width="5" fill="#f5e8b5"/><rect x="315" width="5" fill="#f5e7bd"/><rect x="320" width="5" fill="#f5e5ba"/><rect x="325" width="5" fill="#f5e4ad"/><rect x="330" width="5" fill="#f4e1a1"/><rect x="335" width="5" fill="#f4df97"/><rect x="340" width="5" fill="#f3dd87"/><rect x="345" width="5" fill="#f3db6f"/><rect x="350" width="5" fill="#f2da57"/><rect x="355" width="5" fill="#f2d842"/><rect x="360" width="5" fill="#f1d735"/><rect x="365" width="5" fill="#f1d531"/><rect x="370" width="5" fill="#f1d230"/><rect x="375" width="5" fill="#f1cf2f"/><rect x="380" width="5" fill="#f1cb2e"/><rect x="385" width="5" fill="#f1c72d"/><rect x="390" width="5" fill="#f0c22d"/><rect x="395" width="5" fill="#f0bd2c"/><rect x="400" width="5" fill="#f0b72b"/><rect x="405" width="5" fill="#f0b22a"/><rect x="410" width="5" fill="#efad29"/><rect x="415" width="5" fill="#efa828"/><rect x="420" width="5" fill="#efa327"/><rect x="425" width="5" fill="#ef9e26"/><rect x="430" width="5" fill="#ee9925"/><rect x="435" width="5" fill="#ee9523"/><rect x="440" width="5" fill="#ee9022"/><rect x="445" width="5" fill="#ed8c21"/><rect x="450" width="5" fill="#ed881f"/><rect x="455" width="5" fill="#ed851e"/><rect x="460" width="5" fill="#ed811d"/><rect x="465" width="5" fill="#ed7e1c"/><rect x="470" width="5" fill="#ec7b1b"/><rect x="475" width="5" fill="#ec781a"/><rect x="480" width="5" fill="#ec7519"/></g>
<g transform="translate(0,370)"><rect x="90" width="5" fill="#258db4"/><rect x="95" width="5" fill="#278db7"/><rect x="100" width="5" fill="#2a8eb9"/><rect x="105" width="5" fill="#2d8ebb"/><rect x="110" width="5" fill="#2f8fbc"/><rect x="115" width="5" fill="#3290bc"/><rect x="120" width="5" fill="#3592ba"/><rect x="125" width="5" fill="#3893b8"/><rect x="130" width="5" fill="#3c95b6"/><rect x="135" width="5" fill="#4097b4"/><rect x="140" width="5" fill="#4599b2"/><rect x="145" width="5" fill="#4a9bb0"/><rect x="150" width="5" fill="#4f9dad"/><rect x="155" width="5" fill="#559faa"/><rect x="160" width="5" fill="#5ca1a8"/><rect x="165" width="5" fill="#63a3a5"/><rect x="170" width="5" fill="#6aa5a2"/><rect x="175" width="5" fill="#72a79f"/><rect x="180" width="5" fill="#79a99d"/><rect x="185" width="5" fill="#7faa9c"/><rect x="190" width="5" fill="#86ac9b"/><rect x="195" width="5" fill="#8eae9b"/><rect x="200" width="5" fill="#98b09d"/><rect x="205" width="5" fill="#a4b2a3"/><rect x="210" width="5" fill="#b1b6ab"/><rect x="215" width="5" fill="#bfbdb4"/><rect x="220" width="5" fill="#ccc7bf"/><rect x="225" width="5" fill="#d9d2c9"/><rect x="230" width="5" fill="#e4dcd4"/><rect x="235" width="5" fill="#ece3da"/><rect x="240" width="5" fill="#f0e7db"/><rect x="245" width="5" fill="#f3eade"/><rect x="250" width="5" fill="#f5ede2"/><rect x="255" width="5" fill="#f6efe4"/><rect x="260" width="5" fill="#f7f1e3"/><rect x="265" width="5" fill="#f7f2e4"/><rect x="270" width="10" fill="#f7f2e5"/><rect x="280" width="5" fill="#f7f2e1"/><rect x="285" width="5" fill="#f7f1d9"/><rect x="290" width="5" fill="#f6efd1"/><rect x="295" width="5" fill="#f6edcc"/><rect x="300" width="5" fill="#f6ebc7"/><rect x="305" width="5" fill="#f5e9c5"/><rect x="310" width="5" fill="#f5e8c6"/><rect x="315" width="5" fill="#f5e7c8"/><rect x="320" width="5" fill="#f5e5c6"/><rect x="325" width="5" fill="#f5e3bd"/><rect x="330" width="5" fill="#f5e1b5"/><rect x="335" width="5" fill="#f4ddaf"/><rect x="340" width="5" fill="#f4db9e"/><rect x="345" width="5" fill="#f3d982"/><rect x="350" width="5" fill="#f2d766"/><rect x="355" width="5" fill="#f1d54a"/><rect x="360" width="5" fill="#f0d33b"/><rect x="365" width="5" fill="#f1d13a"/><rect x="370" width="5" fill="#f1ce39"/><rect x="375" width="5" fill="#f0cc37"/><rect x="380" width="5" fill="#f0c835"/><rect x="385" width="5" fill="#f0c334"/><rect x="390" width="5" fill="#f0bd33"/><rect x="395" width="5" fill="#f0b832"/><rect x="400" width="5" fill="#f0b330"/><rect x="405" width="5" fill="#f0ad2f"/><rect x="410" width="5" fill="#efa82e"/><rect x="415" width="5" fill="#efa32c"/><rect x="420" width="5" fill="#ef9e2b"/><rect x="425" width="5" fill="#ee9929"/><rect x="430" width="5" fill="#ee9428"/><rect x="435" width="5" fill="#ee9026"/><rect x="440" width="5" fill="#ee8b24"/><rect x="445" width="5" fill="#ed8723"/><rect x="450" width="5" fill="#ed8321"/><rect x="455" width="5" fill="#ed8020"/><rect x="460" width="5" fill="#ed7c1f"/><rect x="465" width="5" fill="#ed791d"/><rect x="470" width="5" fill="#ec761c"/><rect x="475" width="5" fill="#ec731b"/><rect x="480" width="5" fill="#ec711a"/></g>
<g transform="translate(0,375)"><rect x="90" width="5" fill="#238cb8"/><rect x="95" width="5" fill="#268cbb"/><rect x="100" width="5" fill="#288cbd"/><rect x="105" width="5" fill="#2a8dbf"/><rect x="110" width="5" fill="#2d8ec1"/><rect x="115" width="5" fill="#308fc1"/><rect x="120" width="5" fill="#3390c0"/><rect x="125" width="5" fill="#3792be"/><rect x="130" width="5" fill="#3b94bd"/><rect x="135" width="5" fill="#3f96bb"/><rect x="140" width="5" fill="#4498ba"/><rect x="145" width="5" fill="#4999b8"/><rect x="150" width="5" fill="#4f9cb6"/><rect x="155" width="5" fill="#569eb4"/><rect x="160" width="5" fill="#5da0b1"/><rect x="165" width="5" fill="#64a2af"/><rect x="170" width="5" fill="#6ca5ad"/><rect x="175" width="5" fill="#74a6ab"/><rect x="180" width="5" fill="#7ba8aa"/><rect x="185" width="5" fill="#82a9a9"/><rect x="190" width="5" fill="#8aaaa9"/><rect x="195" width="5" fill="#93aca9"/><rect x="200" width="5" fill="#9daeaa"/><rect x="205" width="5" fill="#a9b1af"/><rect x="210" width="5" fill="#b6b7b8"/><rect x="215" width="5" fill="#c3bec1"/><rect x="220" width="5" fill="#d0c8ca"/><rect x="225" width="5" fill="#dcd2d3"/><rect x="230" width="5" fill="#e7dcdb"/><rect x="235" width="5" fill="#efe3e1"/><rect x="240" width="5" fill="#f2e7e3"/><rect x="245" width="5" fill="#f5eae5"/><rect x="250" width="5" fill="#f6ede8"/><rect x="255" width="5" fill="#f7efe9"/><rect x="260" width="5" fill="#f8f1ea"/><rect x="265" width="10" fill="#f8f1ec"/><rect x="275" width="5" fill="#f8f2eb"/><rect x="280" width="5" fill="#f8f2e7"/><rect x="285" width="5" fill="#f7f1e2"/><rect x="290" width="5" fill="#f7efdd"/><rect x="295" width="5" fill="#f6ecd9"/><rect x="300" width="5" fill="#f6ead5"/><rect x="305" width="5" fill="#f5e8d1"/><rect x="310" width="5" fill="#f5e7cf"/><rect x="315" width="5" fill="#f5e6cd"/><rect x="320" width="5" fill="#f5e4ca"/><rect x="325" width="5" fill="#f5e1c5"/><rect x="330" width="5" fill="#f5dfbf"/><rect x="335" width="5" fill="#f4dcb7"/><rect x="340" width="5" fill="#f4d9a8"/><rect x="345" width="5" fill="#f3d691"/><rect x="350" width="5" fill="#f2d478"/><rect x="355" width="5" fill="#f1d15e"/><rect x="360" width="5" fill="#f0cf4f"/><rect x="365" width="5" fill="#f1cc4a"/><rect x="370" width="5" fill="#f0c945"/><rect x="375" width="5" fill="#f0c640"/><rect x="380" width="5" fill="#f0c23c"/><rect x="385" width="5" fill="#f0bd3a"/><rect x="390" width="5" fill="#f0b739"/><rect x="395" width="5" fill="#f0b237"/><rect x="400" width="5" fill="#f0ad36"/><rect x="405" width="5" fill="#efa834"/><rect x="410" width="5" fill="#efa332"/><rect x="415" width="5" fill="#ef9d30"/><rect x="420" width="5" fill="#ee982e"/><rect x="425" width="5" fill="#ee932d"/><rect x="430" width="5" fill="#ee8f2b"/><rect x="435" width="5" fill="#ed8a29"/><rect x="440" width="5" fill="#ed8627"/><rect x="445" width="5" fill="#ed8225"/><rect x="450" width="5" fill="#ed7e24"/><rect x="455" width="5" fill="#ed7a22"/><rect x="460" width="5" fill="#ed7720"/><rect x="465" width="5" fill="#ec741f"/><rect x="470" width="5" fill="#ec711e"/><rect x="475" width="5" fill="#ec6f1d"/><rect x="480" width="5" fill="#ec6c1b"/></g>
<g transform="translate(0,380)"><rect x="90" width="5" fill="#228abb"/><rect x="95" width="5" fill="#248bbe"/><rect x="100" width="5" fill="#268bc1"/><rect x="105" width="5" fill="#288cc3"/><rect x="110" width="5" fill="#2a8cc5"/><rect x="115" width="5" fill="#2d8dc6"/><rect x="120" width="5" fill="#318fc4"/><rect x="125" width="5" fill="#3591c3"/><rect x="130" width="5" fill="#3992c2"/><rect x="135" width="5" fill="#3e94c1"/><rect x="140" width="5" fill="#4396c1"/><rect x="145" width="5" fill="#4898c0"/><rect x="150" width="5" fill="#4e9abf"/><rect x="155" width="5" fill="#559dbc"/><rect x="160" width="5" fill="#5c9fba"/><rect x="165" width="5" fill="#64a2b8"/><rect x="170" width="5" fill="#6da4b6"/><rect x="175" width="5" fill="#75a6b6"/><rect x="180" width="5" fill="#7da7b5"/><rect x="185" width="5" fill="#84a8b5"/><rect x="190" width="5" fill="#8ca8b6"/><rect x="195" width="5" fill="#95a9b7"/><rect x="200" width="5" fill="#a0abb8"/><rect x="205" width="5" fill="#acb0bc"/><rect x="210" width="5" fill="#b9b6c5"/><rect x="215" width="5" fill="#c5bdcd"/><rect x="220" width="5" fill="#d2c6d3"/><rect x="225" width="5" fill="#ddd1da"/><rect x="230" width="5" fill="#e9dbe0"/><rect x="235" width="5" fill="#f0e2e4"/><rect x="240" width="5" fill="#f3e4e6"/><rect x="245" width="5" fill="#f4e7e8"/><rect x="250" width="5" fill="#f6e9e9"/><rect x="255" width="5" fill="#f6ede9"/><rect x="260" width="5" fill="#f7eeea"/><rect x="265" width="5" fill="#f7edeb"/><rect x="270" width="5" fill="#f7edec"/><rect x="275" width="5" fill="#f7eeeb"/><rect x="280" width="5" fill="#f7f0e9"/><rect x="285" width="5" fill="#f7efe6"/><rect x="290" width="5" fill="#f6ece2"/><rect x="295" width="5" fill="#f6e9de"/><rect x="300" width="5" fill="#f5e6da"/><rect x="305" width="5" fill="#f5e4d5"/><rect x="310" width="5" fill="#f5e3d1"/><rect x="315" width="5" fill="#f5e2cd"/><rect x="320" width="5" fill="#f5e0ca"/><rect x="325" width="5" fill="#f4ddc5"/><rect x="330" width="5" fill="#f4dac0"/><rect x="335" width="5" fill="#f4d8bb"/><rect x="340" width="5" fill="#f4d5ae"/><rect x="345" width="5" fill="#f3d19c"/><rect x="350" width="5" fill="#f2ce8b"/><rect x="355" width="5" fill="#f2cc7e"/><rect x="360" width="5" fill="#f1c96f"/><rect x="365" width="5" fill="#f1c45e"/><rect x="370" width="5" fill="#f0c151"/><rect x="375" width="5" fill="#f0bd48"/><rect x="380" width="5" fill="#f0b943"/><rect x="385" width="5" fill="#f0b540"/><rect x="390" width="5" fill="#f0b03f"/><rect x="395" width="5" fill="#f0ab3d"/><rect x="400" width="5" fill="#efa63b"/><rect x="405" width="5" fill="#efa139"/><rect x="410" width="5" fill="#ee9c37"/><rect x="415" width="5" fill="#ee9734"/><rect x="420" width="5" fill="#ee9232"/><rect x="425" width="5" fill="#ee8d30"/><rect x="430" width="5" fill="#ed892e"/><rect x="435" width="5" fill="#ed842c"/><rect x="440" width="5" fill="#ed8029"/><rect x="445" width="5" fill="#ed7c27"/><rect x="450" width="5" fill="#ed7826"/><rect x="455" width="5" fill="#ed7524"/><rect x="460" width="5" fill="#ec7222"/><rect x="465" width="5" fill="#ec6f21"/><rect x="470" width="5" fill="#ec6c1f"/><rect x="475" width="5" fill="#ec691e"/><rect x="480" width="5" fill="#ec671d"/></g>
<g transform="translate(0,385)"><rect x="90" width="5" fill="#2089be"/><rect x="95" width="5" fill="#228ac0"/><rect x="100" width="5" fill="#248ac3"/><rect x="105" width="5" fill="#268bc5"/><rect x="110" width="5" fill="#288bc8"/><rect x="115" width="5" fill="#2b8cc8"/><rect x="120" width="5" fill="#2f8ec7"/><rect x="125" width="5" fill="#338fc6"/><rect x="130" width="5" fill="#3791c6"/><rect x="135" width="5" fill="#3c93c5"/><rect x="140" width="5" fill="#4195c5"/><rect x="145" width="5" fill="#4696c6"/><rect x="150" width="5" fill="#4c99c5"/><rect x="155" width="5" fill="#539bc2"/><rect x="160" width="5" fill="#5b9ec1"/><rect x="165" width="5" fill="#63a0bf"/><rect x="170" width="5" fill="#6ca3bf"/><rect x="175" width="5" fill="#75a5bf"/><rect x="180" width="5" fill="#7da7bf"/><rect x="185" width="5" fill="#84a7bf"/><rect x="190" width="5" fill="#8ba7c1"/><rect x="195" width="5" fill="#94a7c3"/><rect x="200" width="5" fill="#9fa9c5"/><rect x="205" width="5" fill="#abaec8"/><rect x="210" width="5" fill="#b8b3ce"/><rect x="215" width="5" fill="#c5bad4"/><rect x="220" width="5" fill="#d0c2d8"/><rect x="225" width="5" fill="#dcccdc"/><rect x="230" width="5" fill="#e7d5e1"/><rect x="235" width="5" fill="#eedbe4"/><rect x="240" width="5" fill="#f1dde5"/><rect x="245" width="5" fill="#f2dfe6"/><rect x="250" width="5" fill="#f4e2e6"/><rect x="255" width="5" fill="#f5e5e6"/><rect x="260" width="5" fill="#f5e6e7"/><rect x="265" width="5" fill="#f5e4e7"/><rect x="270" width="5" fill="#f6e3e7"/><rect x="275" width="5" fill="#f6e4e6"/><rect x="280" width="5" fill="#f6e6e5"/><rect x="285" width="5" fill="#f6e6e3"/><rect x="290" width="5" fill="#f5e3df"/><rect x="295" width="5" fill="#f4e1db"/><rect x="300" width="5" fill="#f4ded7"/><rect x="305" width="5" fill="#f4dcd2"/><rect x="310" width="5" fill="#f4dbcd"/><rect x="315" width="5" fill="#f4dac9"/><rect x="320" width="5" fill="#f3d8c4"/><rect x="325" width="5" fill="#f3d4bf"/><rect x="330" width="5" fill="#f3d1ba"/><rect x="335" width="5" fill="#f3cfb5"/><rect x="340" width="5" fill="#f3ccab"/><rect x="345" width="5" fill="#f2c79e"/><rect x="350" width="5" fill="#f1c494"/><rect x="355" width="5" fill="#f2c292"/><rect x="360" width="5" fill="#f1bf84"/><rect x="365" width="5" fill="#f0b96b"/><rect x="370" width="5" fill="#f0b55b"/><rect x="375" width="5" fill="#f0b24e"/><rect x="380" width="5" fill="#f0af48"/><rect x="385" width="5" fill="#efaa46"/><rect x="390" width="5" fill="#efa745"/><rect x="395" width="5" fill="#efa343"/><rect x="400" width="5" fill="#ef9f41"/><rect x="405" width="5" fill="#ee9a3e"/><rect x="410" width="5" fill="#ee953b"/><rect x="415" width="5" fill="#ee9038"/><rect x="420" width="5" fill="#ed8b36"/><rect x="425" width="5" fill="#ed8633"/><rect x="430" width="5" fill="#ed8231"/><rect x="435" width="5" fill="#ed7e2e"/><rect x="440" width="5" fill="#ed792c"/><rect x="445" width="5" fill="#ec762a"/><rect x="450" width="5" fill="#ec7228"/><rect x="455" width="5" fill="#ec6f26"/><rect x="460" width="5" fill="#ec6c24"/><rect x="465" width="5" fill="#ec6922"/><rect x="470" width="5" fill="#ec6621"/><rect x="475" width="5" fill="#ec641f"/><rect x="480" width="5" fill="#ec621e"/></g>
<g transform="translate(0,390)"><rect x="90" width="5" fill="#1e88bf"/><rect x="95" width="5" fill="#2089c2"/><rect x="100" width="5" fill="#2289c4"/><rect x="105" width="5" fill="#248ac6"/><rect x="110" width="5" fill="#268ac8"/><rect x="115" width="5" fill="#298bc9"/><rect x="120" width="5" fill="#2c8dc9"/><rect x="125" width="5" fill="#308ec9"/><rect x="130" width="5" fill="#3590c8"/><rect x="135" width="5" fill="#3991c8"/><rect x="140" width="5" fill="#3e93c8"/><rect x="145" width="5" fill="#4495c9"/><rect x="150" width="5" fill="#4a97c8"/><rect x="155" width="5" fill="#519ac7"/><rect x="160" width="5" fill="#589cc6"/><rect x="165" width="5" fill="#609fc5"/><rect x="170" width="5" fill="#69a1c5"/><rect x="175" width="5" fill="#73a4c6"/><rect x="180" width="5" fill="#7ba5c7"/><rect x="185" width="5" fill="#81a6c7"/><rect x="190" width="5" fill="#89a6c8"/><rect x="195" width="5" fill="#92a7ca"/><rect x="200" width="5" fill="#9ca8cc"/><rect x="205" width="5" fill="#a8abce"/><rect x="210" width="5" fill="#b5afd2"/><rect x="215" width="5" fill="#c1b5d5"/><rect x="220" width="5" fill="#cdbbd8"/><rect x="225" width="5" fill="#d8c3dc"/><rect x="230" width="5" fill="#e1cadf"/><rect x="235" width="5" fill="#e8cfe1"/><rect x="240" width="5" fill="#ecd1e1"/><rect x="245" width="5" fill="#efd3e1"/><rect x="250" width="5" fill="#f0d5e1"/><rect x="255" width="5" fill="#f2d8e1"/><rect x="260" width="5" fill="#f2d8e0"/><rect x="265" width="5" fill="#f3d6df"/><rect x="270" width="5" fill="#f3d4de"/><rect x="275" width="5" fill="#f3d4dd"/><rect x="280" width="5" fill="#f3d5dc"/><rect x="285" width="5" fill="#f3d5da"/><rect x="290" width="5" fill="#f2d4d7"/><rect x="295" width="5" fill="#f2d4d4"/><rect x="300" width="5" fill="#f2d2d0"/><rect x="305" width="5" fill="#f2cecb"/><rect x="310" width="5" fill="#f2cdc5"/><rect x="315" width="5" fill="#f2cec1"/><rect x="320" width="5" fill="#f2ccbb"/><rect x="325" width="5" fill="#f1c6b5"/><rect x="330" width="5" fill="#f1c3ae"/><rect x="335" width="5" fill="#f1c1a7"/><rect x="340" width="5" fill="#f1bd9f"/><rect x="345" width="5" fill="#f0b896"/><rect x="350" width="5" fill="#f0b48e"/><rect x="355" width="5" fill="#f0b187"/><rect x="360" width="5" fill="#efad7c"/><rect x="365" width="5" fill="#efa86c"/><rect x="370" width="5" fill="#efa55f"/><rect x="375" width="5" fill="#eea255"/><rect x="380" width="5" fill="#eea04e"/><rect x="385" width="5" fill="#ee9d4c"/><rect x="390" width="5" fill="#ee9b4a"/><rect x="395" width="5" fill="#ee9948"/><rect x="400" width="5" fill="#ee9645"/><rect x="405" width="5" fill="#ed9242"/><rect x="410" width="5" fill="#ed8d3f"/><rect x="415" width="5" fill="#ed883c"/><rect x="420" width="5" fill="#ed8439"/><rect x="425" width="5" fill="#ec7f36"/><rect x="430" width="5" fill="#ec7b33"/><rect x="435" width="5" fill="#ec7631"/><rect x="440" width="5" fill="#ec732e"/><rect x="445" width="5" fill="#ec6f2c"/><rect x="450" width="5" fill="#ec6c29"/><rect x="455" width="5" fill="#ec6827"/><rect x="460" width="5" fill="#ec6625"/><rect x="465" width="5" fill="#ec6324"/><rect x="470" width="5" fill="#ec6122"/><rect x="475" width="5" fill="#ec5f21"/><rect x="480" width="5" fill="#ec5d1f"/></g>
<g transform="translate(0,395)"><rect x="90" width="5" fill="#1d87c1"/><rect x="95" width="5" fill="#1e88c3"/><rect x="100" width="5" fill="#2088c5"/><rect x="105" width="5" fill="#2289c7"/><rect x="110" width="5" fill="#2489c8"/><rect x="115" width="5" fill="#278ac9"/><rect x="120" width="5" fill="#2a8cc9"/><rect x="125" width="5" fill="#2e8dc9"/><rect x="130" width="5" fill="#328eca"/><rect x="135" width="5" fill="#3690ca"/><rect x="140" width="5" fill="#3c92ca"/><rect x="145" width="5" fill="#4194ca"/><rect x="150" width="5" fill="#4796ca"/><rect x="155" width="5" fill="#4d98ca"/><rect x="160" width="5" fill="#549bc9"/><rect x="165" width="5" fill="#5c9dc9"/><rect x="170" width="5" fill="#649fca"/><rect x="175" width="5" fill="#6da2cb"/><rect x="180" width="5" fill="#75a3cb"/><rect x="185" width="5" fill="#7ca4cc"/><rect x="190" width="5" fill="#84a4cd"/><rect x="195" width="5" fill="#8da5cf"/><rect x="200" width="5" fill="#98a6d1"/><rect x="205" width="5" fill="#a4a7d1"/><rect x="210" width="5" fill="#b0aad2"/><rect x="215" width="5" fill="#bdaed4"/><rect x="220" width="5" fill="#c8b2d6"/><rect x="225" width="5" fill="#d2b7d8"/><rect x="230" width="5" fill="#dbbdda"/><rect x="235" width="5" fill="#e2c0db"/><rect x="240" width="5" fill="#e7c1da"/><rect x="245" width="5" fill="#eac2d9"/><rect x="250" width="5" fill="#ecc5d9"/><rect x="255" width="5" fill="#eec8d9"/><rect x="260" width="5" fill="#efc7d8"/><rect x="265" width="5" fill="#efc3d5"/><rect x="270" width="5" fill="#f0c0d3"/><rect x="275" width="5" fill="#f0bfd1"/><rect x="280" width="5" fill="#f0c0d0"/><rect x="285" width="5" fill="#f0bfce"/><rect x="290" width="5" fill="#efbdcb"/><rect x="295" width="5" fill="#efbec9"/><rect x="300" width="5" fill="#efbcc5"/><rect x="305" width="5" fill="#efb8bf"/><rect x="310" width="5" fill="#efb7ba"/><rect x="315" width="5" fill="#f0bab5"/><rect x="320" width="5" fill="#efb8af"/><rect x="325" width="5" fill="#efb1a8"/><rect x="330" width="5" fill="#efada0"/><rect x="335" width="5" fill="#eead97"/><rect x="340" width="5" fill="#eeaa8f"/><rect x="345" width="5" fill="#eea389"/><rect x="350" width="5" fill="#ee9e81"/><rect x="355" width="5" fill="#ed9b76"/><rect x="360" width="5" fill="#ed986e"/><rect x="365" width="5" fill="#ed9467"/><rect x="370" width="5" fill="#ed915f"/><rect x="375" width="5" fill="#ed8f59"/><rect x="380" width="5" fill="#ed8e53"/><rect x="385" width="5" fill="#ed8e50"/><rect x="390" width="5" fill="#ed8e4e"/><rect x="395" width="5" fill="#ed8e4b"/><rect x="400" width="5" fill="#ed8c48"/><rect x="405" width="5" fill="#ec8845"/><rect x="410" width="5" fill="#ec8442"/><rect x="415" width="5" fill="#ec803f"/><rect x="420" width="5" fill="#ec7b3c"/><rect x="425" width="5" fill="#ec7739"/><rect x="430" width="5" fill="#ec7336"/><rect x="435" width="5" fill="#ec6f33"/><rect x="440" width="5" fill="#ec6b30"/><rect x="445" width="5" fill="#ec682e"/><rect x="450" width="5" fill="#ec652b"/><rect x="455" width="5" fill="#ec6229"/><rect x="460" width="5" fill="#ec5f27"/><rect x="465" width="5" fill="#ec5d25"/><rect x="470" width="5" fill="#ec5b23"/><rect x="475" width="5" fill="#eb5922"/><rect x="480" width="5" fill="#eb5720"/></g>
<g transform="translate(0,400)"><rect x="90" width="5" fill="#1b86c1"/><rect x="95" width="5" fill="#1d87c3"/><rect x="100" width="5" fill="#1e87c5"/><rect x="105" width="5" fill="#2088c7"/><rect x="110" width="5" fill="#2288c8"/><rect x="115" width="5" fill="#2589c9"/><rect x="120" width="5" fill="#278ac9"/><rect x="125" width="5" fill="#2b8cca"/><rect x="130" width="5" fill="#2f8dca"/><rect x="135" width="5" fill="#338eca"/><rect x="140" width="5" fill="#3890cb"/><rect x="145" width="5" fill="#3e92cb"/><rect x="150" width="5" fill="#4394cc"/><rect x="155" width="5" fill="#4996cc"/><rect x="160" width="5" fill="#4f98cc"/><rect x="165" width="5" fill="#569bcc"/><rect x="170" width="5" fill="#5e9dcd"/><rect x="175" width="5" fill="#669fce"/><rect x="180" width="5" fill="#6ea0ce"/><rect x="185" width="5" fill="#76a1cf"/><rect x="190" width="5" fill="#7fa1d0"/><rect x="195" width="5" fill="#88a2d1"/><rect x="200" width="5" fill="#93a2d2"/><rect x="205" width="5" fill="#9fa2d1"/><rect x="210" width="5" fill="#aba3d1"/><rect x="215" width="5" fill="#b8a4d1"/><rect x="220" width="5" fill="#c3a6d2"/><rect x="225" width="5" fill="#cda9d2"/><rect x="230" width="5" fill="#d6acd3"/><rect x="235" width="5" fill="#ddaed2"/><rect x="240" width="5" fill="#e2aed1"/><rect x="245" width="5" fill="#e6aecf"/><rect x="250" width="5" fill="#e8afce"/><rect x="255" width="5" fill="#eab1cd"/><rect x="260" width="5" fill="#ebafcb"/><rect x="265" width="5" fill="#ecaac8"/><rect x="270" width="5" fill="#eca6c5"/><rect x="275" width="5" fill="#eca4c3"/><rect x="280" width="5" fill="#eca3c0"/><rect x="285" width="5" fill="#eca1be"/><rect x="290" width="5" fill="#ec9fbc"/><rect x="295" width="5" fill="#ec9db9"/><rect x="300" width="5" fill="#ec9cb6"/><rect x="305" width="5" fill="#ec9ab1"/><rect x="310" width="5" fill="#ec99ac"/><rect x="315" width="5" fill="#ed99a6"/><rect x="320" width="5" fill="#ed97a0"/><rect x="325" width="5" fill="#ec9399"/><rect x="330" width="5" fill="#ec9092"/><rect x="335" width="5" fill="#ec8f8a"/><rect x="340" width="5" fill="#ec8c83"/><rect x="345" width="5" fill="#ec887d"/><rect x="350" width="5" fill="#ec8575"/><rect x="355" width="5" fill="#eb826c"/><rect x="360" width="5" fill="#eb8065"/><rect x="365" width="5" fill="#eb7e62"/><rect x="370" width="5" fill="#eb7d5f"/><rect x="375" width="5" fill="#eb7b5a"/><rect x="380" width="5" fill="#eb7c57"/><rect x="385" width="5" fill="#eb7e53"/><rect x="390" width="5" fill="#ec7f50"/><rect x="395" width="5" fill="#ec814e"/><rect x="400" width="5" fill="#ec804b"/><rect x="405" width="5" fill="#eb7d48"/><rect x="410" width="5" fill="#eb7a45"/><rect x="415" width="5" fill="#eb7642"/><rect x="420" width="5" fill="#eb723f"/><rect x="425" width="5" fill="#eb6e3b"/><rect x="430" width="5" fill="#eb6b38"/><rect x="435" width="5" fill="#eb6735"/><rect x="440" width="5" fill="#eb6432"/><rect x="445" width="5" fill="#eb602f"/><rect x="450" width="5" fill="#eb5e2d"/><rect x="455" width="5" fill="#eb5b2a"/><rect x="460" width="5" fill="#eb5928"/><rect x="465" width="5" fill="#eb5626"/><rect x="470" width="5" fill="#eb5524"/><rect x="475" width="5" fill="#eb5323"/><rect x="480" width="5" fill="#eb5221"/></g>
<g transform="translate(0,405)"><rect x="90" width="5" fill="#1a85c2"/><rect x="95" width="5" fill="#1b86c4"/><rect x="100" width="5" fill="#1d86c5"/><rect x="105" width="5" fill="#1e87c7"/><rect x="110" width="5" fill="#2087c8"/><rect x="115" width="5" fill="#2288c8"/><rect x="120" width="5" fill="#2589c9"/><rect x="125" width="5" fill="#288ac9"/><rect x="130" width="5" fill="#2b8bc9"/><rect x="135" width="5" fill="#2f8dca"/><rect x="140" width="5" fill="#348ecb"/><rect x="145" width="5" fill="#3990cc"/><rect x="150" width="5" fill="#3f92cc"/><rect x="155" width="5" fill="#4394cc"/><rect x="160" width="5" fill="#4995cd"/><rect x="165" width="5" fill="#5098cd"/><rect x="170" width="5" fill="#579ace"/><rect x="175" width="5" fill="#5f9ccf"/><rect x="180" width="5" fill="#679ed0"/><rect x="185" width="5" fill="#6f9ed0"/><rect x="190" width="5" fill="#789ed0"/><rect x="195" width="5" fill="#829dd0"/><rect x="200" width="5" fill="#8d9dd0"/><rect x="205" width="5" fill="#9a9ccf"/><rect x="210" width="5" fill="#a69bce"/><rect x="215" width="5" fill="#b29acd"/><rect x="220" width="5" fill="#bd9acd"/><rect x="225" width="5" fill="#c799cb"/><rect x="230" width="5" fill="#d098c9"/><rect x="235" width="5" fill="#d798c7"/><rect x="240" width="5" fill="#dd98c6"/><rect x="245" width="5" fill="#e198c4"/><rect x="250" width="5" fill="#e497c2"/><rect x="255" width="5" fill="#e695bf"/><rect x="260" width="5" fill="#e792bc"/><rect x="265" width="5" fill="#e88eba"/><rect x="270" width="5" fill="#e88ab6"/><rect x="275" width="5" fill="#e986b3"/><rect x="280" width="5" fill="#e981af"/><rect x="285" width="5" fill="#e97eac"/><rect x="290" width="5" fill="#e97cab"/><rect x="295" width="5" fill="#e97aa9"/><rect x="300" width="5" fill="#e979a6"/><rect x="305" width="5" fill="#e979a3"/><rect x="310" width="5" fill="#ea779d"/><rect x="315" width="5" fill="#e97497"/><rect x="320" width="5" fill="#ea7291"/><rect x="325" width="5" fill="#ea728c"/><rect x="330" width="5" fill="#ea7086"/><rect x="335" width="5" fill="#ea6d7e"/><rect x="340" width="5" fill="#ea6b78"/><rect x="345" width="5" fill="#ea6a74"/><rect x="350" width="5" fill="#ea696e"/><rect x="355" width="5" fill="#ea6868"/><rect x="360" width="5" fill="#ea6863"/><rect x="365" width="5" fill="#ea6861"/><rect x="370" width="5" fill="#ea685e"/><rect x="375" width="5" fill="#ea695b"/><rect x="380" width="5" fill="#ea6b58"/><rect x="385" width="5" fill="#ea6d55"/><rect x="390" width="5" fill="#ea6f52"/><rect x="395" width="5" fill="#ea7150"/><rect x="400" width="5" fill="#ea724d"/><rect x="405" width="5" fill="#ea714b"/><rect x="410" width="5" fill="#ea6f48"/><rect x="415" width="5" fill="#ea6c45"/><rect x="420" width="5" fill="#ea6941"/><rect x="425" width="5" fill="#ea653e"/><rect x="430" width="5" fill="#eb623a"/><rect x="435" width="5" fill="#eb5f37"/><rect x="440" width="5" fill="#eb5c34"/><rect x="445" width="5" fill="#eb5931"/><rect x="450" width="5" fill="#eb562e"/><rect x="455" width="5" fill="#eb542b"/><rect x="460" width="5" fill="#eb5229"/><rect x="465" width="5" fill="#eb5027"/><rect x="470" width="5" fill="#eb4e25"/><rect x="475" width="5" fill="#eb4d24"/><rect x="480" width="5" fill="#eb4c22"/></g>
<g transform="translate(0,410)"><rect x="90" width="5" fill="#1884c2"/><rect x="95" width="5" fill="#1a85c4"/><rect x="100" width="5" fill="#1b85c5"/><rect x="105" width="5" fill="#1d86c6"/><rect x="110" width="5" fill="#1e86c7"/><rect x="115" width="5" fill="#2087c7"/><rect x="120" width="5" fill="#2288c8"/><rect x="125" width="5" fill="#2588c8"/><rect x="130" width="5" fill="#2889c9"/><rect x="135" width="5" fill="#2b8ac9"/><rect x="140" width="5" fill="#2e8cca"/><rect x="145" width="5" fill="#338dcb"/><rect x="150" width="5" fill="#378fcc"/><rect x="155" width="5" fill="#3c90cc"/><rect x="160" width="5" fill="#4292cc"/><rect x="165" width="5" fill="#4994cd"/><rect x="170" width="5" fill="#5096ce"/><rect x="175" width="5" fill="#5898cf"/><rect x="180" width="5" fill="#609acf"/><rect x="185" width="5" fill="#699acf"/><rect x="190" width="5" fill="#7299cf"/><rect x="195" width="5" fill="#7b99ce"/><rect x="200" width="5" fill="#8797cd"/><rect x="205" width="5" fill="#9495cc"/><rect x="210" width="5" fill="#a192cb"/><rect x="215" width="5" fill="#ad90c9"/><rect x="220" width="5" fill="#b88fc8"/><rect x="225" width="5" fill="#c18bc4"/><rect x="230" width="5" fill="#ca85c0"/><rect x="235" width="5" fill="#d283bd"/><rect x="240" width="5" fill="#d885bb"/><rect x="245" width="5" fill="#dd84b9"/><rect x="250" width="5" fill="#e080b6"/><rect x="255" width="5" fill="#e179b1"/><rect x="260" width="5" fill="#e375ae"/><rect x="265" width="5" fill="#e474ac"/><rect x="270" width="5" fill="#e570a8"/><rect x="275" width="5" fill="#e569a3"/><rect x="280" width="5" fill="#e65f9d"/><rect x="285" width="5" fill="#e65b9b"/><rect x="290" width="5" fill="#e65c9b"/><rect x="295" width="5" fill="#e65a9a"/><rect x="300" width="5" fill="#e65a99"/><rect x="305" width="5" fill="#e75a96"/><rect x="310" width="5" fill="#e75891"/><rect x="315" width="5" fill="#e7548a"/><rect x="320" width="5" fill="#e75285"/><rect x="325" width="5" fill="#e85281"/><rect x="330" width="5" fill="#e8517c"/><rect x="335" width="5" fill="#e84e75"/><rect x="340" width="5" fill="#e84d70"/><rect x="345" width="5" fill="#e84e6d"/><rect x="350" width="5" fill="#e84f69"/><rect x="355" width="5" fill="#e84e65"/><rect x="360" width="5" fill="#e84f62"/><rect x="365" width="5" fill="#e85260"/><rect x="370" width="5" fill="#e8545e"/><rect x="375" width="5" fill="#e8575c"/><rect x="380" width="5" fill="#e95a5a"/><rect x="385" width="5" fill="#e95c57"/><rect x="390" width="5" fill="#e95f54"/><rect x="395" width="5" fill="#e96151"/><rect x="400" width="5" fill="#e9624e"/><rect x="405" width="5" fill="#e9634c"/><rect x="410" width="5" fill="#e9634a"/><rect x="415" width="5" fill="#e96247"/><rect x="420" width="5" fill="#ea5e43"/><rect x="425" width="5" fill="#ea5b3f"/><rect x="430" width="5" fill="#ea583c"/><rect x="435" width="5" fill="#ea5638"/><rect x="440" width="5" fill="#ea5335"/><rect x="445" width="5" fill="#ea5132"/><rect x="450" width="5" fill="#ea4f2f"/><rect x="455" width="5" fill="#ea4d2c"/><rect x="460" width="5" fill="#eb4b2a"/><rect x="465" width="5" fill="#eb4928"/><rect x="470" width="5" fill="#eb4826"/><rect x="475" width="5" fill="#eb4725"/><rect x="480" width="5" fill="#eb4623"/></g>
<g transform="translate(0,415)"><rect x="90" width="5" fill="#1783c2"/><rect x="95" width="5" fill="#1883c3"/><rect x="100" width="5" fill="#1a84c5"/><rect x="105" width="5" fill="#1b84c6"/><rect x="110" width="5" fill="#1d85c6"/><rect x="115" width="5" fill="#1e86c7"/><rect x="120" width="5" fill="#2086c7"/><rect x="125" width="5" fill="#2287c7"/><rect x="130" width="5" fill="#2487c7"/><rect x="135" width="5" fill="#2688c8"/><rect x="140" width="5" fill="#2889c9"/><rect x="145" width="5" fill="#2a89c9"/><rect x="150" width="5" fill="#2e8bca"/><rect x="155" width="5" fill="#348ccb"/><rect x="160" width="5" fill="#3b8ecc"/><rect x="165" width="5" fill="#4290cc"/><rect x="170" width="5" fill="#4992cd"/><rect x="175" width="5" fill="#5193cd"/><rect x="180" width="5" fill="#5994ce"/><rect x="185" width="5" fill="#6295cd"/><rect x="190" width="5" fill="#6b95cd"/><rect x="195" width="5" fill="#7594cc"/><rect x="200" width="5" fill="#8192cb"/><rect x="205" width="5" fill="#8e8fc9"/><rect x="210" width="5" fill="#9b8bc8"/><rect x="215" width="5" fill="#a789c6"/><rect x="220" width="5" fill="#b186c4"/><rect x="225" width="5" fill="#bb81c0"/><rect x="230" width="5" fill="#c479ba"/><rect x="235" width="5" fill="#cd75b6"/><rect x="240" width="5" fill="#d376b3"/><rect x="245" width="5" fill="#d974b0"/><rect x="250" width="5" fill="#dc6fac"/><rect x="255" width="5" fill="#de66a7"/><rect x="260" width="5" fill="#e061a4"/><rect x="265" width="5" fill="#e15fa1"/><rect x="270" width="5" fill="#e25b9d"/><rect x="275" width="5" fill="#e35398"/><rect x="280" width="5" fill="#e34892"/><rect x="285" width="5" fill="#e4438f"/><rect x="290" width="5" fill="#e44390"/><rect x="295" width="5" fill="#e4418f"/><rect x="300" width="5" fill="#e5408e"/><rect x="305" width="5" fill="#e5408b"/><rect x="310" width="5" fill="#e63e87"/><rect x="315" width="5" fill="#e63a82"/><rect x="320" width="5" fill="#e6387e"/><rect x="325" width="5" fill="#e6397a"/><rect x="330" width="5" fill="#e63876"/><rect x="335" width="5" fill="#e63570"/><rect x="340" width="5" fill="#e7346c"/><rect x="345" width="5" fill="#e73769"/><rect x="350" width="5" fill="#e73766"/><rect x="355" width="5" fill="#e73762"/><rect x="360" width="5" fill="#e73960"/><rect x="365" width="5" fill="#e73e5f"/><rect x="370" width="5" fill="#e7425e"/><rect x="375" width="5" fill="#e8465d"/><rect x="380" width="5" fill="#e8495b"/><rect x="385" width="5" fill="#e84c58"/><rect x="390" width="5" fill="#e84e55"/><rect x="395" width="5" fill="#e95152"/><rect x="400" width="5" fill="#e9534f"/><rect x="405" width="5" fill="#e9544d"/><rect x="410" width="5" fill="#e9554b"/><rect x="415" width="5" fill="#e95548"/><rect x="420" width="5" fill="#e95344"/><rect x="425" width="5" fill="#e95140"/><rect x="430" width="5" fill="#e94f3d"/><rect x="435" width="5" fill="#ea4d39"/><rect x="440" width="5" fill="#ea4b36"/><rect x="445" width="5" fill="#ea4933"/><rect x="450" width="5" fill="#ea4730"/><rect x="455" width="5" fill="#ea452d"/><rect x="460" width="5" fill="#ea442b"/><rect x="465" width="5" fill="#ea4329"/><rect x="470" width="5" fill="#ea4227"/><rect x="475" width="5" fill="#ea4125"/><rect x="480" width="5" fill="#ea4024"/></g>
<g transform="translate(0,420)"><rect x="90" width="5" fill="#1682c2"/><rect x="95" width="5" fill="#1782c3"/><rect x="100" width="5" fill="#1883c4"/><rect x="105" width="5" fill="#1a83c5"/><rect x="110" width="5" fill="#1b84c6"/><rect x="115" width="5" fill="#1d84c6"/><rect x="120" width="5" fill="#1e85c6"/><rect x="125" width="5" fill="#2085c6"/><rect x="130" width="5" fill="#2185c6"/><rect x="135" width="5" fill="#2286c7"/><rect x="140" width="10" fill="#2286c8"/><rect x="150" width="5" fill="#2587c9"/><rect x="155" width="5" fill="#2d89c9"/><rect x="160" width="5" fill="#348aca"/><rect x="165" width="5" fill="#3b8ccb"/><rect x="170" width="5" fill="#428dcb"/><rect x="175" width="5" fill="#4a8ecb"/><rect x="180" width="5" fill="#538fcc"/><rect x="185" width="5" fill="#5c90cb"/><rect x="190" width="5" fill="#658fcb"/><rect x="195" width="5" fill="#6f8fca"/><rect x="200" width="5" fill="#7b8dc9"/><rect x="205" width="5" fill="#878ac7"/><rect x="210" width="5" fill="#9486c5"/><rect x="215" width="5" fill="#9f83c3"/><rect x="220" width="5" fill="#aa81c1"/><rect x="225" width="5" fill="#b47bbd"/><rect x="230" width="5" fill="#be74b7"/><rect x="235" width="5" fill="#c66fb3"/><rect x="240" width="5" fill="#ce6caf"/><rect x="245" width="5" fill="#d569aa"/><rect x="250" width="5" fill="#d963a6"/><rect x="255" width="5" fill="#db5ca2"/><rect x="260" width="5" fill="#dd569e"/><rect x="265" width="5" fill="#df519b"/><rect x="270" width="5" fill="#e04c96"/><rect x="275" width="5" fill="#e14591"/><rect x="280" width="5" fill="#e23c8d"/><rect x="285" width="5" fill="#e2378b"/><rect x="290" width="5" fill="#e33389"/><rect x="295" width="5" fill="#e43088"/><rect x="300" width="5" fill="#e42f86"/><rect x="305" width="5" fill="#e42e84"/><rect x="310" width="5" fill="#e52c81"/><rect x="315" width="5" fill="#e5287d"/><rect x="320" width="5" fill="#e52679"/><rect x="325" width="5" fill="#e52776"/><rect x="330" width="5" fill="#e62673"/><rect x="335" width="5" fill="#e6236e"/><rect x="340" width="5" fill="#e6236b"/><rect x="345" width="5" fill="#e62669"/><rect x="350" width="5" fill="#e62666"/><rect x="355" width="5" fill="#e62562"/><rect x="360" width="5" fill="#e62860"/><rect x="365" width="5" fill="#e62d60"/><rect x="370" width="5" fill="#e73260"/><rect x="375" width="5" fill="#e7365e"/><rect x="380" width="5" fill="#e7395c"/><rect x="385" width="5" fill="#e73c58"/><rect x="390" width="5" fill="#e83f55"/><rect x="395" width="5" fill="#e84152"/><rect x="400" width="5" fill="#e8444f"/><rect x="405" width="5" fill="#e8464d"/><rect x="410" width="5" fill="#e8474b"/><rect x="415" width="5" fill="#e84748"/><rect x="420" width="5" fill="#e94644"/><rect x="425" width="5" fill="#e94641"/><rect x="430" width="5" fill="#e9453d"/><rect x="435" width="5" fill="#e9443a"/><rect x="440" width="5" fill="#e94337"/><rect x="445" width="5" fill="#e94134"/><rect x="450" width="5" fill="#ea4031"/><rect x="455" width="5" fill="#ea3e2e"/><rect x="460" width="5" fill="#ea3d2c"/><rect x="465" width="5" fill="#ea3c29"/><rect x="470" width="5" fill="#ea3b28"/><rect x="475" width="5" fill="#ea3b26"/><rect x="480" width="5" fill="#ea3b25"/></g>
<g transform="translate(0,425)"><rect x="90" width="5" fill="#1481c2"/><rect x="95" width="5" fill="#1681c3"/><rect x="100" width="5" fill="#1782c4"/><rect x="105" width="5" fill="#1882c5"/><rect x="110" width="5" fill="#1a83c5"/><rect x="115" width="5" fill="#1b83c6"/><rect x="120" width="5" fill="#1c83c6"/><rect x="125" width="5" fill="#1d84c6"/><rect x="130" width="5" fill="#1e84c6"/><rect x="135" width="5" fill="#1e84c7"/><rect x="140" width="10" fill="#1f84c7"/><rect x="150" width="5" fill="#2284c8"/><rect x="155" width="5" fill="#2785c8"/><rect x="160" width="5" fill="#2d87c9"/><rect x="165" width="5" fill="#3488c9"/><rect x="170" width="5" fill="#3b89c9"/><rect x="175" width="5" fill="#438ac9"/><rect x="180" width="5" fill="#4c8ac9"/><rect x="185" width="5" fill="#558bc9"/><rect x="190" width="5" fill="#5f8bc9"/><rect x="195" width="5" fill="#6a8ac8"/><rect x="200" width="5" fill="#7588c6"/><rect x="205" width="5" fill="#8185c5"/><rect x="210" width="5" fill="#8d82c3"/><rect x="215" width="5" fill="#997ec1"/><rect x="220" width="5" fill="#a37abe"/><rect x="225" width="5" fill="#ae75ba"/><rect x="230" width="5" fill="#b76fb6"/><rect x="235" width="5" fill="#c069b1"/><rect x="240" width="5" fill="#c865ad"/><rect x="245" width="5" fill="#cf60a8"/><rect x="250" width="5" fill="#d45aa3"/><rect x="255" width="5" fill="#d8549f"/><rect x="260" width="5" fill="#db4e9b"/><rect x="265" width="5" fill="#dd4897"/><rect x="270" width="5" fill="#de4192"/><rect x="275" width="5" fill="#df3b8e"/><rect x="280" width="5" fill="#e1348a"/><rect x="285" width="5" fill="#e22e88"/><rect x="290" width="5" fill="#e32a86"/><rect x="295" width="5" fill="#e32784"/><rect x="300" width="5" fill="#e42482"/><rect x="305" width="5" fill="#e42380"/><rect x="310" width="5" fill="#e4217e"/><rect x="315" width="5" fill="#e51e7b"/><rect x="320" width="5" fill="#e51d78"/><rect x="325" width="5" fill="#e51c75"/><rect x="330" width="5" fill="#e51b72"/><rect x="335" width="5" fill="#e51a6f"/><rect x="340" width="5" fill="#e51a6d"/><rect x="345" width="5" fill="#e51b6b"/><rect x="350" width="5" fill="#e51c6a"/><rect x="355" width="5" fill="#e51c68"/><rect x="360" width="5" fill="#e51e66"/><rect x="365" width="5" fill="#e62264"/><rect x="370" width="5" fill="#e62562"/><rect x="375" width="5" fill="#e62860"/><rect x="380" width="5" fill="#e72b5d"/><rect x="385" width="5" fill="#e72e59"/><rect x="390" width="5" fill="#e73156"/><rect x="395" width="5" fill="#e73352"/><rect x="400" width="5" fill="#e8354f"/><rect x="405" width="5" fill="#e8384d"/><rect x="410" width="5" fill="#e83a4a"/><rect x="415" width="5" fill="#e83a48"/><rect x="420" width="5" fill="#e83b44"/><rect x="425" width="5" fill="#e83c41"/><rect x="430" width="5" fill="#e93c3e"/><rect x="435" width="5" fill="#e93c3b"/><rect x="440" width="5" fill="#e93b37"/><rect x="445" width="5" fill="#e93a34"/><rect x="450" width="5" fill="#e93831"/><rect x="455" width="5" fill="#e9372e"/><rect x="460" width="5" fill="#e9362c"/><rect x="465" width="5" fill="#e9352a"/><rect x="470" width="5" fill="#ea3528"/><rect x="475" width="5" fill="#ea3527"/><rect x="480" width="5" fill="#ea3526"/></g>
<g transform="translate(0,430)"><rect x="90" width="5" fill="#137fc1"/><rect x="95" width="5" fill="#1580c2"/><rect x="100" width="5" fill="#1680c3"/><rect x="105" width="5" fill="#1781c4"/><rect x="110" width="5" fill="#1981c5"/><rect x="115" width="5" fill="#1a82c5"/><rect x="120" width="5" fill="#1b82c5"/><rect x="125" width="15" fill="#1c82c6"/><rect x="140" width="5" fill="#1d82c6"/><rect x="145" width="5" fill="#1e82c6"/><rect x="150" width="5" fill="#2082c7"/><rect x="155" width="5" fill="#2383c7"/><rect x="160" width="5" fill="#2883c7"/><rect x="165" width="5" fill="#2e84c7"/><rect x="170" width="5" fill="#3484c7"/><rect x="175" width="5" fill="#3c85c7"/><rect x="180" width="5" fill="#4586c7"/><rect x="185" width="5" fill="#4f86c7"/><rect x="190" width="5" fill="#5986c6"/><rect x="195" width="5" fill="#6485c6"/><rect x="200" width="5" fill="#6f84c4"/><rect x="205" width="5" fill="#7a81c2"/><rect x="210" width="5" fill="#867dc0"/><rect x="215" width="5" fill="#9279be"/><rect x="220" width="5" fill="#9d75bb"/><rect x="225" width="5" fill="#a76fb8"/><rect x="230" width="5" fill="#b16ab4"/><rect x="235" width="5" fill="#ba64b0"/><rect x="240" width="5" fill="#c35fab"/><rect x="245" width="5" fill="#ca5aa7"/><rect x="250" width="5" fill="#d054a2"/><rect x="255" width="5" fill="#d54d9e"/><rect x="260" width="5" fill="#d84799"/><rect x="265" width="5" fill="#db4095"/><rect x="270" width="5" fill="#dd3a90"/><rect x="275" width="5" fill="#df348c"/><rect x="280" width="5" fill="#e02e89"/><rect x="285" width="5" fill="#e12886"/><rect x="290" width="5" fill="#e22484"/><rect x="295" width="5" fill="#e32182"/><rect x="300" width="5" fill="#e41e80"/><rect x="305" width="5" fill="#e41c7e"/><rect x="310" width="5" fill="#e41a7c"/><rect x="315" width="5" fill="#e5187a"/><rect x="320" width="5" fill="#e51678"/><rect x="325" width="5" fill="#e51676"/><rect x="330" width="5" fill="#e51574"/><rect x="335" width="5" fill="#e51472"/><rect x="340" width="5" fill="#e51470"/><rect x="345" width="5" fill="#e5156f"/><rect x="350" width="5" fill="#e5156e"/><rect x="355" width="5" fill="#e5176e"/><rect x="360" width="5" fill="#e5186c"/><rect x="365" width="5" fill="#e51a69"/><rect x="370" width="5" fill="#e61c65"/><rect x="375" width="5" fill="#e61d62"/><rect x="380" width="5" fill="#e6205f"/><rect x="385" width="5" fill="#e6235b"/><rect x="390" width="5" fill="#e72657"/><rect x="395" width="5" fill="#e72752"/><rect x="400" width="5" fill="#e7294f"/><rect x="405" width="5" fill="#e72d4d"/><rect x="410" width="5" fill="#e82f4a"/><rect x="415" width="5" fill="#e83048"/><rect x="420" width="5" fill="#e83145"/><rect x="425" width="5" fill="#e83341"/><rect x="430" width="5" fill="#e8343e"/><rect x="435" width="5" fill="#e8353b"/><rect x="440" width="5" fill="#e83438"/><rect x="445" width="5" fill="#e93335"/><rect x="450" width="5" fill="#e93132"/><rect x="455" width="5" fill="#e9302f"/><rect x="460" width="5" fill="#e92f2c"/><rect x="465" width="5" fill="#e92e2a"/><rect x="470" width="5" fill="#e92e29"/><rect x="475" width="5" fill="#e92f27"/><rect x="480" width="5" fill="#e93026"/></g>
<g transform="translate(0,435)"><rect x="90" width="5" fill="#127ec1"/><rect x="95" width="5" fill="#147ec2"/><rect x="100" width="5" fill="#157fc3"/><rect x="105" width="5" fill="#167fc3"/><rect x="110" width="5" fill="#1880c4"/><rect x="115" width="5" fill="#1980c5"/><rect x="120" width="5" fill="#1a81c5"/><rect x="125" width="10" fill="#1b81c5"/><rect x="135" width="5" fill="#1b81c6"/><rect x="140" width="5" fill="#1b80c5"/><rect x="145" width="5" fill="#1c80c5"/><rect x="150" width="5" fill="#1e80c5"/><rect x="155" width="5" fill="#2080c5"/><rect x="160" width="5" fill="#2380c5"/><rect x="165" width="5" fill="#2880c5"/><rect x="170" width="5" fill="#2e80c5"/><rect x="175" width="5" fill="#3680c5"/><rect x="180" width="5" fill="#3f81c5"/><rect x="185" width="5" fill="#4a81c4"/><rect x="190" width="5" fill="#5481c4"/><rect x="195" width="5" fill="#5e81c3"/><rect x="200" width="5" fill="#6980c2"/><rect x="205" width="5" fill="#757dc0"/><rect x="210" width="5" fill="#8179be"/><rect x="215" width="5" fill="#8c75bb"/><rect x="220" width="5" fill="#9770b9"/><rect x="225" width="5" fill="#a26bb6"/><rect x="230" width="5" fill="#ab65b3"/><rect x="235" width="5" fill="#b560af"/><rect x="240" width="5" fill="#be5aab"/><rect x="245" width="5" fill="#c654a6"/><rect x="250" width="5" fill="#cd4fa2"/><rect x="255" width="5" fill="#d2489d"/><rect x="260" width="5" fill="#d64299"/><rect x="265" width="5" fill="#d93b94"/><rect x="270" width="5" fill="#dc358f"/><rect x="275" width="5" fill="#de2f8b"/><rect x="280" width="5" fill="#e02988"/><rect x="285" width="5" fill="#e12485"/><rect x="290" width="5" fill="#e22083"/><rect x="295" width="5" fill="#e31d81"/><rect x="300" width="5" fill="#e41a7f"/><rect x="305" width="5" fill="#e4177d"/><rect x="310" width="5" fill="#e4157b"/><rect x="315" width="5" fill="#e5147a"/><rect x="320" width="5" fill="#e51379"/><rect x="325" width="5" fill="#e51277"/><rect x="330" width="5" fill="#e51176"/><rect x="335" width="5" fill="#e51174"/><rect x="340" width="5" fill="#e51173"/><rect x="345" width="10" fill="#e51172"/><rect x="355" width="5" fill="#e51271"/><rect x="360" width="5" fill="#e5146f"/><rect x="365" width="5" fill="#e5156c"/><rect x="370" width="5" fill="#e51669"/><rect x="375" width="5" fill="#e61765"/><rect x="380" width="5" fill="#e61961"/><rect x="385" width="5" fill="#e61c5d"/><rect x="390" width="5" fill="#e61e59"/><rect x="395" width="5" fill="#e72054"/><rect x="400" width="5" fill="#e72251"/><rect x="405" width="5" fill="#e7254e"/><rect x="410" width="5" fill="#e7274b"/><rect x="415" width="5" fill="#e72948"/><rect x="420" width="5" fill="#e82b45"/><rect x="425" width="5" fill="#e82c42"/><rect x="430" width="5" fill="#e82e3e"/><rect x="435" width="5" fill="#e82e3b"/><rect x="440" width="5" fill="#e82e38"/><rect x="445" width="5" fill="#e82d35"/><rect x="450" width="5" fill="#e82b32"/><rect x="455" width="5" fill="#e8292f"/><rect x="460" width="5" fill="#e9282c"/><rect x="465" width="5" fill="#e9282b"/><rect x="470" width="5" fill="#e92829"/><rect x="475" width="5" fill="#e92928"/><rect x="480" width="5" fill="#e92a27"/></g>
<g transform="translate(0,440)"><rect x="90" width="5" fill="#127cc0"/><rect x="95" width="5" fill="#137dc1"/><rect x="100" width="5" fill="#147dc2"/><rect x="105" width="5" fill="#157ec3"/><rect x="110" width="5" fill="#177ec3"/><rect x="115" width="5" fill="#187fc4"/><rect x="120" width="5" fill="#1980c5"/><rect x="125" width="10" fill="#1a80c5"/><rect x="135" width="5" fill="#1a7fc5"/><rect x="140" width="5" fill="#1a7ec5"/><rect x="145" width="5" fill="#1b7ec4"/><rect x="150" width="5" fill="#1c7dc4"/><rect x="155" width="5" fill="#1d7dc4"/><rect x="160" width="5" fill="#1f7cc3"/><rect x="165" width="5" fill="#227cc3"/><rect x="170" width="5" fill="#277bc2"/><rect x="175" width="5" fill="#2f7bc2"/><rect x="180" width="5" fill="#3a7cc2"/><rect x="185" width="5" fill="#457cc1"/><rect x="190" width="5" fill="#507dc1"/><rect x="195" width="5" fill="#587ec1"/><rect x="200" width="5" fill="#637cc0"/><rect x="205" width="5" fill="#7078be"/><rect x="210" width="5" fill="#7c74bb"/><rect x="215" width="5" fill="#8870b8"/><rect x="220" width="5" fill="#936bb6"/><rect x="225" width="5" fill="#9d66b4"/><rect x="230" width="5" fill="#a661b2"/><rect x="235" width="5" fill="#b05bae"/><rect x="240" width="5" fill="#b956aa"/><rect x="245" width="5" fill="#c250a6"/><rect x="250" width="5" fill="#ca4ba2"/><rect x="255" width="5" fill="#d0449d"/><rect x="260" width="5" fill="#d43e98"/><rect x="265" width="5" fill="#d83793"/><rect x="270" width="5" fill="#db318e"/><rect x="275" width="5" fill="#dd2b8a"/><rect x="280" width="5" fill="#df2687"/><rect x="285" width="5" fill="#e12184"/><rect x="290" width="5" fill="#e21d82"/><rect x="295" width="5" fill="#e31a80"/><rect x="300" width="5" fill="#e4177e"/><rect x="305" width="5" fill="#e4157d"/><rect x="310" width="5" fill="#e5137b"/><rect x="315" width="10" fill="#e5117a"/><rect x="325" width="5" fill="#e51079"/><rect x="330" width="5" fill="#e51078"/><rect x="335" width="5" fill="#e50f77"/><rect x="340" width="5" fill="#e50e76"/><rect x="345" width="10" fill="#e50f75"/><rect x="355" width="5" fill="#e51074"/><rect x="360" width="5" fill="#e51172"/><rect x="365" width="5" fill="#e5126f"/><rect x="370" width="5" fill="#e5136c"/><rect x="375" width="5" fill="#e51468"/><rect x="380" width="5" fill="#e51664"/><rect x="385" width="5" fill="#e6185f"/><rect x="390" width="5" fill="#e61a5b"/><rect x="395" width="5" fill="#e61c57"/><rect x="400" width="5" fill="#e61e53"/><rect x="405" width="5" fill="#e7204f"/><rect x="410" width="5" fill="#e7224c"/><rect x="415" width="5" fill="#e72449"/><rect x="420" width="5" fill="#e72545"/><rect x="425" width="5" fill="#e72742"/><rect x="430" width="5" fill="#e7283f"/><rect x="435" width="5" fill="#e7293b"/><rect x="440" width="5" fill="#e82838"/><rect x="445" width="5" fill="#e82735"/><rect x="450" width="5" fill="#e82532"/><rect x="455" width="5" fill="#e8232f"/><rect x="460" width="5" fill="#e8212d"/><rect x="465" width="5" fill="#e8212b"/><rect x="470" width="5" fill="#e8232a"/><rect x="475" width="5" fill="#e92429"/><rect x="480" width="5" fill="#e92628"/></g>
<g transform="translate(0,445)"><rect x="90" width="5" fill="#117bbf"/><rect x="95" width="5" fill="#127bc0"/><rect x="100" width="5" fill="#137cc1"/><rect x="105" width="5" fill="#157cc2"/><rect x="110" width="5" fill="#167dc3"/><rect x="115" width="5" fill="#177dc3"/><rect x="120" width="5" fill="#197ec4"/><rect x="125" width="5" fill="#1a7fc4"/><rect x="130" width="5" fill="#1a7ec4"/><rect x="135" width="5" fill="#1a7dc4"/><rect x="140" width="10" fill="#1a7cc3"/><rect x="150" width="5" fill="#1a7bc3"/><rect x="155" width="5" fill="#1b7ac2"/><rect x="160" width="5" fill="#1c79c1"/><rect x="165" width="5" fill="#1d78c1"/><rect x="170" width="5" fill="#2077c0"/><rect x="175" width="5" fill="#2876bf"/><rect x="180" width="5" fill="#3577bf"/><rect x="185" width="5" fill="#4377be"/><rect x="190" width="5" fill="#4e77be"/><rect x="195" width="5" fill="#5678be"/><rect x="200" width="5" fill="#6077bd"/><rect x="205" width="5" fill="#6c74bb"/><rect x="210" width="5" fill="#7870b8"/><rect x="215" width="5" fill="#846bb6"/><rect x="220" width="5" fill="#8f67b4"/><rect x="225" width="5" fill="#9962b2"/><rect x="230" width="5" fill="#a25db0"/><rect x="235" width="5" fill="#ac57ad"/><rect x="240" width="5" fill="#b652a9"/><rect x="245" width="5" fill="#bf4ca5"/><rect x="250" width="5" fill="#c747a1"/><rect x="255" width="5" fill="#cd419d"/><rect x="260" width="5" fill="#d23a97"/><rect x="265" width="5" fill="#d73493"/><rect x="270" width="5" fill="#da2e8e"/><rect x="275" width="5" fill="#dd288a"/><rect x="280" width="5" fill="#df2387"/><rect x="285" width="5" fill="#e11f84"/><rect x="290" width="5" fill="#e21b82"/><rect x="295" width="5" fill="#e31880"/><rect x="300" width="5" fill="#e4167e"/><rect x="305" width="5" fill="#e5137d"/><rect x="310" width="5" fill="#e5117c"/><rect x="315" width="5" fill="#e5107b"/><rect x="320" width="15" fill="#e50f7a"/><rect x="335" width="5" fill="#e50e79"/><rect x="340" width="5" fill="#e50d78"/><rect x="345" width="5" fill="#e50d77"/><rect x="350" width="5" fill="#e50e77"/><rect x="355" width="5" fill="#e50f77"/><rect x="360" width="5" fill="#e51075"/><rect x="365" width="5" fill="#e51072"/><rect x="370" width="5" fill="#e5116e"/><rect x="375" width="5" fill="#e5126b"/><rect x="380" width="5" fill="#e51366"/><rect x="385" width="5" fill="#e51562"/><rect x="390" width="5" fill="#e6175d"/><rect x="395" width="5" fill="#e61859"/><rect x="400" width="5" fill="#e61a55"/><rect x="405" width="5" fill="#e61c51"/><rect x="410" width="5" fill="#e71e4d"/><rect x="415" width="5" fill="#e71f49"/><rect x="420" width="5" fill="#e72146"/><rect x="425" width="5" fill="#e72243"/><rect x="430" width="5" fill="#e7233f"/><rect x="435" width="5" fill="#e7243c"/><rect x="440" width="5" fill="#e72439"/><rect x="445" width="5" fill="#e72236"/><rect x="450" width="5" fill="#e82033"/><rect x="455" width="5" fill="#e81e30"/><rect x="460" width="5" fill="#e81c2d"/><rect x="465" width="5" fill="#e81c2c"/><rect x="470" width="5" fill="#e81e2b"/><rect x="475" width="5" fill="#e8202a"/><rect x="480" width="5" fill="#e82229"/></g>
<g transform="translate(0,450)"><rect x="90" width="5" fill="#1079bf"/><rect x="95" width="5" fill="#117abf"/><rect x="100" width="5" fill="#137ac0"/><rect x="105" width="5" fill="#147ac1"/><rect x="110" width="5" fill="#157bc1"/><rect x="115" width="5" fill="#177bc2"/><rect x="120" width="5" fill="#187cc3"/><rect x="125" width="10" fill="#197cc3"/><rect x="135" width="5" fill="#197bc2"/><rect x="140" width="5" fill="#197ac2"/><rect x="145" width="5" fill="#1979c1"/><rect x="150" width="5" fill="#1978c1"/><rect x="155" width="5" fill="#1977c0"/><rect x="160" width="5" fill="#1a75bf"/><rect x="165" width="5" fill="#1b74be"/><rect x="170" width="5" fill="#1d73bd"/><rect x="175" width="5" fill="#2572bc"/><rect x="180" width="5" fill="#3272bc"/><rect x="185" width="5" fill="#4172bb"/><rect x="190" width="5" fill="#4c72ba"/><rect x="195" width="5" fill="#5572ba"/><rect x="200" width="5" fill="#5f71b9"/><rect x="205" width="5" fill="#6b6eb8"/><rect x="210" width="5" fill="#766ab6"/><rect x="215" width="5" fill="#8166b4"/><rect x="220" width="5" fill="#8c62b2"/><rect x="225" width="5" fill="#965db0"/><rect x="230" width="5" fill="#a059ae"/><rect x="235" width="5" fill="#aa54ab"/><rect x="240" width="5" fill="#b34ea7"/><rect x="245" width="5" fill="#bc49a3"/><rect x="250" width="5" fill="#c4449f"/><rect x="255" width="5" fill="#cb3e9b"/><rect x="260" width="5" fill="#d13896"/><rect x="265" width="5" fill="#d53292"/><rect x="270" width="5" fill="#d92c8e"/><rect x="275" width="5" fill="#dc268a"/><rect x="280" width="5" fill="#df2287"/><rect x="285" width="5" fill="#e11d84"/><rect x="290" width="5" fill="#e21a82"/><rect x="295" width="5" fill="#e31780"/><rect x="300" width="5" fill="#e4147e"/><rect x="305" width="5" fill="#e5127d"/><rect x="310" width="5" fill="#e5107c"/><rect x="315" width="5" fill="#e50f7b"/><rect x="320" width="10" fill="#e50e7b"/><rect x="330" width="10" fill="#e50d7a"/><rect x="340" width="15" fill="#e50d79"/><rect x="355" width="5" fill="#e50e79"/><rect x="360" width="5" fill="#e50f77"/><rect x="365" width="5" fill="#e50f74"/><rect x="370" width="5" fill="#e51070"/><rect x="375" width="5" fill="#e5116d"/><rect x="380" width="5" fill="#e51269"/><rect x="385" width="5" fill="#e51364"/><rect x="390" width="5" fill="#e61560"/><rect x="395" width="5" fill="#e6165b"/><rect x="400" width="5" fill="#e61857"/><rect x="405" width="5" fill="#e61a53"/><rect x="410" width="5" fill="#e61b4f"/><rect x="415" width="5" fill="#e71c4b"/><rect x="420" width="5" fill="#e71e47"/><rect x="425" width="5" fill="#e71f44"/><rect x="430" width="5" fill="#e72040"/><rect x="435" width="5" fill="#e7203d"/><rect x="440" width="5" fill="#e7203a"/><rect x="445" width="5" fill="#e71e37"/><rect x="450" width="5" fill="#e71d34"/><rect x="455" width="5" fill="#e71b32"/><rect x="460" width="5" fill="#e71a2f"/><rect x="465" width="5" fill="#e81a2e"/><rect x="470" width="5" fill="#e81b2c"/><rect x="475" width="5" fill="#e81d2b"/><rect x="480" width="5" fill="#e81f2b"/></g>
<g transform="translate(0,455)"><rect x="90" width="5" fill="#0f78be"/><rect x="95" width="5" fill="#1178be"/><rect x="100" width="5" fill="#1278bf"/><rect x="105" width="5" fill="#1378c0"/><rect x="110" width="5" fill="#1579c0"/><rect x="115" width="5" fill="#1679c1"/><rect x="120" width="5" fill="#1779c1"/><rect x="125" width="5" fill="#1879c1"/><rect x="130" width="5" fill="#1979c1"/><rect x="135" width="5" fill="#1978c0"/><rect x="140" width="5" fill="#1977c0"/><rect x="145" width="5" fill="#1976bf"/><rect x="150" width="5" fill="#1975be"/><rect x="155" width="5" fill="#1974be"/><rect x="160" width="5" fill="#1972bd"/><rect x="165" width="5" fill="#1b71bc"/><rect x="170" width="5" fill="#1e70bb"/><rect x="175" width="5" fill="#266fba"/><rect x="180" width="5" fill="#316eb9"/><rect x="185" width="5" fill="#3d6db8"/><rect x="190" width="5" fill="#496db7"/><rect x="195" width="5" fill="#546cb7"/><rect x="200" width="5" fill="#5f6bb6"/><rect x="205" width="5" fill="#6a68b4"/><rect x="210" width="5" fill="#7565b3"/><rect x="215" width="5" fill="#8062b1"/><rect x="220" width="5" fill="#8a5eaf"/><rect x="225" width="5" fill="#9459ad"/><rect x="230" width="5" fill="#9e55ab"/><rect x="235" width="5" fill="#a850a8"/><rect x="240" width="5" fill="#b14ba5"/><rect x="245" width="5" fill="#ba46a2"/><rect x="250" width="5" fill="#c2419e"/><rect x="255" width="5" fill="#c93b9a"/><rect x="260" width="5" fill="#cf3595"/><rect x="265" width="5" fill="#d43091"/><rect x="270" width="5" fill="#d82a8d"/><rect x="275" width="5" fill="#dc258a"/><rect x="280" width="5" fill="#de2086"/><rect x="285" width="5" fill="#e11c84"/><rect x="290" width="5" fill="#e21982"/><rect x="295" width="5" fill="#e31680"/><rect x="300" width="5" fill="#e4137e"/><rect x="305" width="5" fill="#e5117d"/><rect x="310" width="5" fill="#e5107c"/><rect x="315" width="5" fill="#e50f7b"/><rect x="320" width="5" fill="#e50e7b"/><rect x="325" width="10" fill="#e50d7b"/><rect x="335" width="5" fill="#e50d7a"/><rect x="340" width="5" fill="#e50c7a"/><rect x="345" width="10" fill="#e50d7a"/><rect x="355" width="5" fill="#e50e79"/><rect x="360" width="5" fill="#e50e77"/><rect x="365" width="5" fill="#e50f75"/><rect x="370" width="5" fill="#e50f71"/><rect x="375" width="5" fill="#e5106e"/><rect x="380" width="5" fill="#e5116a"/><rect x="385" width="5" fill="#e51266"/><rect x="390" width="5" fill="#e51462"/><rect x="395" width="5" fill="#e6155e"/><rect x="400" width="5" fill="#e61759"/><rect x="405" width="5" fill="#e61855"/><rect x="410" width="5" fill="#e61951"/><rect x="415" width="5" fill="#e61b4c"/><rect x="420" width="5" fill="#e61c49"/><rect x="425" width="5" fill="#e61c45"/><rect x="430" width="5" fill="#e61c42"/><rect x="435" width="5" fill="#e71c3f"/><rect x="440" width="5" fill="#e71c3c"/><rect x="445" width="5" fill="#e71b39"/><rect x="450" width="5" fill="#e71a36"/><rect x="455" width="5" fill="#e71934"/><rect x="460" width="5" fill="#e71831"/><rect x="465" width="5" fill="#e71830"/><rect x="470" width="5" fill="#e7192e"/><rect x="475" width="5" fill="#e81b2d"/><rect x="480" width="5" fill="#e81c2c"/></g>
<g transform="translate(0,460)"><rect x="90" width="5" fill="#0f76bd"/><rect x="95" width="5" fill="#1076bd"/><rect x="100" width="5" fill="#1176be"/><rect x="105" width="5" fill="#1376be"/><rect x="110" width="5" fill="#1476be"/><rect x="115" width="5" fill="#1577bf"/><rect x="120" width="5" fill="#1777bf"/><rect x="125" width="10" fill="#1876bf"/><rect x="135" width="5" fill="#1875be"/><rect x="140" width="5" fill="#1874be"/><rect x="145" width="5" fill="#1873bd"/><rect x="150" width="5" fill="#1872bc"/><rect x="155" width="5" fill="#1871bb"/><rect x="160" width="5" fill="#196fba"/><rect x="165" width="5" fill="#1b6eb9"/><rect x="170" width="5" fill="#1f6cb8"/><rect x="175" width="5" fill="#266bb7"/><rect x="180" width="5" fill="#306ab6"/><rect x="185" width="5" fill="#3b69b5"/><rect x="190" width="5" fill="#4768b4"/><rect x="195" width="5" fill="#5367b3"/><rect x="200" width="5" fill="#5e65b2"/><rect x="205" width="5" fill="#6963b1"/><rect x="210" width="5" fill="#7460b0"/><rect x="215" width="5" fill="#7f5dae"/><rect x="220" width="5" fill="#895aad"/><rect x="225" width="5" fill="#9356ab"/><rect x="230" width="5" fill="#9d52a9"/><rect x="235" width="5" fill="#a64da6"/><rect x="240" width="5" fill="#b049a3"/><rect x="245" width="5" fill="#b944a0"/><rect x="250" width="5" fill="#c13f9c"/><rect x="255" width="5" fill="#c83998"/><rect x="260" width="5" fill="#ce3494"/><rect x="265" width="5" fill="#d42e90"/><rect x="270" width="5" fill="#d8298c"/><rect x="275" width="5" fill="#db2489"/><rect x="280" width="5" fill="#de2086"/><rect x="285" width="5" fill="#e01c84"/><rect x="290" width="5" fill="#e21881"/><rect x="295" width="5" fill="#e31680"/><rect x="300" width="5" fill="#e4137e"/><rect x="305" width="5" fill="#e5117d"/><rect x="310" width="5" fill="#e5107c"/><rect x="315" width="5" fill="#e50f7c"/><rect x="320" width="5" fill="#e50e7b"/><rect x="325" width="25" fill="#e50d7b"/><rect x="350" width="5" fill="#e50d7a"/><rect x="355" width="5" fill="#e50e7a"/><rect x="360" width="5" fill="#e50e78"/><rect x="365" width="5" fill="#e50f75"/><rect x="370" width="5" fill="#e50f72"/><rect x="375" width="5" fill="#e5106f"/><rect x="380" width="5" fill="#e5116b"/><rect x="385" width="5" fill="#e51267"/><rect x="390" width="5" fill="#e51364"/><rect x="395" width="5" fill="#e51560"/><rect x="400" width="5" fill="#e5165b"/><rect x="405" width="5" fill="#e61757"/><rect x="410" width="5" fill="#e61853"/><rect x="415" width="5" fill="#e6194e"/><rect x="420" width="5" fill="#e61a4a"/><rect x="425" width="5" fill="#e61a47"/><rect x="430" width="5" fill="#e61a44"/><rect x="435" width="5" fill="#e61a40"/><rect x="440" width="5" fill="#e6193e"/><rect x="445" width="5" fill="#e6183b"/><rect x="450" width="5" fill="#e71838"/><rect x="455" width="5" fill="#e71736"/><rect x="460" width="5" fill="#e71734"/><rect x="465" width="5" fill="#e71732"/><rect x="470" width="5" fill="#e71830"/><rect x="475" width="5" fill="#e7192f"/><rect x="480" width="5" fill="#e71a2e"/></g>
<g transform="translate(0,465)"><rect x="90" width="5" fill="#0e74bb"/><rect x="95" width="5" fill="#0f74bc"/><rect x="100" width="5" fill="#1174bc"/><rect x="105" width="5" fill="#1274bd"/><rect x="110" width="5" fill="#1374bd"/><rect x="115" width="5" fill="#1574bd"/><rect x="120" width="5" fill="#1674bd"/><rect x="125" width="5" fill="#1773bd"/><rect x="130" width="5" fill="#1873bc"/><rect x="135" width="5" fill="#1872bc"/><rect x="140" width="5" fill="#1971bb"/><rect x="145" width="5" fill="#1970bb"/><rect x="150" width="5" fill="#186fba"/><rect x="155" width="5" fill="#196eb9"/><rect x="160" width="5" fill="#196cb8"/><rect x="165" width="5" fill="#1b6bb6"/><rect x="170" width="5" fill="#1f69b5"/><rect x="175" width="5" fill="#2667b4"/><rect x="180" width="5" fill="#2f66b3"/><rect x="185" width="5" fill="#3a65b1"/><rect x="190" width="5" fill="#4664b0"/><rect x="195" width="5" fill="#5262b0"/><rect x="200" width="5" fill="#5e61af"/><rect x="205" width="5" fill="#695eae"/><rect x="210" width="5" fill="#745cad"/><rect x="215" width="5" fill="#7e59ac"/><rect x="220" width="5" fill="#8856aa"/><rect x="225" width="5" fill="#9252a9"/><rect x="230" width="5" fill="#9b4fa7"/><rect x="235" width="5" fill="#a54ba4"/><rect x="240" width="5" fill="#ae46a2"/><rect x="245" width="5" fill="#b8429e"/><rect x="250" width="5" fill="#c03d9b"/><rect x="255" width="5" fill="#c83897"/><rect x="260" width="5" fill="#ce3293"/><rect x="265" width="5" fill="#d32d8f"/><rect x="270" width="5" fill="#d8288c"/><rect x="275" width="5" fill="#db2389"/><rect x="280" width="5" fill="#de1f86"/><rect x="285" width="5" fill="#e01b83"/><rect x="290" width="5" fill="#e21881"/><rect x="295" width="5" fill="#e31580"/><rect x="300" width="5" fill="#e4137e"/><rect x="305" width="5" fill="#e5117d"/><rect x="310" width="5" fill="#e5107c"/><rect x="315" width="5" fill="#e50f7c"/><rect x="320" width="5" fill="#e60e7b"/><rect x="325" width="5" fill="#e50e7b"/><rect x="330" width="20" fill="#e50d7b"/><rect x="350" width="5" fill="#e50e7b"/><rect x="355" width="5" fill="#e50e7a"/><rect x="360" width="5" fill="#e50f79"/><rect x="365" width="5" fill="#e50f76"/><rect x="370" width="5" fill="#e50f73"/><rect x="375" width="5" fill="#e5106f"/><rect x="380" width="5" fill="#e5106c"/><rect x="385" width="5" fill="#e51169"/><rect x="390" width="5" fill="#e51365"/><rect x="395" width="5" fill="#e51462"/><rect x="400" width="5" fill="#e5155e"/><rect x="405" width="5" fill="#e51659"/><rect x="410" width="5" fill="#e51655"/><rect x="415" width="5" fill="#e61750"/><rect x="420" width="5" fill="#e6184c"/><rect x="425" width="5" fill="#e61849"/><rect x="430" width="5" fill="#e61746"/><rect x="435" width="5" fill="#e61742"/><rect x="440" width="5" fill="#e6173f"/><rect x="445" width="5" fill="#e6163d"/><rect x="450" width="5" fill="#e6163a"/><rect x="455" width="5" fill="#e61538"/><rect x="460" width="5" fill="#e61536"/><rect x="465" width="5" fill="#e71634"/><rect x="470" width="5" fill="#e71632"/><rect x="475" width="5" fill="#e71731"/><rect x="480" width="5" fill="#e71830"/></g>
<g transform="translate(0,470)"><rect x="90" width="5" fill="#0d72ba"/><rect x="95" width="5" fill="#0f72bb"/><rect x="100" width="5" fill="#1072bb"/><rect x="105" width="5" fill="#1172bb"/><rect x="110" width="5" fill="#1372bb"/><rect x="115" width="5" fill="#1471bb"/><rect x="120" width="5" fill="#1671bb"/><rect x="125" width="5" fill="#1770bb"/><rect x="130" width="5" fill="#1870ba"/><rect x="135" width="5" fill="#196fba"/><rect x="140" width="5" fill="#196eb9"/><rect x="145" width="5" fill="#196db8"/><rect x="150" width="5" fill="#196cb7"/><rect x="155" width="5" fill="#196bb6"/><rect x="160" width="5" fill="#1969b5"/><rect x="165" width="5" fill="#1b68b4"/><rect x="170" width="5" fill="#1e66b3"/><rect x="175" width="5" fill="#2464b1"/><rect x="180" width="5" fill="#2d62af"/><rect x="185" width="5" fill="#3861ae"/><rect x="190" width="5" fill="#455fad"/><rect x="195" width="5" fill="#525eac"/><rect x="200" width="5" fill="#5e5cac"/><rect x="205" width="5" fill="#6a5aab"/><rect x="210" width="5" fill="#7457aa"/><rect x="215" width="5" fill="#7e55a9"/><rect x="220" width="5" fill="#8852a8"/><rect x="225" width="5" fill="#914fa7"/><rect x="230" width="5" fill="#9a4ca5"/><rect x="235" width="5" fill="#a349a3"/><rect x="240" width="5" fill="#ad45a0"/><rect x="245" width="5" fill="#b7409d"/><rect x="250" width="5" fill="#c03c99"/><rect x="255" width="5" fill="#c73796"/><rect x="260" width="5" fill="#ce3192"/><rect x="265" width="5" fill="#d32c8e"/><rect x="270" width="5" fill="#d8278b"/><rect x="275" width="5" fill="#db2388"/><rect x="280" width="5" fill="#de1f85"/><rect x="285" width="5" fill="#e01b83"/><rect x="290" width="5" fill="#e21881"/><rect x="295" width="5" fill="#e31680"/><rect x="300" width="5" fill="#e4137e"/><rect x="305" width="5" fill="#e5127d"/><rect x="310" width="5" fill="#e5107c"/><rect x="315" width="5" fill="#e50f7c"/><rect x="320" width="10" fill="#e50f7b"/><rect x="330" width="25" fill="#e50e7b"/><rect x="355" width="5" fill="#e50f7b"/><rect x="360" width="5" fill="#e50f79"/><rect x="365" width="5" fill="#e50f77"/><rect x="370" width="5" fill="#e50f74"/><rect x="375" width="5" fill="#e51070"/><rect x="380" width="5" fill="#e5106d"/><rect x="385" width="5" fill="#e51169"/><rect x="390" width="5" fill="#e51266"/><rect x="395" width="5" fill="#e51363"/><rect x="400" width="5" fill="#e5145f"/><rect x="405" width="5" fill="#e5145a"/><rect x="410" width="5" fill="#e51556"/><rect x="415" width="5" fill="#e51552"/><rect x="420" width="5" fill="#e5154e"/><rect x="425" width="5" fill="#e5154b"/><rect x="430" width="5" fill="#e51548"/><rect x="435" width="5" fill="#e61544"/><rect x="440" width="5" fill="#e61542"/><rect x="445" width="5" fill="#e6143f"/><rect x="450" width="5" fill="#e6143c"/><rect x="455" width="5" fill="#e6143a"/><rect x="460" width="5" fill="#e61438"/><rect x="465" width="5" fill="#e61436"/><rect x="470" width="5" fill="#e61534"/><rect x="475" width="5" fill="#e61633"/><rect x="480" width="5" fill="#e61731"/></g>
<g transform="translate(0,475)"><rect x="90" width="5" fill="#0d70b9"/><rect x="95" width="5" fill="#0e70b9"/><rect x="100" width="5" fill="#0f70b9"/><rect x="105" width="5" fill="#116fb9"/><rect x="110" width="5" fill="#126fb9"/><rect x="115" width="5" fill="#146fb9"/><rect x="120" width="5" fill="#156eb9"/><rect x="125" width="5" fill="#176db8"/><rect x="130" width="5" fill="#186db8"/><rect x="135" width="5" fill="#196cb7"/><rect x="140" width="5" fill="#1a6bb7"/><rect x="145" width="5" fill="#1a6ab6"/><rect x="150" width="5" fill="#1a69b5"/><rect x="155" width="5" fill="#1a68b4"/><rect x="160" width="5" fill="#1a66b3"/><rect x="165" width="5" fill="#1b65b1"/><rect x="170" width="5" fill="#1d63b0"/><rect x="175" width="5" fill="#2361ae"/><rect x="180" width="5" fill="#2c5fac"/><rect x="185" width="5" fill="#375dab"/><rect x="190" width="5" fill="#445baa"/><rect x="195" width="5" fill="#525aa9"/><rect x="200" width="5" fill="#5f59a9"/><rect x="205" width="5" fill="#6a56a8"/><rect x="210" width="5" fill="#7553a8"/><rect x="215" width="5" fill="#7e51a7"/><rect x="220" width="5" fill="#874fa6"/><rect x="225" width="5" fill="#904da5"/><rect x="230" width="5" fill="#984aa4"/><rect x="235" width="5" fill="#a247a1"/><rect x="240" width="5" fill="#ac439f"/><rect x="245" width="5" fill="#b63f9c"/><rect x="250" width="5" fill="#c03b98"/><rect x="255" width="5" fill="#c73695"/><rect x="260" width="5" fill="#ce3191"/><rect x="265" width="5" fill="#d32c8e"/><rect x="270" width="5" fill="#d8278a"/><rect x="275" width="5" fill="#dc2287"/><rect x="280" width="5" fill="#de1f85"/><rect x="285" width="5" fill="#e11b83"/><rect x="290" width="5" fill="#e21881"/><rect x="295" width="5" fill="#e41680"/><rect x="300" width="5" fill="#e4147e"/><rect x="305" width="5" fill="#e5127d"/><rect x="310" width="5" fill="#e5117c"/><rect x="315" width="5" fill="#e5107c"/><rect x="320" width="5" fill="#e5107b"/><rect x="325" width="10" fill="#e50f7a"/><rect x="335" width="5" fill="#e50f7b"/><rect x="340" width="15" fill="#e50e7c"/><rect x="355" width="5" fill="#e50f7b"/><rect x="360" width="5" fill="#e50f79"/><rect x="365" width="5" fill="#e50f77"/><rect x="370" width="5" fill="#e50f74"/><rect x="375" width="5" fill="#e51071"/><rect x="380" width="5" fill="#e5106e"/><rect x="385" width="5" fill="#e5116a"/><rect x="390" width="5" fill="#e51167"/><rect x="395" width="5" fill="#e51263"/><rect x="400" width="5" fill="#e51360"/><rect x="405" width="5" fill="#e5135c"/><rect x="410" width="5" fill="#e51358"/><rect x="415" width="5" fill="#e51454"/><rect x="420" width="5" fill="#e51450"/><rect x="425" width="5" fill="#e5144d"/><rect x="430" width="5" fill="#e51449"/><rect x="435" width="5" fill="#e51346"/><rect x="440" width="5" fill="#e51343"/><rect x="445" width="5" fill="#e51341"/><rect x="450" width="5" fill="#e5133e"/><rect x="455" width="5" fill="#e6133c"/><rect x="460" width="5" fill="#e6133a"/><rect x="465" width="5" fill="#e61338"/><rect x="470" width="5" fill="#e61436"/><rect x="475" width="5" fill="#e61435"/><rect x="480" width="5" fill="#e61533"/></g>
<g transform="translate(0,480)"><rect x="90" width="5" fill="#0c6eb8"/><rect x="95" width="5" fill="#0d6eb8"/><rect x="100" width="5" fill="#0f6db8"/><rect x="105" width="5" fill="#106db8"/><rect x="110" width="5" fill="#126db8"/><rect x="115" width="5" fill="#136cb7"/><rect x="120" width="5" fill="#156bb7"/><rect x="125" width="5" fill="#166bb6"/><rect x="130" width="5" fill="#186ab6"/><rect x="135" width="5" fill="#1969b5"/><rect x="140" width="5" fill="#1a68b4"/><rect x="145" width="5" fill="#1a67b3"/><rect x="150" width="5" fill="#1a66b2"/><rect x="155" width="5" fill="#1a65b1"/><rect x="160" width="5" fill="#1a63b0"/><rect x="165" width="5" fill="#1b62af"/><rect x="170" width="5" fill="#1d60ad"/><rect x="175" width="5" fill="#235eac"/><rect x="180" width="5" fill="#2c5caa"/><rect x="185" width="5" fill="#375aa8"/><rect x="190" width="5" fill="#4358a7"/><rect x="195" width="5" fill="#5257a7"/><rect x="200" width="5" fill="#5f55a7"/><rect x="205" width="5" fill="#6a53a6"/><rect x="210" width="5" fill="#7450a5"/><rect x="215" width="5" fill="#7e4ea5"/><rect x="220" width="5" fill="#874ca4"/><rect x="225" width="5" fill="#8f4aa3"/><rect x="230" width="5" fill="#9848a2"/><rect x="235" width="5" fill="#a145a0"/><rect x="240" width="5" fill="#ab429d"/><rect x="245" width="5" fill="#b53e9a"/><rect x="250" width="5" fill="#bf3a97"/><rect x="255" width="5" fill="#c73594"/><rect x="260" width="5" fill="#cd3090"/><rect x="265" width="5" fill="#d32b8d"/><rect x="270" width="5" fill="#d8278a"/><rect x="275" width="5" fill="#db2287"/><rect x="280" width="5" fill="#de1f85"/><rect x="285" width="5" fill="#e01c83"/><rect x="290" width="5" fill="#e21981"/><rect x="295" width="5" fill="#e41680"/><rect x="300" width="5" fill="#e4147f"/><rect x="305" width="5" fill="#e5137e"/><rect x="310" width="5" fill="#e5127d"/><rect x="315" width="5" fill="#e5117c"/><rect x="320" width="15" fill="#e5107b"/><rect x="335" width="5" fill="#e50f7b"/><rect x="340" width="15" fill="#e50f7c"/><rect x="355" width="5" fill="#e50f7b"/><rect x="360" width="5" fill="#e50f7a"/><rect x="365" width="5" fill="#e50f77"/><rect x="370" width="5" fill="#e50f75"/><rect x="375" width="5" fill="#e51071"/><rect x="380" width="5" fill="#e5106e"/><rect x="385" width="5" fill="#e5106b"/><rect x="390" width="5" fill="#e51168"/><rect x="395" width="5" fill="#e51164"/><rect x="400" width="5" fill="#e51161"/><rect x="405" width="5" fill="#e4125d"/><rect x="410" width="5" fill="#e51259"/><rect x="415" width="5" fill="#e51255"/><rect x="420" width="5" fill="#e51252"/><rect x="425" width="5" fill="#e5124f"/><rect x="430" width="5" fill="#e5124b"/><rect x="435" width="5" fill="#e51248"/><rect x="440" width="5" fill="#e51245"/><rect x="445" width="5" fill="#e51143"/><rect x="450" width="5" fill="#e51140"/><rect x="455" width="5" fill="#e5113e"/><rect x="460" width="5" fill="#e5123c"/><rect x="465" width="5" fill="#e5123a"/><rect x="470" width="5" fill="#e51238"/><rect x="475" width="5" fill="#e51336"/><rect x="480" width="5" fill="#e61435"/></g>
<g transform="translate(0,485)"><rect x="90" width="5" fill="#0c6cb6"/><rect x="95" width="5" fill="#0d6cb6"/><rect x="100" width="5" fill="#0e6bb6"/><rect x="105" width="5" fill="#106bb6"/><rect x="110" width="5" fill="#116ab6"/><rect x="115" width="5" fill="#136ab5"/><rect x="120" width="5" fill="#1469b5"/><rect x="125" width="5" fill="#1668b4"/><rect x="130" width="5" fill="#1767b3"/><rect x="135" width="5" fill="#1866b3"/><rect x="140" width="5" fill="#1965b2"/><rect x="145" width="5" fill="#1964b1"/><rect x="150" width="5" fill="#1a63b0"/><rect x="155" width="5" fill="#1a62af"/><rect x="160" width="5" fill="#1b60ad"/><rect x="165" width="5" fill="#1c5fac"/><rect x="170" width="5" fill="#1f5dab"/><rect x="175" width="5" fill="#255ba9"/><rect x="180" width="5" fill="#2e59a7"/><rect x="185" width="5" fill="#3857a6"/><rect x="190" width="5" fill="#4455a5"/><rect x="195" width="5" fill="#5154a5"/><rect x="200" width="5" fill="#5d52a5"/><rect x="205" width="5" fill="#6850a4"/><rect x="210" width="5" fill="#734ea4"/><rect x="215" width="5" fill="#7d4ca3"/><rect x="220" width="5" fill="#864aa2"/><rect x="225" width="5" fill="#8e48a1"/><rect x="230" width="5" fill="#9746a0"/><rect x="235" width="5" fill="#a1439e"/><rect x="240" width="5" fill="#aa409c"/><rect x="245" width="5" fill="#b43c99"/><rect x="250" width="5" fill="#bd3996"/><rect x="255" width="5" fill="#c53493"/><rect x="260" width="5" fill="#cc3090"/><rect x="265" width="5" fill="#d22b8d"/><rect x="270" width="5" fill="#d7278a"/><rect x="275" width="5" fill="#db2387"/><rect x="280" width="5" fill="#de2085"/><rect x="285" width="5" fill="#e01d83"/><rect x="290" width="5" fill="#e21a82"/><rect x="295" width="5" fill="#e31780"/><rect x="300" width="5" fill="#e4157f"/><rect x="305" width="5" fill="#e5147e"/><rect x="310" width="5" fill="#e5127d"/><rect x="315" width="5" fill="#e5127c"/><rect x="320" width="10" fill="#e5117c"/><rect x="330" width="10" fill="#e5107c"/><rect x="340" width="5" fill="#e5107d"/><rect x="345" width="5" fill="#e4107d"/><rect x="350" width="5" fill="#e40f7d"/><rect x="355" width="5" fill="#e40f7c"/><rect x="360" width="5" fill="#e40f7b"/><rect x="365" width="5" fill="#e40f78"/><rect x="370" width="5" fill="#e50f75"/><rect x="375" width="5" fill="#e51072"/><rect x="380" width="5" fill="#e5106f"/><rect x="385" width="5" fill="#e5106c"/><rect x="390" width="5" fill="#e41068"/><rect x="395" width="5" fill="#e41065"/><rect x="400" width="5" fill="#e41061"/><rect x="405" width="5" fill="#e4115e"/><rect x="410" width="5" fill="#e4115a"/><rect x="415" width="5" fill="#e41157"/><rect x="420" width="5" fill="#e41153"/><rect x="425" width="5" fill="#e41150"/><rect x="430" width="5" fill="#e4114d"/><rect x="435" width="5" fill="#e4104a"/><rect x="440" width="5" fill="#e41047"/><rect x="445" width="5" fill="#e41045"/><rect x="450" width="5" fill="#e51042"/><rect x="455" width="5" fill="#e51040"/><rect x="460" width="5" fill="#e5113e"/><rect x="465" width="5" fill="#e5113c"/><rect x="470" width="5" fill="#e5113a"/><rect x="475" width="5" fill="#e51238"/><rect x="480" width="5" fill="#e51337"/></g>
<g transform="translate(0,490)"><rect x="90" width="5" fill="#0b6ab5"/><rect x="95" width="5" fill="#0c6ab5"/><rect x="100" width="5" fill="#0e69b5"/><rect x="105" width="5" fill="#0f69b4"/><rect x="110" width="5" fill="#1068b4"/><rect x="115" width="5" fill="#1267b4"/><rect x="120" width="5" fill="#1367b3"/><rect x="125" width="5" fill="#1566b2"/><rect x="130" width="5" fill="#1665b1"/><rect x="135" width="5" fill="#1864b0"/><rect x="140" width="5" fill="#1863af"/><rect x="145" width="5" fill="#1961ae"/><rect x="150" width="5" fill="#1a60ad"/><rect x="155" width="5" fill="#1a5fac"/><rect x="160" width="5" fill="#1b5dab"/><rect x="165" width="5" fill="#1d5ca9"/><rect x="170" width="5" fill="#215aa8"/><rect x="175" width="5" fill="#2758a7"/><rect x="180" width="5" fill="#2f56a5"/><rect x="185" width="5" fill="#3954a4"/><rect x="190" width="5" fill="#4453a4"/><rect x="195" width="5" fill="#5051a3"/><rect x="200" width="5" fill="#5c50a3"/><rect x="205" width="5" fill="#674ea2"/><rect x="210" width="5" fill="#724ca2"/><rect x="215" width="5" fill="#7b4aa1"/><rect x="220" width="5" fill="#8549a1"/><rect x="225" width="5" fill="#8e47a0"/><rect x="230" width="5" fill="#97449e"/><rect x="235" width="5" fill="#a0429d"/><rect x="240" width="5" fill="#a93f9a"/><rect x="245" width="5" fill="#b33b98"/><rect x="250" width="5" fill="#bc3895"/><rect x="255" width="5" fill="#c43493"/><rect x="260" width="5" fill="#cb3090"/><rect x="265" width="5" fill="#d12c8d"/><rect x="270" width="5" fill="#d6288a"/><rect x="275" width="5" fill="#da2488"/><rect x="280" width="5" fill="#de2085"/><rect x="285" width="5" fill="#e01d83"/><rect x="290" width="5" fill="#e21b82"/><rect x="295" width="5" fill="#e31880"/><rect x="300" width="5" fill="#e4167f"/><rect x="305" width="5" fill="#e5147e"/><rect x="310" width="5" fill="#e5137d"/><rect x="315" width="10" fill="#e5127d"/><rect x="325" width="5" fill="#e5117c"/><rect x="330" width="5" fill="#e4117d"/><rect x="335" width="10" fill="#e4107d"/><rect x="345" width="5" fill="#e4107e"/><rect x="350" width="10" fill="#e4107d"/><rect x="360" width="5" fill="#e40f7b"/><rect x="365" width="5" fill="#e40f78"/><rect x="370" width="5" fill="#e40f75"/><rect x="375" width="5" fill="#e40f72"/><rect x="380" width="5" fill="#e40f6f"/><rect x="385" width="5" fill="#e40f6c"/><rect x="390" width="5" fill="#e40f69"/><rect x="395" width="5" fill="#e40f66"/><rect x="400" width="5" fill="#e41062"/><rect x="405" width="5" fill="#e4105f"/><rect x="410" width="5" fill="#e4105c"/><rect x="415" width="5" fill="#e41058"/><rect x="420" width="5" fill="#e41055"/><rect x="425" width="5" fill="#e40f52"/><rect x="430" width="5" fill="#e40f4f"/><rect x="435" width="5" fill="#e40f4c"/><rect x="440" width="5" fill="#e40f49"/><rect x="445" width="5" fill="#e40f46"/><rect x="450" width="5" fill="#e40f44"/><rect x="455" width="5" fill="#e40f42"/><rect x="460" width="5" fill="#e41040"/><rect x="465" width="5" fill="#e4103e"/><rect x="470" width="5" fill="#e4103c"/><rect x="475" width="5" fill="#e4113a"/><rect x="480" width="5" fill="#e51239"/></g>
<g transform="translate(0,495)"><rect x="90" width="5" fill="#0b68b4"/><rect x="95" width="5" fill="#0c68b3"/><rect x="100" width="5" fill="#0d67b3"/><rect x="105" width="5" fill="#0e67b3"/><rect x="110" width="5" fill="#1066b2"/><rect x="115" width="5" fill="#1165b2"/><rect x="120" width="5" fill="#1364b1"/><rect x="125" width="5" fill="#1463b0"/><rect x="130" width="5" fill="#1662af"/><rect x="135" width="5" fill="#1761ae"/><rect x="140" width="5" fill="#1860ad"/><rect x="145" width="5" fill="#195fac"/><rect x="150" width="5" fill="#1a5eab"/><rect x="155" width="5" fill="#1a5caa"/><rect x="160" width="5" fill="#1c5ba8"/><rect x="165" width="5" fill="#1e59a7"/><rect x="170" width="5" fill="#2257a6"/><rect x="175" width="5" fill="#2755a4"/><rect x="180" width="5" fill="#2f54a3"/><rect x="185" width="5" fill="#3952a2"/><rect x="190" width="5" fill="#4451a2"/><rect x="195" width="5" fill="#504fa1"/><rect x="200" width="5" fill="#5c4ea1"/><rect x="205" width="5" fill="#674ca1"/><rect x="210" width="5" fill="#714ba0"/><rect x="215" width="5" fill="#7b49a0"/><rect x="220" width="5" fill="#84479f"/><rect x="225" width="5" fill="#8d459e"/><rect x="230" width="5" fill="#96439d"/><rect x="235" width="5" fill="#9f419b"/><rect x="240" width="5" fill="#a83e99"/><rect x="245" width="5" fill="#b23b97"/><rect x="250" width="5" fill="#bb3795"/><rect x="255" width="5" fill="#c33492"/><rect x="260" width="5" fill="#ca308f"/><rect x="265" width="5" fill="#d02c8d"/><rect x="270" width="5" fill="#d6288a"/><rect x="275" width="5" fill="#da2588"/><rect x="280" width="5" fill="#dd2186"/><rect x="285" width="5" fill="#e01e84"/><rect x="290" width="5" fill="#e21b82"/><rect x="295" width="5" fill="#e31981"/><rect x="300" width="5" fill="#e4177f"/><rect x="305" width="5" fill="#e5157e"/><rect x="310" width="5" fill="#e5147e"/><rect x="315" width="5" fill="#e5137d"/><rect x="320" width="10" fill="#e4127d"/><rect x="330" width="10" fill="#e4117d"/><rect x="340" width="5" fill="#e4117e"/><rect x="345" width="10" fill="#e3117e"/><rect x="355" width="5" fill="#e3117d"/><rect x="360" width="5" fill="#e3107b"/><rect x="365" width="5" fill="#e31078"/><rect x="370" width="5" fill="#e30f76"/><rect x="375" width="5" fill="#e40f73"/><rect x="380" width="5" fill="#e40f70"/><rect x="385" width="5" fill="#e30f6d"/><rect x="390" width="5" fill="#e30f69"/><rect x="395" width="5" fill="#e30f66"/><rect x="400" width="5" fill="#e30f63"/><rect x="405" width="5" fill="#e30f60"/><rect x="410" width="5" fill="#e30f5d"/><rect x="415" width="5" fill="#e30f59"/><rect x="420" width="5" fill="#e30e56"/><rect x="425" width="5" fill="#e30e53"/><rect x="430" width="5" fill="#e30e50"/><rect x="435" width="5" fill="#e30e4d"/><rect x="440" width="5" fill="#e30e4b"/><rect x="445" width="5" fill="#e30e48"/><rect x="450" width="5" fill="#e40e46"/><rect x="455" width="5" fill="#e40e43"/><rect x="460" width="5" fill="#e40f41"/><rect x="465" width="5" fill="#e40f3f"/><rect x="470" width="5" fill="#e40f3e"/><rect x="475" width="5" fill="#e4103c"/><rect x="480" width="5" fill="#e4113a"/></g>
<g transform="translate(0,500)"><rect x="90" width="5" fill="#0a66b2"/><rect x="95" width="5" fill="#0b66b2"/><rect x="100" width="5" fill="#0d65b2"/><rect x="105" width="5" fill="#0e64b1"/><rect x="110" width="5" fill="#0f64b1"/><rect x="115" width="5" fill="#1163b0"/><rect x="120" width="5" fill="#1262af"/><rect x="125" width="5" fill="#1461ae"/><rect x="130" width="5" fill="#1560ad"/><rect x="135" width="5" fill="#175fac"/><rect x="140" width="5" fill="#185eab"/><rect x="145" width="5" fill="#195caa"/><rect x="150" width="5" fill="#1a5ba9"/><rect x="155" width="5" fill="#1b5aa7"/><rect x="160" width="5" fill="#1c58a6"/><rect x="165" width="5" fill="#1e56a5"/><rect x="170" width="5" fill="#2155a3"/><rect x="175" width="5" fill="#2753a2"/><rect x="180" width="5" fill="#2f51a1"/><rect x="185" width="5" fill="#3950a1"/><rect x="190" width="5" fill="#444ea0"/><rect x="195" width="5" fill="#504da0"/><rect x="200" width="5" fill="#5b4ca0"/><rect x="205" width="5" fill="#664ba0"/><rect x="210" width="5" fill="#70499f"/><rect x="215" width="5" fill="#7a489f"/><rect x="220" width="5" fill="#83469e"/><rect x="225" width="5" fill="#8c449d"/><rect x="230" width="5" fill="#95429c"/><rect x="235" width="5" fill="#9e409a"/><rect x="240" width="5" fill="#a73d99"/><rect x="245" width="5" fill="#b13a96"/><rect x="250" width="5" fill="#ba3794"/><rect x="255" width="5" fill="#c23492"/><rect x="260" width="5" fill="#c9308f"/><rect x="265" width="5" fill="#d02d8d"/><rect x="270" width="5" fill="#d5298a"/><rect x="275" width="5" fill="#da2688"/><rect x="280" width="5" fill="#dd2286"/><rect x="285" width="5" fill="#e01f84"/><rect x="290" width="5" fill="#e21c82"/><rect x="295" width="5" fill="#e31a81"/><rect x="300" width="5" fill="#e41880"/><rect x="305" width="5" fill="#e4167f"/><rect x="310" width="5" fill="#e4147e"/><rect x="315" width="10" fill="#e4137e"/><rect x="325" width="5" fill="#e4127e"/><rect x="330" width="5" fill="#e3127e"/><rect x="335" width="10" fill="#e3117e"/><rect x="345" width="10" fill="#e3127e"/><rect x="355" width="5" fill="#e3117d"/><rect x="360" width="5" fill="#e3117b"/><rect x="365" width="5" fill="#e31078"/><rect x="370" width="5" fill="#e30f76"/><rect x="375" width="5" fill="#e30f73"/><rect x="380" width="5" fill="#e30f70"/><rect x="385" width="5" fill="#e30e6d"/><rect x="390" width="5" fill="#e30e6a"/><rect x="395" width="5" fill="#e30e67"/><rect x="400" width="5" fill="#e30e64"/><rect x="405" width="5" fill="#e30e61"/><rect x="410" width="5" fill="#e30e5d"/><rect x="415" width="5" fill="#e30e5a"/><rect x="420" width="5" fill="#e30e57"/><rect x="425" width="5" fill="#e30e54"/><rect x="430" width="5" fill="#e30d52"/><rect x="435" width="5" fill="#e30d4f"/><rect x="440" width="5" fill="#e30d4c"/><rect x="445" width="5" fill="#e30d4a"/><rect x="450" width="5" fill="#e30e47"/><rect x="455" width="5" fill="#e30e45"/><rect x="460" width="5" fill="#e30e43"/><rect x="465" width="5" fill="#e30e41"/><rect x="470" width="5" fill="#e30f3f"/><rect x="475" width="5" fill="#e30f3d"/><rect x="480" width="5" fill="#e3103c"/></g>
<g transform="translate(0,505)"><rect x="90" width="5" fill="#0965b1"/><rect x="95" width="5" fill="#0b64b1"/><rect x="100" width="5" fill="#0c63b0"/><rect x="105" width="5" fill="#0d62b0"/><rect x="110" width="5" fill="#0f62af"/><rect x="115" width="5" fill="#1061ae"/><rect x="120" width="5" fill="#1260ad"/><rect x="125" width="5" fill="#135fac"/><rect x="130" width="5" fill="#155eab"/><rect x="135" width="5" fill="#165caa"/><rect x="140" width="5" fill="#185ba9"/><rect x="145" width="5" fill="#195aa8"/><rect x="150" width="5" fill="#1b59a6"/><rect x="155" width="5" fill="#1b58a5"/><rect x="160" width="5" fill="#1c56a4"/><rect x="165" width="5" fill="#1e54a2"/><rect x="170" width="5" fill="#2152a1"/><rect x="175" width="5" fill="#2650a0"/><rect x="180" width="5" fill="#2f4f9f"/><rect x="185" width="5" fill="#394e9f"/><rect x="190" width="5" fill="#444d9f"/><rect x="195" width="5" fill="#504c9f"/><rect x="200" width="5" fill="#5c4b9f"/><rect x="205" width="5" fill="#664a9e"/><rect x="210" width="5" fill="#70489e"/><rect x="215" width="5" fill="#79479d"/><rect x="220" width="5" fill="#82459d"/><rect x="225" width="5" fill="#8a439c"/><rect x="230" width="5" fill="#93429b"/><rect x="235" width="5" fill="#9c3f9a"/><rect x="240" width="5" fill="#a63d98"/><rect x="245" width="5" fill="#af3a96"/><rect x="250" width="5" fill="#b93794"/><rect x="255" width="5" fill="#c13491"/><rect x="260" width="5" fill="#c9318f"/><rect x="265" width="5" fill="#d02d8d"/><rect x="270" width="5" fill="#d52a8b"/><rect x="275" width="5" fill="#da2788"/><rect x="280" width="5" fill="#dd2386"/><rect x="285" width="5" fill="#e02084"/><rect x="290" width="5" fill="#e11d82"/><rect x="295" width="5" fill="#e31a81"/><rect x="300" width="5" fill="#e31880"/><rect x="305" width="5" fill="#e4167f"/><rect x="310" width="5" fill="#e4157e"/><rect x="315" width="5" fill="#e3147e"/><rect x="320" width="10" fill="#e3137e"/><rect x="330" width="5" fill="#e3127e"/><rect x="335" width="15" fill="#e2127e"/><rect x="350" width="5" fill="#e2117d"/><rect x="355" width="5" fill="#e2117c"/><rect x="360" width="5" fill="#e2107a"/><rect x="365" width="5" fill="#e21078"/><rect x="370" width="5" fill="#e20f75"/><rect x="375" width="5" fill="#e20f73"/><rect x="380" width="5" fill="#e20e70"/><rect x="385" width="5" fill="#e20e6d"/><rect x="390" width="5" fill="#e20e6a"/><rect x="395" width="5" fill="#e20e67"/><rect x="400" width="5" fill="#e20d64"/><rect x="405" width="5" fill="#e20d61"/><rect x="410" width="5" fill="#e20d5e"/><rect x="415" width="5" fill="#e20d5b"/><rect x="420" width="5" fill="#e20d59"/><rect x="425" width="5" fill="#e20d56"/><rect x="430" width="5" fill="#e20d53"/><rect x="435" width="5" fill="#e20d50"/><rect x="440" width="5" fill="#e20d4e"/><rect x="445" width="5" fill="#e20d4b"/><rect x="450" width="5" fill="#e20d49"/><rect x="455" width="5" fill="#e20d47"/><rect x="460" width="5" fill="#e30d45"/><rect x="465" width="5" fill="#e30e43"/><rect x="470" width="5" fill="#e30e41"/><rect x="475" width="5" fill="#e30e3f"/><rect x="480" width="5" fill="#e30f3d"/></g>
<g transform="translate(0,510)"><rect x="90" width="5" fill="#0963b0"/><rect x="95" width="5" fill="#0a62b0"/><rect x="100" width="5" fill="#0b61af"/><rect x="105" width="5" fill="#0d61ae"/><rect x="110" width="5" fill="#0e60ae"/><rect x="115" width="5" fill="#0f5fad"/><rect x="120" width="5" fill="#115eac"/><rect x="125" width="5" fill="#135dab"/><rect x="130" width="5" fill="#145baa"/><rect x="135" width="5" fill="#165aa8"/><rect x="140" width="5" fill="#1859a7"/><rect x="145" width="5" fill="#1a57a5"/><rect x="150" width="5" fill="#1c56a4"/><rect x="155" width="5" fill="#1c55a3"/><rect x="160" width="5" fill="#1d54a2"/><rect x="165" width="5" fill="#1e52a1"/><rect x="170" width="5" fill="#21509f"/><rect x="175" width="5" fill="#264f9e"/><rect x="180" width="5" fill="#2f4d9e"/><rect x="185" width="5" fill="#394c9e"/><rect x="190" width="5" fill="#444b9e"/><rect x="195" width="5" fill="#514b9e"/><rect x="200" width="5" fill="#5d4a9e"/><rect x="205" width="5" fill="#66499e"/><rect x="210" width="5" fill="#70479d"/><rect x="215" width="5" fill="#79469c"/><rect x="220" width="5" fill="#81449c"/><rect x="225" width="5" fill="#89439b"/><rect x="230" width="5" fill="#91419b"/><rect x="235" width="5" fill="#9a3f99"/><rect x="240" width="5" fill="#a43d97"/><rect x="245" width="5" fill="#ae3a95"/><rect x="250" width="5" fill="#b83793"/><rect x="255" width="5" fill="#c13491"/><rect x="260" width="5" fill="#c8318f"/><rect x="265" width="5" fill="#cf2e8d"/><rect x="270" width="5" fill="#d52b8b"/><rect x="275" width="5" fill="#da2889"/><rect x="280" width="5" fill="#dd2487"/><rect x="285" width="5" fill="#df2185"/><rect x="290" width="5" fill="#e11e83"/><rect x="295" width="5" fill="#e21b81"/><rect x="300" width="5" fill="#e31980"/><rect x="305" width="5" fill="#e3177f"/><rect x="310" width="5" fill="#e3167f"/><rect x="315" width="5" fill="#e2157f"/><rect x="320" width="5" fill="#e2147e"/><rect x="325" width="5" fill="#e2137e"/><rect x="330" width="10" fill="#e2127e"/><rect x="340" width="5" fill="#e1127e"/><rect x="345" width="5" fill="#e1117d"/><rect x="350" width="5" fill="#e1117c"/><rect x="355" width="5" fill="#e1117b"/><rect x="360" width="5" fill="#e11079"/><rect x="365" width="5" fill="#e11077"/><rect x="370" width="5" fill="#e10f75"/><rect x="375" width="5" fill="#e10f73"/><rect x="380" width="5" fill="#e10e70"/><rect x="385" width="5" fill="#e10e6d"/><rect x="390" width="5" fill="#e10d6b"/><rect x="395" width="5" fill="#e10d68"/><rect x="400" width="5" fill="#e10d65"/><rect x="405" width="5" fill="#e10d62"/><rect x="410" width="5" fill="#e10c5f"/><rect x="415" width="5" fill="#e10c5c"/><rect x="420" width="5" fill="#e10c5a"/><rect x="425" width="5" fill="#e10c57"/><rect x="430" width="5" fill="#e10c54"/><rect x="435" width="5" fill="#e10c52"/><rect x="440" width="5" fill="#e20c4f"/><rect x="445" width="5" fill="#e20c4d"/><rect x="450" width="5" fill="#e20c4a"/><rect x="455" width="5" fill="#e20c48"/><rect x="460" width="5" fill="#e20d46"/><rect x="465" width="5" fill="#e20d44"/><rect x="470" width="5" fill="#e20d42"/><rect x="475" width="5" fill="#e20e41"/><rect x="480" width="5" fill="#e20e3f"/></g>
<g transform="translate(0,515)"><rect x="90" width="5" fill="#0961af"/><rect x="95" width="5" fill="#0a60ae"/><rect x="100" width="5" fill="#0b60ae"/><rect x="105" width="5" fill="#0c5fad"/><rect x="110" width="5" fill="#0e5eac"/><rect x="115" width="5" fill="#0f5dab"/><rect x="120" width="5" fill="#105caa"/><rect x="125" width="5" fill="#125ba9"/><rect x="130" width="5" fill="#145aa8"/><rect x="135" width="5" fill="#1558a7"/><rect x="140" width="5" fill="#1757a5"/><rect x="145" width="5" fill="#1955a4"/><rect x="150" width="5" fill="#1b54a2"/><rect x="155" width="5" fill="#1c53a1"/><rect x="160" width="5" fill="#1d52a0"/><rect x="165" width="5" fill="#1f509f"/><rect x="170" width="5" fill="#224f9e"/><rect x="175" width="5" fill="#284d9d"/><rect x="180" width="5" fill="#2f4c9d"/><rect x="185" width="5" fill="#394b9d"/><rect x="190" width="5" fill="#444a9d"/><rect x="195" width="5" fill="#514a9d"/><rect x="200" width="5" fill="#5c499d"/><rect x="205" width="5" fill="#65489d"/><rect x="210" width="5" fill="#6f469c"/><rect x="215" width="5" fill="#77459c"/><rect x="220" width="5" fill="#80449b"/><rect x="225" width="5" fill="#88429b"/><rect x="230" width="5" fill="#90419a"/><rect x="235" width="5" fill="#993f99"/><rect x="240" width="5" fill="#a33d97"/><rect x="245" width="5" fill="#ad3a95"/><rect x="250" width="5" fill="#b73893"/><rect x="255" width="5" fill="#c03591"/><rect x="260" width="5" fill="#c8328f"/><rect x="265" width="5" fill="#cf2f8d"/><rect x="270" width="5" fill="#d52c8b"/><rect x="275" width="5" fill="#d92989"/><rect x="280" width="5" fill="#dc2587"/><rect x="285" width="5" fill="#de2285"/><rect x="290" width="5" fill="#e01f83"/><rect x="295" width="5" fill="#e11c81"/><rect x="300" width="5" fill="#e11a80"/><rect x="305" width="5" fill="#e11880"/><rect x="310" width="5" fill="#e1177f"/><rect x="315" width="5" fill="#e1157f"/><rect x="320" width="5" fill="#e1147f"/><rect x="325" width="5" fill="#e1147e"/><rect x="330" width="5" fill="#e1137e"/><rect x="335" width="5" fill="#e0127e"/><rect x="340" width="5" fill="#e0127d"/><rect x="345" width="5" fill="#e0117d"/><rect x="350" width="5" fill="#e0117c"/><rect x="355" width="5" fill="#e0117a"/><rect x="360" width="5" fill="#e01079"/><rect x="365" width="5" fill="#e00f77"/><rect x="370" width="5" fill="#e00f75"/><rect x="375" width="5" fill="#e00e72"/><rect x="380" width="5" fill="#e00e70"/><rect x="385" width="5" fill="#e00d6d"/><rect x="390" width="5" fill="#e00d6b"/><rect x="395" width="5" fill="#e00d68"/><rect x="400" width="5" fill="#e00c65"/><rect x="405" width="5" fill="#e00c63"/><rect x="410" width="5" fill="#e00c60"/><rect x="415" width="5" fill="#e00c5d"/><rect x="420" width="5" fill="#e10c5a"/><rect x="425" width="5" fill="#e10c58"/><rect x="430" width="5" fill="#e10b55"/><rect x="435" width="5" fill="#e10b53"/><rect x="440" width="5" fill="#e10b50"/><rect x="445" width="5" fill="#e10b4e"/><rect x="450" width="5" fill="#e10c4c"/><rect x="455" width="5" fill="#e10c4a"/><rect x="460" width="5" fill="#e10c48"/><rect x="465" width="5" fill="#e10c46"/><rect x="470" width="5" fill="#e10d44"/><rect x="475" width="5" fill="#e10d42"/><rect x="480" width="5" fill="#e20e40"/></g>
<g transform="translate(0,520)"><rect x="90" width="5" fill="#085fae"/><rect x="95" width="5" fill="#095fad"/><rect x="100" width="5" fill="#0a5ead"/><rect x="105" width="5" fill="#0c5dac"/><rect x="110" width="5" fill="#0d5cab"/><rect x="115" width="5" fill="#0e5baa"/><rect x="120" width="5" fill="#105aa9"/><rect x="125" width="5" fill="#1159a8"/><rect x="130" width="5" fill="#1358a7"/><rect x="135" width="5" fill="#1556a5"/><rect x="140" width="5" fill="#1755a4"/><rect x="145" width="5" fill="#1854a3"/><rect x="150" width="5" fill="#1a52a1"/><rect x="155" width="5" fill="#1b51a0"/><rect x="160" width="5" fill="#1d509f"/><rect x="165" width="5" fill="#1f4e9e"/><rect x="170" width="5" fill="#224d9d"/><rect x="175" width="5" fill="#284c9d"/><rect x="180" width="5" fill="#2f4b9c"/><rect x="185" width="5" fill="#384a9c"/><rect x="190" width="5" fill="#434a9c"/><rect x="195" width="5" fill="#4e499c"/><rect x="200" width="5" fill="#59489c"/><rect x="205" width="5" fill="#63479c"/><rect x="210" width="5" fill="#6d469c"/><rect x="215" width="5" fill="#76449b"/><rect x="220" width="5" fill="#7e439b"/><rect x="225" width="5" fill="#87429a"/><rect x="230" width="5" fill="#8f4099"/><rect x="235" width="5" fill="#993e98"/><rect x="240" width="5" fill="#a33c97"/><rect x="245" width="5" fill="#ad3a95"/><rect x="250" width="5" fill="#b63893"/><rect x="255" width="5" fill="#bf3591"/><rect x="260" width="5" fill="#c7338f"/><rect x="265" width="5" fill="#ce308e"/><rect x="270" width="5" fill="#d42d8c"/><rect x="275" width="5" fill="#d8298a"/><rect x="280" width="5" fill="#db2688"/><rect x="285" width="5" fill="#dc2386"/><rect x="290" width="5" fill="#de2084"/><rect x="295" width="5" fill="#df1d82"/><rect x="300" width="5" fill="#df1b81"/><rect x="305" width="5" fill="#e01980"/><rect x="310" width="5" fill="#e01780"/><rect x="315" width="5" fill="#e0167f"/><rect x="320" width="5" fill="#df157f"/><rect x="325" width="5" fill="#df147e"/><rect x="330" width="5" fill="#df137e"/><rect x="335" width="5" fill="#df137d"/><rect x="340" width="5" fill="#df127d"/><rect x="345" width="5" fill="#df117c"/><rect x="350" width="5" fill="#df117b"/><rect x="355" width="5" fill="#df107a"/><rect x="360" width="5" fill="#df1078"/><rect x="365" width="5" fill="#df0f76"/><rect x="370" width="5" fill="#df0f74"/><rect x="375" width="5" fill="#df0e72"/><rect x="380" width="5" fill="#df0e70"/><rect x="385" width="5" fill="#df0d6d"/><rect x="390" width="5" fill="#df0d6b"/><rect x="395" width="5" fill="#df0c68"/><rect x="400" width="5" fill="#df0c66"/><rect x="405" width="5" fill="#df0c63"/><rect x="410" width="5" fill="#e00c61"/><rect x="415" width="5" fill="#e00b5e"/><rect x="420" width="5" fill="#e00b5b"/><rect x="425" width="5" fill="#e00b59"/><rect x="430" width="5" fill="#e00b56"/><rect x="435" width="5" fill="#e00b54"/><rect x="440" width="5" fill="#e00b52"/><rect x="445" width="5" fill="#e00b4f"/><rect x="450" width="5" fill="#e00b4d"/><rect x="455" width="5" fill="#e00b4b"/><rect x="460" width="5" fill="#e00b49"/><rect x="465" width="5" fill="#e10c47"/><rect x="470" width="5" fill="#e10c45"/><rect x="475" width="5" fill="#e10d44"/><rect x="480" width="5" fill="#e10d42"/></g>
<g transform="translate(0,525)"><rect x="90" width="5" fill="#085ead"/><rect x="95" width="5" fill="#095dac"/><rect x="100" width="5" fill="#0a5cab"/><rect x="105" width="5" fill="#0b5bab"/><rect x="110" width="5" fill="#0c5aaa"/><rect x="115" width="5" fill="#0e59a9"/><rect x="120" width="5" fill="#0f58a8"/><rect x="125" width="5" fill="#1157a7"/><rect x="130" width="5" fill="#1256a6"/><rect x="135" width="5" fill="#1455a4"/><rect x="140" width="5" fill="#1653a3"/><rect x="145" width="5" fill="#1752a2"/><rect x="150" width="5" fill="#1951a0"/><rect x="155" width="5" fill="#1a4f9f"/><rect x="160" width="5" fill="#1c4e9e"/><rect x="165" width="5" fill="#1e4d9d"/><rect x="170" width="5" fill="#224c9c"/><rect x="175" width="5" fill="#274b9c"/><rect x="180" width="5" fill="#2e4a9b"/><rect x="185" width="5" fill="#37499b"/><rect x="190" width="5" fill="#41499c"/><rect x="195" width="5" fill="#4c489c"/><rect x="200" width="5" fill="#57479c"/><rect x="205" width="5" fill="#61469c"/><rect x="210" width="5" fill="#6b459b"/><rect x="215" width="5" fill="#74449b"/><rect x="220" width="5" fill="#7d429a"/><rect x="225" width="5" fill="#85419a"/><rect x="230" width="5" fill="#8e4099"/><rect x="235" width="5" fill="#973e98"/><rect x="240" width="5" fill="#a13c96"/><rect x="245" width="5" fill="#ab3a95"/><rect x="250" width="5" fill="#b53893"/><rect x="255" width="5" fill="#be3691"/><rect x="260" width="5" fill="#c53390"/><rect x="265" width="5" fill="#cc308e"/><rect x="270" width="5" fill="#d22d8c"/><rect x="275" width="5" fill="#d62a8b"/><rect x="280" width="5" fill="#d82789"/><rect x="285" width="5" fill="#da2487"/><rect x="290" width="5" fill="#db2185"/><rect x="295" width="5" fill="#dc1e83"/><rect x="300" width="5" fill="#dd1c82"/><rect x="305" width="5" fill="#dd1a81"/><rect x="310" width="5" fill="#de1880"/><rect x="315" width="5" fill="#de1780"/><rect x="320" width="5" fill="#de167f"/><rect x="325" width="10" fill="#de147e"/><rect x="335" width="5" fill="#de137d"/><rect x="340" width="5" fill="#de127c"/><rect x="345" width="5" fill="#de117c"/><rect x="350" width="5" fill="#de117b"/><rect x="355" width="5" fill="#de1079"/><rect x="360" width="5" fill="#de1078"/><rect x="365" width="5" fill="#de0f76"/><rect x="370" width="5" fill="#de0e74"/><rect x="375" width="5" fill="#de0e72"/><rect x="380" width="5" fill="#de0d70"/><rect x="385" width="5" fill="#de0d6e"/><rect x="390" width="5" fill="#de0c6b"/><rect x="395" width="5" fill="#de0c69"/><rect x="400" width="5" fill="#de0c66"/><rect x="405" width="5" fill="#df0b64"/><rect x="410" width="5" fill="#df0b61"/><rect x="415" width="5" fill="#df0b5f"/><rect x="420" width="5" fill="#df0b5c"/><rect x="425" width="5" fill="#df0b5a"/><rect x="430" width="5" fill="#df0b57"/><rect x="435" width="5" fill="#df0a55"/><rect x="440" width="5" fill="#df0a53"/><rect x="445" width="5" fill="#df0a50"/><rect x="450" width="5" fill="#df0b4e"/><rect x="455" width="5" fill="#e00b4c"/><rect x="460" width="5" fill="#e00b4a"/><rect x="465" width="5" fill="#e00b48"/><rect x="470" width="5" fill="#e00c47"/><rect x="475" width="5" fill="#e00c45"/><rect x="480" width="5" fill="#e00c43"/></g>
<g transform="translate(0,530)"><rect x="90" width="5" fill="#075cac"/><rect x="95" width="5" fill="#085cab"/><rect x="100" width="5" fill="#0a5baa"/><rect x="105" width="5" fill="#0b5aaa"/><rect x="110" width="5" fill="#0c59a9"/><rect x="115" width="5" fill="#0d58a8"/><rect x="120" width="5" fill="#0f57a7"/><rect x="125" width="5" fill="#1056a6"/><rect x="130" width="5" fill="#1254a5"/><rect x="135" width="5" fill="#1353a3"/><rect x="140" width="5" fill="#1552a2"/><rect x="145" width="5" fill="#1651a1"/><rect x="150" width="5" fill="#184fa0"/><rect x="155" width="5" fill="#1a4e9e"/><rect x="160" width="5" fill="#1b4d9d"/><rect x="165" width="5" fill="#1e4c9c"/><rect x="170" width="5" fill="#214a9b"/><rect x="175" width="5" fill="#264a9b"/><rect x="180" width="5" fill="#2c499b"/><rect x="185" width="5" fill="#35499b"/><rect x="190" width="5" fill="#3e489b"/><rect x="195" width="5" fill="#49489b"/><rect x="200" width="5" fill="#54479c"/><rect x="205" width="5" fill="#5f469b"/><rect x="210" width="5" fill="#69459b"/><rect x="215" width="5" fill="#72439b"/><rect x="220" width="5" fill="#7b429a"/><rect x="225" width="5" fill="#834199"/><rect x="230" width="5" fill="#8c3f99"/><rect x="235" width="5" fill="#953e98"/><rect x="240" width="5" fill="#9f3c96"/><rect x="245" width="5" fill="#aa3b95"/><rect x="250" width="5" fill="#b43993"/><rect x="255" width="5" fill="#bc3691"/><rect x="260" width="5" fill="#c33390"/><rect x="265" width="5" fill="#c9308e"/><rect x="270" width="5" fill="#cf2e8d"/><rect x="275" width="5" fill="#d32b8b"/><rect x="280" width="5" fill="#d52789"/><rect x="285" width="5" fill="#d72487"/><rect x="290" width="5" fill="#d82285"/><rect x="295" width="5" fill="#d91f84"/><rect x="300" width="5" fill="#da1d83"/><rect x="305" width="5" fill="#db1b82"/><rect x="310" width="5" fill="#db1981"/><rect x="315" width="5" fill="#db1780"/><rect x="320" width="5" fill="#dc167f"/><rect x="325" width="5" fill="#dc157f"/><rect x="330" width="5" fill="#dc147e"/><rect x="335" width="5" fill="#dc137d"/><rect x="340" width="5" fill="#dc127c"/><rect x="345" width="5" fill="#dc127b"/><rect x="350" width="5" fill="#dc117a"/><rect x="355" width="5" fill="#dc1079"/><rect x="360" width="5" fill="#dc0f77"/><rect x="365" width="5" fill="#dd0f76"/><rect x="370" width="5" fill="#dd0e74"/><rect x="375" width="5" fill="#dd0e72"/><rect x="380" width="5" fill="#dd0d70"/><rect x="385" width="5" fill="#dd0d6e"/><rect x="390" width="5" fill="#dd0c6b"/><rect x="395" width="5" fill="#dd0c69"/><rect x="400" width="5" fill="#dd0b67"/><rect x="405" width="5" fill="#de0b64"/><rect x="410" width="5" fill="#de0b62"/><rect x="415" width="5" fill="#de0b5f"/><rect x="420" width="5" fill="#de0a5d"/><rect x="425" width="5" fill="#de0a5b"/><rect x="430" width="5" fill="#de0a58"/><rect x="435" width="5" fill="#de0a56"/><rect x="440" width="5" fill="#de0a54"/><rect x="445" width="5" fill="#de0a52"/><rect x="450" width="5" fill="#df0a50"/><rect x="455" width="5" fill="#df0a4e"/><rect x="460" width="5" fill="#df0b4c"/><rect x="465" width="5" fill="#df0b4a"/><rect x="470" width="5" fill="#df0b48"/><rect x="475" width="5" fill="#df0b46"/><rect x="480" width="5" fill="#df0c45"/></g>
<g transform="translate(0,535)"><rect x="90" width="5" fill="#075bab"/><rect x="95" width="5" fill="#085aaa"/><rect x="100" width="5" fill="#0959a9"/><rect x="105" width="5" fill="#0a58a9"/><rect x="110" width="5" fill="#0c57a8"/><rect x="115" width="5" fill="#0d56a7"/><rect x="120" width="5" fill="#0e55a6"/><rect x="125" width="5" fill="#1054a5"/><rect x="130" width="5" fill="#1153a4"/><rect x="135" width="5" fill="#1252a2"/><rect x="140" width="5" fill="#1451a1"/><rect x="145" width="5" fill="#164fa0"/><rect x="150" width="5" fill="#174e9f"/><rect x="155" width="5" fill="#194d9e"/><rect x="160" width="5" fill="#1b4b9d"/><rect x="165" width="5" fill="#1d4a9c"/><rect x="170" width="5" fill="#1f499b"/><rect x="175" width="5" fill="#24489a"/><rect x="180" width="5" fill="#2a489a"/><rect x="185" width="5" fill="#32489a"/><rect x="190" width="5" fill="#3b489b"/><rect x="195" width="5" fill="#46489b"/><rect x="200" width="5" fill="#51479b"/><rect x="205" width="5" fill="#5c469b"/><rect x="210" width="5" fill="#66449b"/><rect x="215" width="5" fill="#70439a"/><rect x="220" width="5" fill="#78419a"/><rect x="225" width="5" fill="#814099"/><rect x="230" width="5" fill="#893f98"/><rect x="235" width="5" fill="#933d97"/><rect x="240" width="5" fill="#9c3c96"/><rect x="245" width="5" fill="#a73a94"/><rect x="250" width="5" fill="#b13993"/><rect x="255" width="5" fill="#b93691"/><rect x="260" width="5" fill="#bf3390"/><rect x="265" width="5" fill="#c5308e"/><rect x="270" width="5" fill="#ca2e8d"/><rect x="275" width="5" fill="#ce2b8b"/><rect x="280" width="5" fill="#d12889"/><rect x="285" width="5" fill="#d32588"/><rect x="290" width="5" fill="#d52286"/><rect x="295" width="5" fill="#d62085"/><rect x="300" width="5" fill="#d71d83"/><rect x="305" width="5" fill="#d81b82"/><rect x="310" width="5" fill="#d81a81"/><rect x="315" width="5" fill="#d91880"/><rect x="320" width="5" fill="#d9177f"/><rect x="325" width="5" fill="#da157f"/><rect x="330" width="5" fill="#da147e"/><rect x="335" width="5" fill="#da137d"/><rect x="340" width="5" fill="#da127c"/><rect x="345" width="5" fill="#da127b"/><rect x="350" width="5" fill="#db117a"/><rect x="355" width="5" fill="#db1078"/><rect x="360" width="5" fill="#db0f77"/><rect x="365" width="5" fill="#db0f75"/><rect x="370" width="5" fill="#db0e74"/><rect x="375" width="5" fill="#db0e72"/><rect x="380" width="5" fill="#dc0d70"/><rect x="385" width="5" fill="#dc0c6e"/><rect x="390" width="5" fill="#dc0c6b"/><rect x="395" width="5" fill="#dc0c69"/><rect x="400" width="5" fill="#dc0b67"/><rect x="405" width="5" fill="#dc0b65"/><rect x="410" width="5" fill="#dd0b62"/><rect x="415" width="5" fill="#dd0a60"/><rect x="420" width="5" fill="#dd0a5e"/><rect x="425" width="5" fill="#dd0a5b"/><rect x="430" width="5" fill="#dd0a59"/><rect x="435" width="5" fill="#dd0a57"/><rect x="440" width="5" fill="#dd0a55"/><rect x="445" width="5" fill="#de0a53"/><rect x="450" width="5" fill="#de0a51"/><rect x="455" width="5" fill="#de0a4f"/><rect x="460" width="5" fill="#de0a4d"/><rect x="465" width="5" fill="#de0a4b"/><rect x="470" width="5" fill="#de0b49"/><rect x="475" width="5" fill="#df0b47"/><rect x="480" width="5" fill="#df0b46"/></g>
<g transform="translate(0,540)"><rect x="90" width="5" fill="#075aaa"/><rect x="95" width="5" fill="#0859a9"/><rect x="100" width="5" fill="#0958a9"/><rect x="105" width="5" fill="#0a57a8"/><rect x="110" width="5" fill="#0b56a7"/><rect x="115" width="5" fill="#0c55a6"/><rect x="120" width="5" fill="#0e54a5"/><rect x="125" width="5" fill="#0f53a4"/><rect x="130" width="5" fill="#1052a3"/><rect x="135" width="5" fill="#1251a2"/><rect x="140" width="5" fill="#134fa1"/><rect x="145" width="5" fill="#154e9f"/><rect x="150" width="5" fill="#174d9e"/><rect x="155" width="5" fill="#184c9d"/><rect x="160" width="5" fill="#1a4a9c"/><rect x="165" width="5" fill="#1c499b"/><rect x="170" width="5" fill="#1f489a"/><rect x="175" width="5" fill="#23489a"/><rect x="180" width="5" fill="#28489a"/><rect x="185" width="5" fill="#2f489a"/><rect x="190" width="5" fill="#38489b"/><rect x="195" width="5" fill="#44489b"/><rect x="200" width="5" fill="#4f479c"/><rect x="205" width="5" fill="#59459b"/><rect x="210" width="5" fill="#64439b"/><rect x="215" width="5" fill="#6d429a"/><rect x="220" width="5" fill="#754199"/><rect x="225" width="5" fill="#7e4099"/><rect x="230" width="5" fill="#863e98"/><rect x="235" width="5" fill="#8f3d97"/><rect x="240" width="5" fill="#993b96"/><rect x="245" width="5" fill="#a23a94"/><rect x="250" width="5" fill="#ac3893"/><rect x="255" width="5" fill="#b43691"/><rect x="260" width="5" fill="#ba3390"/><rect x="265" width="5" fill="#c0308e"/><rect x="270" width="5" fill="#c52d8d"/><rect x="275" width="5" fill="#c92b8b"/><rect x="280" width="5" fill="#cc288a"/><rect x="285" width="5" fill="#cf2588"/><rect x="290" width="5" fill="#d12386"/><rect x="295" width="5" fill="#d22085"/><rect x="300" width="5" fill="#d41e84"/><rect x="305" width="5" fill="#d51c83"/><rect x="310" width="5" fill="#d51a81"/><rect x="315" width="5" fill="#d61981"/><rect x="320" width="5" fill="#d71780"/><rect x="325" width="5" fill="#d7167f"/><rect x="330" width="5" fill="#d8157e"/><rect x="335" width="5" fill="#d8147d"/><rect x="340" width="5" fill="#d8137c"/><rect x="345" width="5" fill="#d9127b"/><rect x="350" width="5" fill="#d9117a"/><rect x="355" width="5" fill="#d91078"/><rect x="360" width="5" fill="#d90f77"/><rect x="365" width="5" fill="#da0f75"/><rect x="370" width="5" fill="#da0e73"/><rect x="375" width="5" fill="#da0d72"/><rect x="380" width="5" fill="#da0d70"/><rect x="385" width="5" fill="#da0c6e"/><rect x="390" width="5" fill="#db0c6c"/><rect x="395" width="5" fill="#db0b69"/><rect x="400" width="5" fill="#db0b67"/><rect x="405" width="5" fill="#db0b65"/><rect x="410" width="5" fill="#db0a63"/><rect x="415" width="5" fill="#dc0a61"/><rect x="420" width="5" fill="#dc0a5e"/><rect x="425" width="5" fill="#dc0a5c"/><rect x="430" width="5" fill="#dc0a5a"/><rect x="435" width="5" fill="#dc0958"/><rect x="440" width="5" fill="#dc0956"/><rect x="445" width="5" fill="#dd0954"/><rect x="450" width="5" fill="#dd0a52"/><rect x="455" width="5" fill="#dd0a50"/><rect x="460" width="5" fill="#dd0a4e"/><rect x="465" width="5" fill="#dd0a4c"/><rect x="470" width="5" fill="#de0a4a"/><rect x="475" width="5" fill="#de0b49"/><rect x="480" width="5" fill="#de0b47"/></g>
<g transform="translate(0,545)"><rect x="90" width="5" fill="#0758a9"/><rect x="95" width="5" fill="#0857a9"/><rect x="100" width="5" fill="#0957a8"/><rect x="105" width="5" fill="#0a56a7"/><rect x="110" width="5" fill="#0b55a6"/><rect x="115" width="5" fill="#0c54a5"/><rect x="120" width="5" fill="#0d53a4"/><rect x="125" width="5" fill="#0f52a3"/><rect x="130" width="5" fill="#1051a2"/><rect x="135" width="5" fill="#114fa1"/><rect x="140" width="5" fill="#134ea0"/><rect x="145" width="5" fill="#154d9f"/><rect x="150" width="5" fill="#164c9e"/><rect x="155" width="5" fill="#184b9d"/><rect x="160" width="5" fill="#1a4a9c"/><rect x="165" width="5" fill="#1d489b"/><rect x="170" width="5" fill="#1f489a"/><rect x="175" width="5" fill="#23479a"/><rect x="180" width="5" fill="#27479a"/><rect x="185" width="5" fill="#2d479a"/><rect x="190" width="5" fill="#35489b"/><rect x="195" width="5" fill="#3f489b"/><rect x="200" width="5" fill="#4a479b"/><rect x="205" width="5" fill="#54459b"/><rect x="210" width="5" fill="#5f439a"/><rect x="215" width="5" fill="#69419a"/><rect x="220" width="5" fill="#714099"/><rect x="225" width="5" fill="#793f98"/><rect x="230" width="5" fill="#823e98"/><rect x="235" width="5" fill="#8b3c97"/><rect x="240" width="5" fill="#943b95"/><rect x="245" width="5" fill="#9d3994"/><rect x="250" width="5" fill="#a63792"/><rect x="255" width="5" fill="#ae3591"/><rect x="260" width="5" fill="#b53290"/><rect x="265" width="5" fill="#bb308e"/><rect x="270" width="5" fill="#c02d8d"/><rect x="275" width="5" fill="#c42b8b"/><rect x="280" width="5" fill="#c7288a"/><rect x="285" width="5" fill="#ca2588"/><rect x="290" width="5" fill="#cc2387"/><rect x="295" width="5" fill="#ce2185"/><rect x="300" width="5" fill="#d01e84"/><rect x="305" width="5" fill="#d11c83"/><rect x="310" width="5" fill="#d21b82"/><rect x="315" width="5" fill="#d31981"/><rect x="320" width="5" fill="#d41880"/><rect x="325" width="5" fill="#d5167f"/><rect x="330" width="5" fill="#d5157e"/><rect x="335" width="5" fill="#d6147d"/><rect x="340" width="5" fill="#d6137c"/><rect x="345" width="5" fill="#d7127b"/><rect x="350" width="5" fill="#d71179"/><rect x="355" width="5" fill="#d71078"/><rect x="360" width="5" fill="#d80f76"/><rect x="365" width="5" fill="#d80f75"/><rect x="370" width="5" fill="#d80e73"/><rect x="375" width="5" fill="#d90d71"/><rect x="380" width="5" fill="#d90d70"/><rect x="385" width="5" fill="#d90c6e"/><rect x="390" width="5" fill="#d90c6c"/><rect x="395" width="5" fill="#da0b6a"/><rect x="400" width="5" fill="#da0b67"/><rect x="405" width="5" fill="#da0b65"/><rect x="410" width="5" fill="#da0a63"/><rect x="415" width="5" fill="#da0a61"/><rect x="420" width="5" fill="#db0a5f"/><rect x="425" width="5" fill="#db095d"/><rect x="430" width="5" fill="#db095b"/><rect x="435" width="5" fill="#db0959"/><rect x="440" width="5" fill="#db0957"/><rect x="445" width="5" fill="#dc0955"/><rect x="450" width="5" fill="#dc0953"/><rect x="455" width="5" fill="#dc0951"/><rect x="460" width="5" fill="#dc0a4f"/><rect x="465" width="5" fill="#dc0a4d"/><rect x="470" width="5" fill="#dd0a4b"/><rect x="475" width="5" fill="#dd0a4a"/><rect x="480" width="5" fill="#dd0b48"/></g>
<g transform="translate(0,550)"><rect x="90" width="5" fill="#0657a8"/><rect x="95" width="5" fill="#0756a8"/><rect x="100" width="5" fill="#0855a7"/><rect x="105" width="5" fill="#0a54a6"/><rect x="110" width="5" fill="#0b53a6"/><rect x="115" width="5" fill="#0c52a5"/><rect x="120" width="5" fill="#0d51a4"/><rect x="125" width="5" fill="#0e50a3"/><rect x="130" width="5" fill="#104fa2"/><rect x="135" width="5" fill="#114ea1"/><rect x="140" width="5" fill="#134da0"/><rect x="145" width="5" fill="#144c9e"/><rect x="150" width="5" fill="#164b9d"/><rect x="155" width="5" fill="#184a9c"/><rect x="160" width="5" fill="#1a499b"/><rect x="165" width="5" fill="#1d489a"/><rect x="170" width="5" fill="#20479a"/><rect x="175" width="5" fill="#22479a"/><rect x="180" width="5" fill="#26479a"/><rect x="185" width="5" fill="#2a479a"/><rect x="190" width="5" fill="#31479b"/><rect x="195" width="5" fill="#39479b"/><rect x="200" width="5" fill="#42469b"/><rect x="205" width="5" fill="#4d459a"/><rect x="210" width="5" fill="#58439a"/><rect x="215" width="5" fill="#624199"/><rect x="220" width="5" fill="#6b4099"/><rect x="225" width="5" fill="#753e98"/><rect x="230" width="5" fill="#7e3d97"/><rect x="235" width="5" fill="#873b96"/><rect x="240" width="5" fill="#903a95"/><rect x="245" width="5" fill="#983894"/><rect x="250" width="5" fill="#a13692"/><rect x="255" width="5" fill="#a83491"/><rect x="260" width="5" fill="#af328f"/><rect x="265" width="5" fill="#b52f8e"/><rect x="270" width="5" fill="#ba2d8d"/><rect x="275" width="5" fill="#bf2a8b"/><rect x="280" width="5" fill="#c2288a"/><rect x="285" width="5" fill="#c52588"/><rect x="290" width="5" fill="#c82387"/><rect x="295" width="5" fill="#ca2186"/><rect x="300" width="5" fill="#cc1f84"/><rect x="305" width="5" fill="#ce1d83"/><rect x="310" width="5" fill="#cf1b82"/><rect x="315" width="5" fill="#d01981"/><rect x="320" width="5" fill="#d11880"/><rect x="325" width="5" fill="#d2167f"/><rect x="330" width="5" fill="#d3157e"/><rect x="335" width="5" fill="#d3147d"/><rect x="340" width="5" fill="#d4137c"/><rect x="345" width="5" fill="#d4127a"/><rect x="350" width="5" fill="#d51179"/><rect x="355" width="5" fill="#d51078"/><rect x="360" width="5" fill="#d60f76"/><rect x="365" width="5" fill="#d60f75"/><rect x="370" width="5" fill="#d70e73"/><rect x="375" width="5" fill="#d70d71"/><rect x="380" width="5" fill="#d70d70"/><rect x="385" width="5" fill="#d80c6e"/><rect x="390" width="5" fill="#d80c6c"/><rect x="395" width="5" fill="#d80b6a"/><rect x="400" width="5" fill="#d80b68"/><rect x="405" width="5" fill="#d90a66"/><rect x="410" width="5" fill="#d90a64"/><rect x="415" width="5" fill="#d90a62"/><rect x="420" width="5" fill="#d90a60"/><rect x="425" width="5" fill="#da095d"/><rect x="430" width="5" fill="#da095b"/><rect x="435" width="5" fill="#da0959"/><rect x="440" width="5" fill="#da0957"/><rect x="445" width="5" fill="#db0956"/><rect x="450" width="5" fill="#db0954"/><rect x="455" width="5" fill="#db0952"/><rect x="460" width="5" fill="#db0950"/><rect x="465" width="5" fill="#dc094e"/><rect x="470" width="5" fill="#dc0a4d"/><rect x="475" width="5" fill="#dc0a4b"/><rect x="480" width="5" fill="#dc0a49"/></g>
<g transform="translate(0,555)"><rect x="90" width="5" fill="#0656a8"/><rect x="95" width="5" fill="#0755a7"/><rect x="100" width="5" fill="#0854a6"/><rect x="105" width="5" fill="#0953a6"/><rect x="110" width="5" fill="#0a52a5"/><rect x="115" width="5" fill="#0c51a4"/><rect x="120" width="5" fill="#0d50a3"/><rect x="125" width="5" fill="#0e4fa2"/><rect x="130" width="5" fill="#0f4ea1"/><rect x="135" width="5" fill="#114da0"/><rect x="140" width="5" fill="#124c9f"/><rect x="145" width="5" fill="#144b9e"/><rect x="150" width="5" fill="#164a9d"/><rect x="155" width="5" fill="#18499c"/><rect x="160" width="5" fill="#1a489b"/><rect x="165" width="5" fill="#1d479a"/><rect x="170" width="5" fill="#1f479a"/><rect x="175" width="5" fill="#21469a"/><rect x="180" width="5" fill="#24469a"/><rect x="185" width="5" fill="#27469a"/><rect x="190" width="5" fill="#2b469a"/><rect x="195" width="5" fill="#31469a"/><rect x="200" width="5" fill="#3a469a"/><rect x="205" width="5" fill="#45449a"/><rect x="210" width="5" fill="#504399"/><rect x="215" width="5" fill="#5b4199"/><rect x="220" width="5" fill="#663f98"/><rect x="225" width="5" fill="#6f3e97"/><rect x="230" width="5" fill="#793c96"/><rect x="235" width="5" fill="#823b96"/><rect x="240" width="5" fill="#8b3994"/><rect x="245" width="5" fill="#933793"/><rect x="250" width="5" fill="#9b3592"/><rect x="255" width="5" fill="#a33391"/><rect x="260" width="5" fill="#aa318f"/><rect x="265" width="5" fill="#b02f8e"/><rect x="270" width="5" fill="#b52c8d"/><rect x="275" width="5" fill="#b92a8b"/><rect x="280" width="5" fill="#bd288a"/><rect x="285" width="5" fill="#c12588"/><rect x="290" width="5" fill="#c42387"/><rect x="295" width="5" fill="#c62186"/><rect x="300" width="5" fill="#c81f85"/><rect x="305" width="5" fill="#ca1d83"/><rect x="310" width="5" fill="#cc1b82"/><rect x="315" width="5" fill="#cd1a81"/><rect x="320" width="5" fill="#ce1880"/><rect x="325" width="5" fill="#cf177f"/><rect x="330" width="5" fill="#d0157e"/><rect x="335" width="5" fill="#d1147d"/><rect x="340" width="5" fill="#d2137b"/><rect x="345" width="5" fill="#d2127a"/><rect x="350" width="5" fill="#d31179"/><rect x="355" width="5" fill="#d31078"/><rect x="360" width="5" fill="#d41076"/><rect x="365" width="5" fill="#d40f75"/><rect x="370" width="5" fill="#d50e73"/><rect x="375" width="5" fill="#d50d71"/><rect x="380" width="5" fill="#d60d70"/><rect x="385" width="5" fill="#d60c6e"/><rect x="390" width="5" fill="#d60c6c"/><rect x="395" width="5" fill="#d70b6a"/><rect x="400" width="5" fill="#d70b68"/><rect x="405" width="5" fill="#d70a66"/><rect x="410" width="5" fill="#d80a64"/><rect x="415" width="5" fill="#d80a62"/><rect x="420" width="5" fill="#d80960"/><rect x="425" width="5" fill="#d9095e"/><rect x="430" width="5" fill="#d9095c"/><rect x="435" width="5" fill="#d9095a"/><rect x="440" width="5" fill="#d90958"/><rect x="445" width="5" fill="#da0956"/><rect x="450" width="5" fill="#da0955"/><rect x="455" width="5" fill="#da0953"/><rect x="460" width="5" fill="#da0951"/><rect x="465" width="5" fill="#db094f"/><rect x="470" width="5" fill="#db094e"/><rect x="475" width="5" fill="#db0a4c"/><rect x="480" width="5" fill="#db0a4a"/></g>
<g transform="translate(0,560)"><rect x="90" width="5" fill="#0654a7"/><rect x="95" width="5" fill="#0754a6"/><rect x="100" width="5" fill="#0853a6"/><rect x="105" width="5" fill="#0952a5"/><rect x="110" width="5" fill="#0a51a4"/><rect x="115" width="5" fill="#0b50a3"/><rect x="120" width="5" fill="#0d4fa3"/><rect x="125" width="5" fill="#0e4ea2"/><rect x="130" width="5" fill="#0f4da1"/><rect x="135" width="5" fill="#114ca0"/><rect x="140" width="5" fill="#124b9f"/><rect x="145" width="5" fill="#144a9e"/><rect x="150" width="5" fill="#15499d"/><rect x="155" width="5" fill="#17489c"/><rect x="160" width="5" fill="#19489b"/><rect x="165" width="5" fill="#1c479b"/><rect x="170" width="5" fill="#1e469a"/><rect x="175" width="5" fill="#20469a"/><rect x="180" width="5" fill="#22459a"/><rect x="185" width="5" fill="#24469a"/><rect x="190" width="5" fill="#26469a"/><rect x="195" width="5" fill="#2a469a"/><rect x="200" width="5" fill="#32459a"/><rect x="205" width="5" fill="#3e449a"/><rect x="210" width="5" fill="#4a4299"/><rect x="215" width="5" fill="#564198"/><rect x="220" width="5" fill="#603f98"/><rect x="225" width="5" fill="#6a3d97"/><rect x="230" width="5" fill="#743c96"/><rect x="235" width="5" fill="#7d3a95"/><rect x="240" width="5" fill="#863894"/><rect x="245" width="5" fill="#8e3693"/><rect x="250" width="5" fill="#963592"/><rect x="255" width="5" fill="#9e3390"/><rect x="260" width="5" fill="#a4308f"/><rect x="265" width="5" fill="#aa2e8e"/><rect x="270" width="5" fill="#b02c8d"/><rect x="275" width="5" fill="#b42a8b"/><rect x="280" width="5" fill="#b8288a"/><rect x="285" width="5" fill="#bc2589"/><rect x="290" width="5" fill="#bf2387"/><rect x="295" width="5" fill="#c22186"/><rect x="300" width="5" fill="#c41f85"/><rect x="305" width="5" fill="#c61d83"/><rect x="310" width="5" fill="#c81c82"/><rect x="315" width="5" fill="#ca1a81"/><rect x="320" width="5" fill="#cb1880"/><rect x="325" width="5" fill="#cc177f"/><rect x="330" width="5" fill="#cd167e"/><rect x="335" width="5" fill="#ce157d"/><rect x="340" width="5" fill="#cf137b"/><rect x="345" width="5" fill="#d0127a"/><rect x="350" width="5" fill="#d11179"/><rect x="355" width="5" fill="#d11077"/><rect x="360" width="5" fill="#d21076"/><rect x="365" width="5" fill="#d20f75"/><rect x="370" width="5" fill="#d30e73"/><rect x="375" width="5" fill="#d30d71"/><rect x="380" width="5" fill="#d40d70"/><rect x="385" width="5" fill="#d40c6e"/><rect x="390" width="5" fill="#d50c6c"/><rect x="395" width="5" fill="#d50b6a"/><rect x="400" width="5" fill="#d60b68"/><rect x="405" width="5" fill="#d60a66"/><rect x="410" width="5" fill="#d60a64"/><rect x="415" width="5" fill="#d70a63"/><rect x="420" width="5" fill="#d70961"/><rect x="425" width="5" fill="#d7095f"/><rect x="430" width="5" fill="#d8095d"/><rect x="435" width="5" fill="#d8095b"/><rect x="440" width="5" fill="#d80959"/><rect x="445" width="5" fill="#d90957"/><rect x="450" width="5" fill="#d90955"/><rect x="455" width="5" fill="#d90954"/><rect x="460" width="5" fill="#d90952"/><rect x="465" width="5" fill="#da0950"/><rect x="470" width="5" fill="#da094f"/><rect x="475" width="5" fill="#da094d"/><rect x="480" width="5" fill="#da0a4b"/></g>
<g transform="translate(0,565)"><rect x="90" width="5" fill="#0653a7"/><rect x="95" width="5" fill="#0753a6"/><rect x="100" width="5" fill="#0852a5"/><rect x="105" width="5" fill="#0951a5"/><rect x="110" width="5" fill="#0a50a4"/><rect x="115" width="5" fill="#0b4fa3"/><rect x="120" width="5" fill="#0d4ea2"/><rect x="125" width="5" fill="#0e4da1"/><rect x="130" width="5" fill="#0f4ca0"/><rect x="135" width="5" fill="#104ba0"/><rect x="140" width="5" fill="#124b9f"/><rect x="145" width="5" fill="#134a9e"/><rect x="150" width="5" fill="#15499d"/><rect x="155" width="5" fill="#17489c"/><rect x="160" width="5" fill="#19479b"/><rect x="165" width="5" fill="#1b469b"/><rect x="170" width="5" fill="#1c469a"/><rect x="175" width="5" fill="#1e459a"/><rect x="180" width="5" fill="#20459a"/><rect x="185" width="5" fill="#22459a"/><rect x="190" width="5" fill="#24469a"/><rect x="195" width="5" fill="#26469a"/><rect x="200" width="5" fill="#2e459a"/><rect x="205" width="5" fill="#3a4399"/><rect x="210" width="5" fill="#464299"/><rect x="215" width="5" fill="#514098"/><rect x="220" width="5" fill="#5c3e97"/><rect x="225" width="5" fill="#663d96"/><rect x="230" width="5" fill="#703b96"/><rect x="235" width="5" fill="#793995"/><rect x="240" width="5" fill="#813794"/><rect x="245" width="5" fill="#8a3692"/><rect x="250" width="5" fill="#913491"/><rect x="255" width="5" fill="#993290"/><rect x="260" width="5" fill="#9f308f"/><rect x="265" width="5" fill="#a52e8e"/><rect x="270" width="5" fill="#ab2c8c"/><rect x="275" width="5" fill="#af298b"/><rect x="280" width="5" fill="#b4278a"/><rect x="285" width="5" fill="#b72589"/><rect x="290" width="5" fill="#bb2387"/><rect x="295" width="5" fill="#be2186"/><rect x="300" width="5" fill="#c01f85"/><rect x="305" width="5" fill="#c21d84"/><rect x="310" width="5" fill="#c41c82"/><rect x="315" width="5" fill="#c61a81"/><rect x="320" width="5" fill="#c81980"/><rect x="325" width="5" fill="#c9177f"/><rect x="330" width="5" fill="#ca167e"/><rect x="335" width="5" fill="#cc157d"/><rect x="340" width="5" fill="#cd147b"/><rect x="345" width="5" fill="#cd127a"/><rect x="350" width="5" fill="#ce1179"/><rect x="355" width="5" fill="#cf1177"/><rect x="360" width="5" fill="#d01076"/><rect x="365" width="5" fill="#d00f74"/><rect x="370" width="5" fill="#d10e73"/><rect x="375" width="5" fill="#d20d71"/><rect x="380" width="5" fill="#d20d70"/><rect x="385" width="5" fill="#d30c6e"/><rect x="390" width="5" fill="#d30c6c"/><rect x="395" width="5" fill="#d40b6a"/><rect x="400" width="5" fill="#d40b69"/><rect x="405" width="5" fill="#d50a67"/><rect x="410" width="5" fill="#d50a65"/><rect x="415" width="5" fill="#d50a63"/><rect x="420" width="5" fill="#d60961"/><rect x="425" width="5" fill="#d6095f"/><rect x="430" width="5" fill="#d6095d"/><rect x="435" width="5" fill="#d7095c"/><rect x="440" width="5" fill="#d7095a"/><rect x="445" width="5" fill="#d70958"/><rect x="450" width="5" fill="#d80956"/><rect x="455" width="5" fill="#d80954"/><rect x="460" width="5" fill="#d80953"/><rect x="465" width="5" fill="#d90951"/><rect x="470" width="5" fill="#d90950"/><rect x="475" width="5" fill="#d9094e"/><rect x="480" width="5" fill="#d9094c"/></g>
<g transform="translate(0,570)"><rect x="90" width="5" fill="#0652a6"/><rect x="95" width="5" fill="#0751a5"/><rect x="100" width="5" fill="#0851a5"/><rect x="105" width="5" fill="#0950a4"/><rect x="110" width="5" fill="#0a4fa3"/><rect x="115" width="5" fill="#0c4ea3"/><rect x="120" width="5" fill="#0d4da2"/><rect x="125" width="5" fill="#0e4ca1"/><rect x="130" width="5" fill="#0f4ca0"/><rect x="135" width="5" fill="#104b9f"/><rect x="140" width="5" fill="#124a9e"/><rect x="145" width="5" fill="#13499e"/><rect x="150" width="5" fill="#15489d"/><rect x="155" width="5" fill="#17479c"/><rect x="160" width="5" fill="#18479c"/><rect x="165" width="5" fill="#1a469b"/><rect x="170" width="5" fill="#1c459b"/><rect x="175" width="5" fill="#1d459a"/><rect x="180" width="5" fill="#1f459a"/><rect x="185" width="5" fill="#20459a"/><rect x="190" width="5" fill="#23459a"/><rect x="195" width="5" fill="#27459a"/><rect x="200" width="5" fill="#2f4499"/><rect x="205" width="5" fill="#394299"/><rect x="210" width="5" fill="#434198"/><rect x="215" width="5" fill="#4e3f98"/><rect x="220" width="5" fill="#583d97"/><rect x="225" width="5" fill="#623c96"/><rect x="230" width="5" fill="#6c3a95"/><rect x="235" width="5" fill="#753894"/><rect x="240" width="5" fill="#7d3793"/><rect x="245" width="5" fill="#853592"/><rect x="250" width="5" fill="#8d3391"/><rect x="255" width="5" fill="#943190"/><rect x="260" width="5" fill="#9a2f8f"/><rect x="265" width="5" fill="#a02d8d"/><rect x="270" width="5" fill="#a62b8c"/><rect x="275" width="5" fill="#ab298b"/><rect x="280" width="5" fill="#af278a"/><rect x="285" width="5" fill="#b32589"/><rect x="290" width="5" fill="#b62387"/><rect x="295" width="5" fill="#ba2186"/><rect x="300" width="5" fill="#bc1f85"/><rect x="305" width="5" fill="#bf1e84"/><rect x="310" width="5" fill="#c11c82"/><rect x="315" width="5" fill="#c31a81"/><rect x="320" width="5" fill="#c51980"/><rect x="325" width="5" fill="#c6177f"/><rect x="330" width="5" fill="#c8167e"/><rect x="335" width="5" fill="#c9157d"/><rect x="340" width="5" fill="#ca147b"/><rect x="345" width="5" fill="#cb137a"/><rect x="350" width="5" fill="#cc1279"/><rect x="355" width="5" fill="#cd1177"/><rect x="360" width="5" fill="#ce1076"/><rect x="365" width="5" fill="#ce0f74"/><rect x="370" width="5" fill="#cf0e73"/><rect x="375" width="5" fill="#d00d71"/><rect x="380" width="5" fill="#d00d70"/><rect x="385" width="5" fill="#d10c6e"/><rect x="390" width="5" fill="#d20c6c"/><rect x="395" width="5" fill="#d20b6b"/><rect x="400" width="5" fill="#d30b69"/><rect x="405" width="5" fill="#d30a67"/><rect x="410" width="5" fill="#d30a65"/><rect x="415" width="5" fill="#d40963"/><rect x="420" width="5" fill="#d40962"/><rect x="425" width="5" fill="#d50960"/><rect x="430" width="5" fill="#d5095e"/><rect x="435" width="5" fill="#d6095c"/><rect x="440" width="5" fill="#d6095a"/><rect x="445" width="5" fill="#d60859"/><rect x="450" width="5" fill="#d70857"/><rect x="455" width="5" fill="#d70855"/><rect x="460" width="5" fill="#d70954"/><rect x="465" width="5" fill="#d80952"/><rect x="470" width="5" fill="#d80950"/><rect x="475" width="5" fill="#d8094f"/><rect x="480" width="5" fill="#d8094d"/></g>
<g transform="translate(0,575)"><rect x="90" width="5" fill="#0751a5"/><rect x="95" width="5" fill="#0750a5"/><rect x="100" width="5" fill="#0850a4"/><rect x="105" width="5" fill="#094fa4"/><rect x="110" width="5" fill="#0b4ea3"/><rect x="115" width="5" fill="#0c4da2"/><rect x="120" width="5" fill="#0d4ca1"/><rect x="125" width="5" fill="#0e4ba1"/><rect x="130" width="5" fill="#0f4ba0"/><rect x="135" width="5" fill="#114a9f"/><rect x="140" width="5" fill="#12499e"/><rect x="145" width="5" fill="#13489e"/><rect x="150" width="5" fill="#15479d"/><rect x="155" width="5" fill="#17479c"/><rect x="160" width="5" fill="#18469c"/><rect x="165" width="5" fill="#1a459b"/><rect x="170" width="5" fill="#1b459b"/><rect x="175" width="5" fill="#1d459a"/><rect x="180" width="5" fill="#1f449a"/><rect x="185" width="5" fill="#21449a"/><rect x="190" width="5" fill="#24449a"/><rect x="195" width="5" fill="#294399"/><rect x="200" width="5" fill="#304299"/><rect x="205" width="5" fill="#394198"/><rect x="210" width="5" fill="#424098"/><rect x="215" width="5" fill="#4c3e97"/><rect x="220" width="5" fill="#563d96"/><rect x="225" width="5" fill="#5f3b96"/><rect x="230" width="5" fill="#683995"/><rect x="235" width="5" fill="#713894"/><rect x="240" width="5" fill="#793693"/><rect x="245" width="5" fill="#813492"/><rect x="250" width="5" fill="#893291"/><rect x="255" width="5" fill="#8f3090"/><rect x="260" width="5" fill="#962f8e"/><rect x="265" width="5" fill="#9c2d8d"/><rect x="270" width="5" fill="#a12b8c"/><rect x="275" width="5" fill="#a6298b"/><rect x="280" width="5" fill="#ab278a"/><rect x="285" width="5" fill="#af2588"/><rect x="290" width="5" fill="#b22387"/><rect x="295" width="5" fill="#b62186"/><rect x="300" width="5" fill="#b81f85"/><rect x="305" width="5" fill="#bb1e84"/><rect x="310" width="5" fill="#bd1c82"/><rect x="315" width="5" fill="#c01a81"/><rect x="320" width="5" fill="#c11980"/><rect x="325" width="5" fill="#c3187f"/><rect x="330" width="5" fill="#c5167e"/><rect x="335" width="5" fill="#c6157c"/><rect x="340" width="5" fill="#c7147b"/><rect x="345" width="5" fill="#c8137a"/><rect x="350" width="5" fill="#ca1279"/><rect x="355" width="5" fill="#cb1177"/><rect x="360" width="5" fill="#cb1076"/><rect x="365" width="5" fill="#cc0f74"/><rect x="370" width="5" fill="#cd0e73"/><rect x="375" width="5" fill="#ce0e71"/><rect x="380" width="5" fill="#cf0d70"/><rect x="385" width="5" fill="#cf0c6e"/><rect x="390" width="5" fill="#d00c6d"/><rect x="395" width="5" fill="#d00b6b"/><rect x="400" width="5" fill="#d10b69"/><rect x="405" width="5" fill="#d20a67"/><rect x="410" width="5" fill="#d20a66"/><rect x="415" width="5" fill="#d20964"/><rect x="420" width="5" fill="#d30962"/><rect x="425" width="5" fill="#d30960"/><rect x="430" width="5" fill="#d4095f"/><rect x="435" width="5" fill="#d4095d"/><rect x="440" width="5" fill="#d5085b"/><rect x="445" width="5" fill="#d50859"/><rect x="450" width="5" fill="#d50858"/><rect x="455" width="5" fill="#d60856"/><rect x="460" width="5" fill="#d60854"/><rect x="465" width="5" fill="#d60953"/><rect x="470" width="5" fill="#d70951"/><rect x="475" width="5" fill="#d70950"/><rect x="480" width="5" fill="#d7094e"/></g>
<g transform="translate(0,580)"><rect x="90" width="5" fill="#0750a5"/><rect x="95" width="5" fill="#084fa4"/><rect x="100" width="5" fill="#094fa4"/><rect x="105" width="5" fill="#0a4ea3"/><rect x="110" width="5" fill="#0b4da2"/><rect x="115" width="5" fill="#0c4ca2"/><rect x="120" width="5" fill="#0d4ba1"/><rect x="125" width="5" fill="#0e4ba0"/><rect x="130" width="5" fill="#104aa0"/><rect x="135" width="5" fill="#11499f"/><rect x="140" width="5" fill="#12489e"/><rect x="145" width="5" fill="#14479d"/><rect x="150" width="5" fill="#15479d"/><rect x="155" width="5" fill="#17469c"/><rect x="160" width="5" fill="#18459c"/><rect x="165" width="5" fill="#1a459b"/><rect x="170" width="5" fill="#1c449b"/><rect x="175" width="5" fill="#1e449a"/><rect x="180" width="5" fill="#20449a"/><rect x="185" width="5" fill="#22439a"/><rect x="190" width="5" fill="#264399"/><rect x="195" width="5" fill="#2b4299"/><rect x="200" width="5" fill="#324198"/><rect x="205" width="5" fill="#394098"/><rect x="210" width="5" fill="#423f97"/><rect x="215" width="5" fill="#4b3d97"/><rect x="220" width="5" fill="#543c96"/><rect x="225" width="5" fill="#5d3a95"/><rect x="230" width="5" fill="#663894"/><rect x="235" width="5" fill="#6e3793"/><rect x="240" width="5" fill="#763592"/><rect x="245" width="5" fill="#7d3391"/><rect x="250" width="5" fill="#853290"/><rect x="255" width="5" fill="#8b308f"/><rect x="260" width="5" fill="#922e8e"/><rect x="265" width="5" fill="#982c8d"/><rect x="270" width="5" fill="#9d2a8c"/><rect x="275" width="5" fill="#a2288b"/><rect x="280" width="5" fill="#a6268a"/><rect x="285" width="5" fill="#ab2588"/><rect x="290" width="5" fill="#ae2387"/><rect x="295" width="5" fill="#b22186"/><rect x="300" width="5" fill="#b51f85"/><rect x="305" width="5" fill="#b71e84"/><rect x="310" width="5" fill="#ba1c82"/><rect x="315" width="5" fill="#bc1a81"/><rect x="320" width="5" fill="#be1980"/><rect x="325" width="5" fill="#c0187f"/><rect x="330" width="5" fill="#c2167e"/><rect x="335" width="5" fill="#c3157c"/><rect x="340" width="5" fill="#c5147b"/><rect x="345" width="5" fill="#c6137a"/><rect x="350" width="5" fill="#c71279"/><rect x="355" width="5" fill="#c81177"/><rect x="360" width="5" fill="#c91076"/><rect x="365" width="5" fill="#ca0f74"/><rect x="370" width="5" fill="#cb0e73"/><rect x="375" width="5" fill="#cc0e71"/><rect x="380" width="5" fill="#cd0d70"/><rect x="385" width="5" fill="#cd0c6e"/><rect x="390" width="5" fill="#ce0c6d"/><rect x="395" width="5" fill="#cf0b6b"/><rect x="400" width="5" fill="#cf0b69"/><rect x="405" width="5" fill="#d00a68"/><rect x="410" width="5" fill="#d10a66"/><rect x="415" width="5" fill="#d10964"/><rect x="420" width="5" fill="#d20963"/><rect x="425" width="5" fill="#d20961"/><rect x="430" width="5" fill="#d2095f"/><rect x="435" width="5" fill="#d3095d"/><rect x="440" width="5" fill="#d3085c"/><rect x="445" width="5" fill="#d4085a"/><rect x="450" width="5" fill="#d40858"/><rect x="455" width="5" fill="#d50857"/><rect x="460" width="5" fill="#d50855"/><rect x="465" width="5" fill="#d50854"/><rect x="470" width="5" fill="#d60952"/><rect x="475" width="5" fill="#d60951"/><rect x="480" width="5" fill="#d6094f"/></g>
<g transform="translate(0,585)"><rect x="90" width="5" fill="#074fa5"/><rect x="95" width="5" fill="#084ea4"/><rect x="100" width="5" fill="#094ea3"/><rect x="105" width="5" fill="#0a4da3"/><rect x="110" width="5" fill="#0b4ca2"/><rect x="115" width="5" fill="#0c4ba1"/><rect x="120" width="5" fill="#0d4ba1"/><rect x="125" width="5" fill="#0f4aa0"/><rect x="130" width="5" fill="#10499f"/><rect x="135" width="5" fill="#11489f"/><rect x="140" width="5" fill="#13479e"/><rect x="145" width="5" fill="#14479d"/><rect x="150" width="5" fill="#16469d"/><rect x="155" width="5" fill="#17459c"/><rect x="160" width="5" fill="#19459b"/><rect x="165" width="5" fill="#1b449b"/><rect x="170" width="5" fill="#1d449b"/><rect x="175" width="5" fill="#1f439a"/><rect x="180" width="5" fill="#21439a"/><rect x="185" width="5" fill="#244299"/><rect x="190" width="5" fill="#284299"/><rect x="195" width="5" fill="#2d4199"/><rect x="200" width="5" fill="#334098"/><rect x="205" width="5" fill="#3a3f98"/><rect x="210" width="5" fill="#423e97"/><rect x="215" width="5" fill="#4a3c96"/><rect x="220" width="5" fill="#533b96"/><rect x="225" width="5" fill="#5b3995"/><rect x="230" width="5" fill="#633894"/><rect x="235" width="5" fill="#6b3693"/><rect x="240" width="5" fill="#733492"/><rect x="245" width="5" fill="#7a3391"/><rect x="250" width="5" fill="#813190"/><rect x="255" width="5" fill="#882f8f"/><rect x="260" width="5" fill="#8e2d8e"/><rect x="265" width="5" fill="#942c8d"/><rect x="270" width="5" fill="#992a8c"/><rect x="275" width="5" fill="#9e288b"/><rect x="280" width="5" fill="#a22689"/><rect x="285" width="5" fill="#a72488"/><rect x="290" width="5" fill="#aa2387"/><rect x="295" width="5" fill="#ae2186"/><rect x="300" width="5" fill="#b11f85"/><rect x="305" width="5" fill="#b41e84"/><rect x="310" width="5" fill="#b71c82"/><rect x="315" width="5" fill="#b91b81"/><rect x="320" width="5" fill="#bb1980"/><rect x="325" width="5" fill="#bd187f"/><rect x="330" width="5" fill="#bf167e"/><rect x="335" width="5" fill="#c1157c"/><rect x="340" width="5" fill="#c2147b"/><rect x="345" width="5" fill="#c3137a"/><rect x="350" width="5" fill="#c51279"/><rect x="355" width="5" fill="#c61177"/><rect x="360" width="5" fill="#c71076"/><rect x="365" width="5" fill="#c80f74"/><rect x="370" width="5" fill="#c90e73"/><rect x="375" width="5" fill="#ca0e72"/><rect x="380" width="5" fill="#cb0d70"/><rect x="385" width="5" fill="#cc0c6e"/><rect x="390" width="5" fill="#cc0c6d"/><rect x="395" width="5" fill="#cd0b6b"/><rect x="400" width="5" fill="#ce0b6a"/><rect x="405" width="5" fill="#ce0a68"/><rect x="410" width="5" fill="#cf0a66"/><rect x="415" width="5" fill="#d00a65"/><rect x="420" width="5" fill="#d00963"/><rect x="425" width="5" fill="#d10961"/><rect x="430" width="5" fill="#d10960"/><rect x="435" width="5" fill="#d2095e"/><rect x="440" width="5" fill="#d2085c"/><rect x="445" width="5" fill="#d3085b"/><rect x="450" width="5" fill="#d30859"/><rect x="455" width="5" fill="#d30858"/><rect x="460" width="5" fill="#d40856"/><rect x="465" width="5" fill="#d40854"/><rect x="470" width="5" fill="#d50853"/><rect x="475" width="5" fill="#d50952"/><rect x="480" width="5" fill="#d50950"/></g>
<g transform="translate(0,590)"><rect x="90" width="5" fill="#074ea4"/><rect x="95" width="5" fill="#084da4"/><rect x="100" width="5" fill="#094da3"/><rect x="105" width="5" fill="#0a4ca2"/><rect x="110" width="5" fill="#0b4ba2"/><rect x="115" width="5" fill="#0d4aa1"/><rect x="120" width="5" fill="#0e4aa0"/><rect x="125" width="5" fill="#0f49a0"/><rect x="130" width="5" fill="#10489f"/><rect x="135" width="5" fill="#12479e"/><rect x="140" width="5" fill="#13479e"/><rect x="145" width="5" fill="#15469d"/><rect x="150" width="5" fill="#16459d"/><rect x="155" width="5" fill="#18459c"/><rect x="160" width="5" fill="#1a449b"/><rect x="165" width="5" fill="#1c439b"/><rect x="170" width="5" fill="#1e439a"/><rect x="175" width="5" fill="#20429a"/><rect x="180" width="5" fill="#23429a"/><rect x="185" width="5" fill="#264199"/><rect x="190" width="5" fill="#2a4199"/><rect x="195" width="5" fill="#2f4098"/><rect x="200" width="5" fill="#353f98"/><rect x="205" width="5" fill="#3b3e97"/><rect x="210" width="5" fill="#433c97"/><rect x="215" width="5" fill="#4a3b96"/><rect x="220" width="5" fill="#523a95"/><rect x="225" width="5" fill="#5a3894"/><rect x="230" width="5" fill="#613794"/><rect x="235" width="5" fill="#693593"/><rect x="240" width="5" fill="#703492"/><rect x="245" width="5" fill="#773291"/><rect x="250" width="5" fill="#7e3090"/><rect x="255" width="5" fill="#842e8f"/><rect x="260" width="5" fill="#8a2d8e"/><rect x="265" width="5" fill="#902b8d"/><rect x="270" width="5" fill="#95298c"/><rect x="275" width="5" fill="#9a288b"/><rect x="280" width="5" fill="#9f2689"/><rect x="285" width="5" fill="#a32488"/><rect x="290" width="5" fill="#a72287"/><rect x="295" width="5" fill="#aa2186"/><rect x="300" width="5" fill="#ae1f85"/><rect x="305" width="5" fill="#b11e84"/><rect x="310" width="5" fill="#b31c82"/><rect x="315" width="5" fill="#b61b81"/><rect x="320" width="5" fill="#b81980"/><rect x="325" width="5" fill="#ba187f"/><rect x="330" width="5" fill="#bc177e"/><rect x="335" width="5" fill="#be157c"/><rect x="340" width="5" fill="#bf147b"/><rect x="345" width="5" fill="#c1137a"/><rect x="350" width="5" fill="#c21279"/><rect x="355" width="5" fill="#c41177"/><rect x="360" width="5" fill="#c51076"/><rect x="365" width="5" fill="#c60f74"/><rect x="370" width="5" fill="#c70f73"/><rect x="375" width="5" fill="#c80e72"/><rect x="380" width="5" fill="#c90d70"/><rect x="385" width="5" fill="#ca0c6f"/><rect x="390" width="5" fill="#cb0c6d"/><rect x="395" width="5" fill="#cb0b6b"/><rect x="400" width="5" fill="#cc0b6a"/><rect x="405" width="5" fill="#cd0a68"/><rect x="410" width="5" fill="#cd0a67"/><rect x="415" width="5" fill="#ce0a65"/><rect x="420" width="5" fill="#cf0963"/><rect x="425" width="5" fill="#cf0962"/><rect x="430" width="5" fill="#d00960"/><rect x="435" width="5" fill="#d0095f"/><rect x="440" width="5" fill="#d1085d"/><rect x="445" width="5" fill="#d1085b"/><rect x="450" width="5" fill="#d2085a"/><rect x="455" width="5" fill="#d20858"/><rect x="460" width="5" fill="#d30857"/><rect x="465" width="5" fill="#d30855"/><rect x="470" width="5" fill="#d30854"/><rect x="475" width="5" fill="#d40852"/><rect x="480" width="5" fill="#d40951"/></g>
</g>
<g class="gridfg">
<line x1="102.4" y1="176" x2="102.4" y2="577.7"/>
<line x1="102.4" y1="577.7" x2="504" y2="577.7"/>
<line x1="151.1" y1="176" x2="151.1" y2="577.7"/>
<line x1="102.4" y1="529.7" x2="504" y2="529.7"/>
<line x1="199.7" y1="176" x2="199.7" y2="577.7"/>
<line x1="102.4" y1="481.0" x2="504" y2="481.0"/>
<line x1="248.3" y1="176" x2="248.3" y2="577.7"/>
<line x1="102.4" y1="432.8" x2="504" y2="432.8"/>
<line x1="297.0" y1="176" x2="297.0" y2="577.7"/>
<line x1="102.4" y1="384.6" x2="504" y2="384.6"/>
<line x1="345.6" y1="176" x2="345.6" y2="577.7"/>
<line x1="102.4" y1="335.6" x2="504" y2="335.6"/>
<line x1="394.3" y1="176" x2="394.3" y2="577.7"/>
<line x1="102.4" y1="287.9" x2="504" y2="287.9"/>
<line x1="442.9" y1="176" x2="442.9" y2="577.7"/>
<line x1="102.4" y1="240.0" x2="504" y2="240.0"/>
<line x1="491.6" y1="176" x2="491.6" y2="577.7"/>
<line x1="102.4" y1="190.7" x2="504" y2="190.7"/>
</g>
</g>
<path d="M248.4 288.3L414.2 416.4L175.4 549.0Z" fill="none" stroke="#de3c4c" stroke-width="1.4" stroke-linejoin="miter"/>
</svg>
<div class="ax" style="left:94px;top:144.5px;font-size:25.5px">y</div>
<div class="ax" style="left:517px;top:567.5px">x</div>
<div class="t yl" style="top:576.0px">0.0</div>
<div class="t yl" style="top:524.2px">0.1</div>
<div class="t yl" style="top:475.9px">0.2</div>
<div class="t yl" style="top:427.2px">0.3</div>
<div class="t yl" style="top:378.5px">0.4</div>
<div class="t yl" style="top:330.2px">0.5</div>
<div class="t yl" style="top:284.2px">0.6</div>
<div class="t yl" style="top:233.6px">0.7</div>
<div class="t yl" style="top:185.2px">0.8</div>
<div class="t xl" style="left:130.9px">0.1</div>
<div class="t xl" style="left:179.3px">0.2</div>
<div class="t xl" style="left:229.3px">0.3</div>
<div class="t xl" style="left:279.0px">0.4</div>
<div class="t xl" style="left:326.9px">0.5</div>
<div class="t xl" style="left:374.6px">0.6</div>
<div class="t xl" style="left:425.5px">0.7</div>
<div class="t xl" style="left:472.8px">0.8</div>
</body></html>
